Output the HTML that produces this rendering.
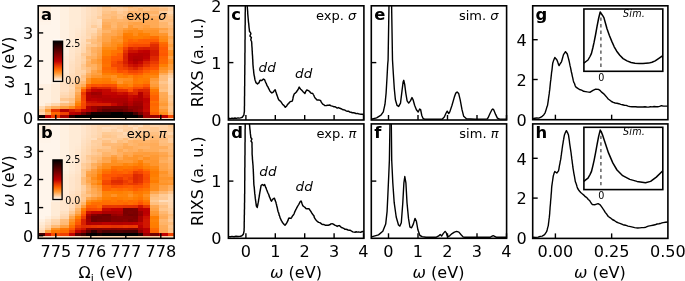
<!DOCTYPE html>
<html><head><meta charset="utf-8"><title>RIXS figure</title>
<style>html,body{margin:0;padding:0;background:#fff;overflow:hidden}svg{display:block}</style>
</head><body>
<svg width="685" height="281" viewBox="0 0 685 281" font-family="DejaVu Sans, 'Liberation Sans', sans-serif"><g shape-rendering="crispEdges">
<rect x="38.2" y="117.2" width="6.6" height="2.9" fill="#ffe5cc"/>
<rect x="38.2" y="114.4" width="6.6" height="3.1" fill="#140000"/>
<rect x="38.2" y="111.6" width="6.6" height="3.1" fill="#ffd7af"/>
<rect x="38.2" y="108.8" width="6.6" height="3.1" fill="#ffcb97"/>
<rect x="38.2" y="106.0" width="6.6" height="3.1" fill="#ffdcb8"/>
<rect x="38.2" y="103.2" width="6.6" height="3.1" fill="#fff0e0"/>
<rect x="38.2" y="100.3" width="6.6" height="3.1" fill="#fff0e0"/>
<rect x="38.2" y="97.5" width="6.6" height="3.1" fill="#fff0e0"/>
<rect x="38.2" y="94.7" width="6.6" height="3.1" fill="#fff0e0"/>
<rect x="38.2" y="91.9" width="6.6" height="3.1" fill="#fff0e0"/>
<rect x="38.2" y="89.1" width="6.6" height="3.1" fill="#fff0e0"/>
<rect x="38.2" y="86.3" width="6.6" height="3.1" fill="#fff0e0"/>
<rect x="38.2" y="83.5" width="6.6" height="3.1" fill="#fff0e1"/>
<rect x="38.2" y="80.7" width="6.6" height="3.1" fill="#fff5eb"/>
<rect x="38.2" y="77.9" width="6.6" height="3.1" fill="#fff5eb"/>
<rect x="38.2" y="75.0" width="6.6" height="3.1" fill="#fff5eb"/>
<rect x="38.2" y="72.2" width="6.6" height="3.1" fill="#fff5eb"/>
<rect x="38.2" y="69.4" width="6.6" height="3.1" fill="#fff5eb"/>
<rect x="38.2" y="66.6" width="6.6" height="3.1" fill="#fff5eb"/>
<rect x="38.2" y="63.8" width="6.6" height="3.1" fill="#fff5eb"/>
<rect x="38.2" y="61.0" width="6.6" height="3.1" fill="#fff5eb"/>
<rect x="38.2" y="58.2" width="6.6" height="3.1" fill="#fff5eb"/>
<rect x="38.2" y="55.4" width="6.6" height="3.1" fill="#fff5eb"/>
<rect x="38.2" y="52.6" width="6.6" height="3.1" fill="#fff5eb"/>
<rect x="38.2" y="49.8" width="6.6" height="3.1" fill="#fff5eb"/>
<rect x="38.2" y="47.0" width="6.6" height="3.1" fill="#fff5eb"/>
<rect x="38.2" y="44.1" width="6.6" height="3.1" fill="#fff5eb"/>
<rect x="38.2" y="41.3" width="6.6" height="3.1" fill="#fff5eb"/>
<rect x="38.2" y="38.5" width="6.6" height="3.1" fill="#fff5eb"/>
<rect x="38.2" y="35.7" width="6.6" height="3.1" fill="#fff5eb"/>
<rect x="38.2" y="32.9" width="6.6" height="3.1" fill="#fff5eb"/>
<rect x="38.2" y="30.1" width="6.6" height="3.1" fill="#fff5eb"/>
<rect x="38.2" y="27.3" width="6.6" height="3.1" fill="#fff5eb"/>
<rect x="38.2" y="24.5" width="6.6" height="3.1" fill="#fff5eb"/>
<rect x="38.2" y="21.7" width="6.6" height="3.1" fill="#fff4e9"/>
<rect x="38.2" y="18.8" width="6.6" height="3.1" fill="#fff2e6"/>
<rect x="38.2" y="16.0" width="6.6" height="3.1" fill="#fff1e3"/>
<rect x="38.2" y="13.2" width="6.6" height="3.1" fill="#fff0e0"/>
<rect x="38.2" y="10.4" width="6.6" height="3.1" fill="#fff0e0"/>
<rect x="38.2" y="7.6" width="6.6" height="3.1" fill="#fff0e0"/>
<rect x="38.2" y="5.8" width="6.6" height="2.1" fill="#fff0e0"/>
<rect x="44.5" y="117.2" width="6.6" height="2.9" fill="#ffe5cc"/>
<rect x="44.5" y="114.4" width="6.6" height="3.1" fill="#ba0000"/>
<rect x="44.5" y="111.6" width="6.6" height="3.1" fill="#ffb367"/>
<rect x="44.5" y="108.8" width="6.6" height="3.1" fill="#ff9933"/>
<rect x="44.5" y="106.0" width="6.6" height="3.1" fill="#ffc182"/>
<rect x="44.5" y="103.2" width="6.6" height="3.1" fill="#ffe6cc"/>
<rect x="44.5" y="100.3" width="6.6" height="3.1" fill="#fff0e0"/>
<rect x="44.5" y="97.5" width="6.6" height="3.1" fill="#fff0e0"/>
<rect x="44.5" y="94.7" width="6.6" height="3.1" fill="#fff0e0"/>
<rect x="44.5" y="91.9" width="6.6" height="3.1" fill="#fff0e0"/>
<rect x="44.5" y="89.1" width="6.6" height="3.1" fill="#fff0e0"/>
<rect x="44.5" y="86.3" width="6.6" height="3.1" fill="#fff0e0"/>
<rect x="44.5" y="83.5" width="6.6" height="3.1" fill="#fff0e1"/>
<rect x="44.5" y="80.7" width="6.6" height="3.1" fill="#fff5eb"/>
<rect x="44.5" y="77.9" width="6.6" height="3.1" fill="#fff5eb"/>
<rect x="44.5" y="75.0" width="6.6" height="3.1" fill="#fff5eb"/>
<rect x="44.5" y="72.2" width="6.6" height="3.1" fill="#fff5eb"/>
<rect x="44.5" y="69.4" width="6.6" height="3.1" fill="#fff5eb"/>
<rect x="44.5" y="66.6" width="6.6" height="3.1" fill="#fff5eb"/>
<rect x="44.5" y="63.8" width="6.6" height="3.1" fill="#fff5eb"/>
<rect x="44.5" y="61.0" width="6.6" height="3.1" fill="#fff5eb"/>
<rect x="44.5" y="58.2" width="6.6" height="3.1" fill="#fff5eb"/>
<rect x="44.5" y="55.4" width="6.6" height="3.1" fill="#fff5eb"/>
<rect x="44.5" y="52.6" width="6.6" height="3.1" fill="#fff5eb"/>
<rect x="44.5" y="49.8" width="6.6" height="3.1" fill="#fff5eb"/>
<rect x="44.5" y="47.0" width="6.6" height="3.1" fill="#fff5eb"/>
<rect x="44.5" y="44.1" width="6.6" height="3.1" fill="#fff5eb"/>
<rect x="44.5" y="41.3" width="6.6" height="3.1" fill="#fff5eb"/>
<rect x="44.5" y="38.5" width="6.6" height="3.1" fill="#fff5eb"/>
<rect x="44.5" y="35.7" width="6.6" height="3.1" fill="#fff5eb"/>
<rect x="44.5" y="32.9" width="6.6" height="3.1" fill="#fff5eb"/>
<rect x="44.5" y="30.1" width="6.6" height="3.1" fill="#fff5eb"/>
<rect x="44.5" y="27.3" width="6.6" height="3.1" fill="#fff5eb"/>
<rect x="44.5" y="24.5" width="6.6" height="3.1" fill="#fff5eb"/>
<rect x="44.5" y="21.7" width="6.6" height="3.1" fill="#fff4e9"/>
<rect x="44.5" y="18.8" width="6.6" height="3.1" fill="#fff2e6"/>
<rect x="44.5" y="16.0" width="6.6" height="3.1" fill="#fff1e3"/>
<rect x="44.5" y="13.2" width="6.6" height="3.1" fill="#fff0e0"/>
<rect x="44.5" y="10.4" width="6.6" height="3.1" fill="#fff0e0"/>
<rect x="44.5" y="7.6" width="6.6" height="3.1" fill="#fff0e0"/>
<rect x="44.5" y="5.8" width="6.6" height="2.1" fill="#fff0e0"/>
<rect x="50.8" y="117.2" width="9.5" height="2.9" fill="#ffe5cc"/>
<rect x="50.8" y="114.4" width="9.5" height="3.1" fill="#ea3900"/>
<rect x="50.8" y="111.6" width="9.5" height="3.1" fill="#ff6600"/>
<rect x="50.8" y="108.8" width="9.5" height="3.1" fill="#e53200"/>
<rect x="50.8" y="106.0" width="9.5" height="3.1" fill="#ffae5c"/>
<rect x="50.8" y="103.2" width="9.5" height="3.1" fill="#ffd7ae"/>
<rect x="50.8" y="100.3" width="9.5" height="3.1" fill="#ffebd6"/>
<rect x="50.8" y="97.5" width="9.5" height="3.1" fill="#ffebd6"/>
<rect x="50.8" y="94.7" width="9.5" height="3.1" fill="#ffebd6"/>
<rect x="50.8" y="91.9" width="9.5" height="3.1" fill="#ffebd6"/>
<rect x="50.8" y="89.1" width="9.5" height="3.1" fill="#ffebd6"/>
<rect x="50.8" y="86.3" width="9.5" height="3.1" fill="#ffebd6"/>
<rect x="50.8" y="83.5" width="9.5" height="3.1" fill="#ffebd7"/>
<rect x="50.8" y="80.7" width="9.5" height="3.1" fill="#fff0e0"/>
<rect x="50.8" y="77.9" width="9.5" height="3.1" fill="#fff0e0"/>
<rect x="50.8" y="75.0" width="9.5" height="3.1" fill="#fff0e0"/>
<rect x="50.8" y="72.2" width="9.5" height="3.1" fill="#fff0e0"/>
<rect x="50.8" y="69.4" width="9.5" height="3.1" fill="#fff0e0"/>
<rect x="50.8" y="66.6" width="9.5" height="3.1" fill="#fff0e0"/>
<rect x="50.8" y="63.8" width="9.5" height="3.1" fill="#fff0e0"/>
<rect x="50.8" y="61.0" width="9.5" height="3.1" fill="#fff0e0"/>
<rect x="50.8" y="58.2" width="9.5" height="3.1" fill="#fff0e0"/>
<rect x="50.8" y="55.4" width="9.5" height="3.1" fill="#fff1e2"/>
<rect x="50.8" y="52.6" width="9.5" height="3.1" fill="#fff3e7"/>
<rect x="50.8" y="49.8" width="9.5" height="3.1" fill="#fff5eb"/>
<rect x="50.8" y="47.0" width="9.5" height="3.1" fill="#fff5eb"/>
<rect x="50.8" y="44.1" width="9.5" height="3.1" fill="#fff5eb"/>
<rect x="50.8" y="41.3" width="9.5" height="3.1" fill="#fff5eb"/>
<rect x="50.8" y="38.5" width="9.5" height="3.1" fill="#fff5eb"/>
<rect x="50.8" y="35.7" width="9.5" height="3.1" fill="#fff5eb"/>
<rect x="50.8" y="32.9" width="9.5" height="3.1" fill="#fff5eb"/>
<rect x="50.8" y="30.1" width="9.5" height="3.1" fill="#fff5eb"/>
<rect x="50.8" y="27.3" width="9.5" height="3.1" fill="#fff5eb"/>
<rect x="50.8" y="24.5" width="9.5" height="3.1" fill="#fff5eb"/>
<rect x="50.8" y="21.7" width="9.5" height="3.1" fill="#fff5eb"/>
<rect x="50.8" y="18.8" width="9.5" height="3.1" fill="#fff5eb"/>
<rect x="50.8" y="16.0" width="9.5" height="3.1" fill="#fff5eb"/>
<rect x="50.8" y="13.2" width="9.5" height="3.1" fill="#fff5eb"/>
<rect x="50.8" y="10.4" width="9.5" height="3.1" fill="#fff5eb"/>
<rect x="50.8" y="7.6" width="9.5" height="3.1" fill="#fff5eb"/>
<rect x="50.8" y="5.8" width="9.5" height="2.1" fill="#fff5eb"/>
<rect x="60.0" y="117.2" width="9.0" height="2.9" fill="#ffe5cc"/>
<rect x="60.0" y="114.4" width="9.0" height="3.1" fill="#9f0000"/>
<rect x="60.0" y="111.6" width="9.0" height="3.1" fill="#f04000"/>
<rect x="60.0" y="108.8" width="9.0" height="3.1" fill="#b30000"/>
<rect x="60.0" y="106.0" width="9.0" height="3.1" fill="#ff9e3d"/>
<rect x="60.0" y="103.2" width="9.0" height="3.1" fill="#ffbe7e"/>
<rect x="60.0" y="100.3" width="9.0" height="3.1" fill="#ffdab4"/>
<rect x="60.0" y="97.5" width="9.0" height="3.1" fill="#ffc892"/>
<rect x="60.0" y="94.7" width="9.0" height="3.1" fill="#ffd6ae"/>
<rect x="60.0" y="91.9" width="9.0" height="3.1" fill="#ffdbb8"/>
<rect x="60.0" y="89.1" width="9.0" height="3.1" fill="#ffe0c2"/>
<rect x="60.0" y="86.3" width="9.0" height="3.1" fill="#ffe0c2"/>
<rect x="60.0" y="83.5" width="9.0" height="3.1" fill="#ffe0c2"/>
<rect x="60.0" y="80.7" width="9.0" height="3.1" fill="#ffe1c2"/>
<rect x="60.0" y="77.9" width="9.0" height="3.1" fill="#ffe3c7"/>
<rect x="60.0" y="75.0" width="9.0" height="3.1" fill="#ffe5cb"/>
<rect x="60.0" y="72.2" width="9.0" height="3.1" fill="#ffe8d0"/>
<rect x="60.0" y="69.4" width="9.0" height="3.1" fill="#ffead5"/>
<rect x="60.0" y="66.6" width="9.0" height="3.1" fill="#ffebd6"/>
<rect x="60.0" y="63.8" width="9.0" height="3.1" fill="#ffebd6"/>
<rect x="60.0" y="61.0" width="9.0" height="3.1" fill="#ffebd6"/>
<rect x="60.0" y="58.2" width="9.0" height="3.1" fill="#ffebd6"/>
<rect x="60.0" y="55.4" width="9.0" height="3.1" fill="#ffecd8"/>
<rect x="60.0" y="52.6" width="9.0" height="3.1" fill="#ffeedd"/>
<rect x="60.0" y="49.8" width="9.0" height="3.1" fill="#fff0e0"/>
<rect x="60.0" y="47.0" width="9.0" height="3.1" fill="#fff0e0"/>
<rect x="60.0" y="44.1" width="9.0" height="3.1" fill="#fff0e0"/>
<rect x="60.0" y="41.3" width="9.0" height="3.1" fill="#fff0e0"/>
<rect x="60.0" y="38.5" width="9.0" height="3.1" fill="#fff0e0"/>
<rect x="60.0" y="35.7" width="9.0" height="3.1" fill="#fff0e0"/>
<rect x="60.0" y="32.9" width="9.0" height="3.1" fill="#fff0e0"/>
<rect x="60.0" y="30.1" width="9.0" height="3.1" fill="#fff0e0"/>
<rect x="60.0" y="27.3" width="9.0" height="3.1" fill="#fff0e0"/>
<rect x="60.0" y="24.5" width="9.0" height="3.1" fill="#fff0e0"/>
<rect x="60.0" y="21.7" width="9.0" height="3.1" fill="#fff0e0"/>
<rect x="60.0" y="18.8" width="9.0" height="3.1" fill="#fff0e0"/>
<rect x="60.0" y="16.0" width="9.0" height="3.1" fill="#fff0e0"/>
<rect x="60.0" y="13.2" width="9.0" height="3.1" fill="#fff0e0"/>
<rect x="60.0" y="10.4" width="9.0" height="3.1" fill="#fff0e0"/>
<rect x="60.0" y="7.6" width="9.0" height="3.1" fill="#fff0e0"/>
<rect x="60.0" y="5.8" width="9.0" height="2.1" fill="#fff0e0"/>
<rect x="68.7" y="117.2" width="6.9" height="2.9" fill="#ffe5cc"/>
<rect x="68.7" y="114.4" width="6.9" height="3.1" fill="#270000"/>
<rect x="68.7" y="111.6" width="6.9" height="3.1" fill="#b90000"/>
<rect x="68.7" y="108.8" width="6.9" height="3.1" fill="#d11800"/>
<rect x="68.7" y="106.0" width="6.9" height="3.1" fill="#ff8d1b"/>
<rect x="68.7" y="103.2" width="6.9" height="3.1" fill="#ffb469"/>
<rect x="68.7" y="100.3" width="6.9" height="3.1" fill="#ffc68c"/>
<rect x="68.7" y="97.5" width="6.9" height="3.1" fill="#ffc184"/>
<rect x="68.7" y="94.7" width="6.9" height="3.1" fill="#ffcf9f"/>
<rect x="68.7" y="91.9" width="6.9" height="3.1" fill="#ffd2a5"/>
<rect x="68.7" y="89.1" width="6.9" height="3.1" fill="#ffd6ad"/>
<rect x="68.7" y="86.3" width="6.9" height="3.1" fill="#ffdab5"/>
<rect x="68.7" y="83.5" width="6.9" height="3.1" fill="#ffd6ad"/>
<rect x="68.7" y="80.7" width="6.9" height="3.1" fill="#ffd6ae"/>
<rect x="68.7" y="77.9" width="6.9" height="3.1" fill="#ffd9b2"/>
<rect x="68.7" y="75.0" width="6.9" height="3.1" fill="#ffdbb7"/>
<rect x="68.7" y="72.2" width="6.9" height="3.1" fill="#ffddbc"/>
<rect x="68.7" y="69.4" width="6.9" height="3.1" fill="#ffe0c0"/>
<rect x="68.7" y="66.6" width="6.9" height="3.1" fill="#ffe0c2"/>
<rect x="68.7" y="63.8" width="6.9" height="3.1" fill="#ffe0c2"/>
<rect x="68.7" y="61.0" width="6.9" height="3.1" fill="#ffe2c5"/>
<rect x="68.7" y="58.2" width="6.9" height="3.1" fill="#ffe4c9"/>
<rect x="68.7" y="55.4" width="6.9" height="3.1" fill="#ffe5cc"/>
<rect x="68.7" y="52.6" width="6.9" height="3.1" fill="#ffe5cc"/>
<rect x="68.7" y="49.8" width="6.9" height="3.1" fill="#ffe6cd"/>
<rect x="68.7" y="47.0" width="6.9" height="3.1" fill="#ffe8d1"/>
<rect x="68.7" y="44.1" width="6.9" height="3.1" fill="#ffead5"/>
<rect x="68.7" y="41.3" width="6.9" height="3.1" fill="#ffebd6"/>
<rect x="68.7" y="38.5" width="6.9" height="3.1" fill="#ffebd6"/>
<rect x="68.7" y="35.7" width="6.9" height="3.1" fill="#ffebd6"/>
<rect x="68.7" y="32.9" width="6.9" height="3.1" fill="#ffebd6"/>
<rect x="68.7" y="30.1" width="6.9" height="3.1" fill="#ffebd6"/>
<rect x="68.7" y="27.3" width="6.9" height="3.1" fill="#ffebd6"/>
<rect x="68.7" y="24.5" width="6.9" height="3.1" fill="#ffebd6"/>
<rect x="68.7" y="21.7" width="6.9" height="3.1" fill="#ffebd6"/>
<rect x="68.7" y="18.8" width="6.9" height="3.1" fill="#ffebd6"/>
<rect x="68.7" y="16.0" width="6.9" height="3.1" fill="#ffebd6"/>
<rect x="68.7" y="13.2" width="6.9" height="3.1" fill="#ffebd6"/>
<rect x="68.7" y="10.4" width="6.9" height="3.1" fill="#ffebd6"/>
<rect x="68.7" y="7.6" width="6.9" height="3.1" fill="#ffebd6"/>
<rect x="68.7" y="5.8" width="6.9" height="2.1" fill="#ffebd6"/>
<rect x="75.3" y="117.2" width="5.9" height="2.9" fill="#ffe0c2"/>
<rect x="75.3" y="114.4" width="5.9" height="3.1" fill="#000000"/>
<rect x="75.3" y="111.6" width="5.9" height="3.1" fill="#ad0000"/>
<rect x="75.3" y="108.8" width="5.9" height="3.1" fill="#df2a00"/>
<rect x="75.3" y="106.0" width="5.9" height="3.1" fill="#ff6000"/>
<rect x="75.3" y="103.2" width="5.9" height="3.1" fill="#ff7f00"/>
<rect x="75.3" y="100.3" width="5.9" height="3.1" fill="#ff8c1a"/>
<rect x="75.3" y="97.5" width="5.9" height="3.1" fill="#ff9933"/>
<rect x="75.3" y="94.7" width="5.9" height="3.1" fill="#ffa042"/>
<rect x="75.3" y="91.9" width="5.9" height="3.1" fill="#ffa954"/>
<rect x="75.3" y="89.1" width="5.9" height="3.1" fill="#ffb76e"/>
<rect x="75.3" y="86.3" width="5.9" height="3.1" fill="#ffaf5f"/>
<rect x="75.3" y="83.5" width="5.9" height="3.1" fill="#ffb973"/>
<rect x="75.3" y="80.7" width="5.9" height="3.1" fill="#ffc183"/>
<rect x="75.3" y="77.9" width="5.9" height="3.1" fill="#ffca96"/>
<rect x="75.3" y="75.0" width="5.9" height="3.1" fill="#ffd8b2"/>
<rect x="75.3" y="72.2" width="5.9" height="3.1" fill="#ffd6ad"/>
<rect x="75.3" y="69.4" width="5.9" height="3.1" fill="#ffd6ad"/>
<rect x="75.3" y="66.6" width="5.9" height="3.1" fill="#ffd8b1"/>
<rect x="75.3" y="63.8" width="5.9" height="3.1" fill="#ffdab6"/>
<rect x="75.3" y="61.0" width="5.9" height="3.1" fill="#ffdbb8"/>
<rect x="75.3" y="58.2" width="5.9" height="3.1" fill="#ffdbb8"/>
<rect x="75.3" y="55.4" width="5.9" height="3.1" fill="#ffdcba"/>
<rect x="75.3" y="52.6" width="5.9" height="3.1" fill="#ffdfbe"/>
<rect x="75.3" y="49.8" width="5.9" height="3.1" fill="#ffe1c3"/>
<rect x="75.3" y="47.0" width="5.9" height="3.1" fill="#ffe3c7"/>
<rect x="75.3" y="44.1" width="5.9" height="3.1" fill="#ffe5cb"/>
<rect x="75.3" y="41.3" width="5.9" height="3.1" fill="#ffe5cc"/>
<rect x="75.3" y="38.5" width="5.9" height="3.1" fill="#ffe5cc"/>
<rect x="75.3" y="35.7" width="5.9" height="3.1" fill="#ffe5cc"/>
<rect x="75.3" y="32.9" width="5.9" height="3.1" fill="#ffe6cd"/>
<rect x="75.3" y="30.1" width="5.9" height="3.1" fill="#ffe7d0"/>
<rect x="75.3" y="27.3" width="5.9" height="3.1" fill="#ffe9d2"/>
<rect x="75.3" y="24.5" width="5.9" height="3.1" fill="#ffead5"/>
<rect x="75.3" y="21.7" width="5.9" height="3.1" fill="#ffebd6"/>
<rect x="75.3" y="18.8" width="5.9" height="3.1" fill="#ffebd6"/>
<rect x="75.3" y="16.0" width="5.9" height="3.1" fill="#ffebd6"/>
<rect x="75.3" y="13.2" width="5.9" height="3.1" fill="#ffebd6"/>
<rect x="75.3" y="10.4" width="5.9" height="3.1" fill="#ffebd6"/>
<rect x="75.3" y="7.6" width="5.9" height="3.1" fill="#ffebd6"/>
<rect x="75.3" y="5.8" width="5.9" height="2.1" fill="#ffebd6"/>
<rect x="80.9" y="117.2" width="5.4" height="2.9" fill="#ffe0c2"/>
<rect x="80.9" y="114.4" width="5.4" height="3.1" fill="#000000"/>
<rect x="80.9" y="111.6" width="5.4" height="3.1" fill="#770000"/>
<rect x="80.9" y="108.8" width="5.4" height="3.1" fill="#c30400"/>
<rect x="80.9" y="106.0" width="5.4" height="3.1" fill="#f34500"/>
<rect x="80.9" y="103.2" width="5.4" height="3.1" fill="#f54800"/>
<rect x="80.9" y="100.3" width="5.4" height="3.1" fill="#fa4e00"/>
<rect x="80.9" y="97.5" width="5.4" height="3.1" fill="#f44600"/>
<rect x="80.9" y="94.7" width="5.4" height="3.1" fill="#f34400"/>
<rect x="80.9" y="91.9" width="5.4" height="3.1" fill="#eb3b00"/>
<rect x="80.9" y="89.1" width="5.4" height="3.1" fill="#ff5c00"/>
<rect x="80.9" y="86.3" width="5.4" height="3.1" fill="#ff8a15"/>
<rect x="80.9" y="83.5" width="5.4" height="3.1" fill="#ffaa55"/>
<rect x="80.9" y="80.7" width="5.4" height="3.1" fill="#ffba76"/>
<rect x="80.9" y="77.9" width="5.4" height="3.1" fill="#ffc78f"/>
<rect x="80.9" y="75.0" width="5.4" height="3.1" fill="#ffc286"/>
<rect x="80.9" y="72.2" width="5.4" height="3.1" fill="#ffce9d"/>
<rect x="80.9" y="69.4" width="5.4" height="3.1" fill="#ffd4a9"/>
<rect x="80.9" y="66.6" width="5.4" height="3.1" fill="#ffca94"/>
<rect x="80.9" y="63.8" width="5.4" height="3.1" fill="#ffc78f"/>
<rect x="80.9" y="61.0" width="5.4" height="3.1" fill="#ffd0a1"/>
<rect x="80.9" y="58.2" width="5.4" height="3.1" fill="#ffd4a8"/>
<rect x="80.9" y="55.4" width="5.4" height="3.1" fill="#ffd1a3"/>
<rect x="80.9" y="52.6" width="5.4" height="3.1" fill="#ffca96"/>
<rect x="80.9" y="49.8" width="5.4" height="3.1" fill="#ffd7af"/>
<rect x="80.9" y="47.0" width="5.4" height="3.1" fill="#ffd9b3"/>
<rect x="80.9" y="44.1" width="5.4" height="3.1" fill="#ffdbb7"/>
<rect x="80.9" y="41.3" width="5.4" height="3.1" fill="#ffdcba"/>
<rect x="80.9" y="38.5" width="5.4" height="3.1" fill="#ffdebd"/>
<rect x="80.9" y="35.7" width="5.4" height="3.1" fill="#ffdfc0"/>
<rect x="80.9" y="32.9" width="5.4" height="3.1" fill="#ffe1c3"/>
<rect x="80.9" y="30.1" width="5.4" height="3.1" fill="#ffe2c5"/>
<rect x="80.9" y="27.3" width="5.4" height="3.1" fill="#ffe4c8"/>
<rect x="80.9" y="24.5" width="5.4" height="3.1" fill="#ffe5cb"/>
<rect x="80.9" y="21.7" width="5.4" height="3.1" fill="#ffe5cc"/>
<rect x="80.9" y="18.8" width="5.4" height="3.1" fill="#ffe5cc"/>
<rect x="80.9" y="16.0" width="5.4" height="3.1" fill="#ffe5cc"/>
<rect x="80.9" y="13.2" width="5.4" height="3.1" fill="#ffe5cc"/>
<rect x="80.9" y="10.4" width="5.4" height="3.1" fill="#ffe5cc"/>
<rect x="80.9" y="7.6" width="5.4" height="3.1" fill="#ffe5cc"/>
<rect x="80.9" y="5.8" width="5.4" height="2.1" fill="#ffe5cc"/>
<rect x="86.0" y="117.2" width="5.4" height="2.9" fill="#ffe0c2"/>
<rect x="86.0" y="114.4" width="5.4" height="3.1" fill="#000000"/>
<rect x="86.0" y="111.6" width="5.4" height="3.1" fill="#490000"/>
<rect x="86.0" y="108.8" width="5.4" height="3.1" fill="#b10000"/>
<rect x="86.0" y="106.0" width="5.4" height="3.1" fill="#b40000"/>
<rect x="86.0" y="103.2" width="5.4" height="3.1" fill="#d82100"/>
<rect x="86.0" y="100.3" width="5.4" height="3.1" fill="#cd1200"/>
<rect x="86.0" y="97.5" width="5.4" height="3.1" fill="#b70000"/>
<rect x="86.0" y="94.7" width="5.4" height="3.1" fill="#b80000"/>
<rect x="86.0" y="91.9" width="5.4" height="3.1" fill="#b40000"/>
<rect x="86.0" y="89.1" width="5.4" height="3.1" fill="#d41c00"/>
<rect x="86.0" y="86.3" width="5.4" height="3.1" fill="#f64900"/>
<rect x="86.0" y="83.5" width="5.4" height="3.1" fill="#ff6300"/>
<rect x="86.0" y="80.7" width="5.4" height="3.1" fill="#ff9123"/>
<rect x="86.0" y="77.9" width="5.4" height="3.1" fill="#ff9327"/>
<rect x="86.0" y="75.0" width="5.4" height="3.1" fill="#ffa852"/>
<rect x="86.0" y="72.2" width="5.4" height="3.1" fill="#ffaf5e"/>
<rect x="86.0" y="69.4" width="5.4" height="3.1" fill="#ffbe7e"/>
<rect x="86.0" y="66.6" width="5.4" height="3.1" fill="#ffbf7f"/>
<rect x="86.0" y="63.8" width="5.4" height="3.1" fill="#ffb061"/>
<rect x="86.0" y="61.0" width="5.4" height="3.1" fill="#ffb265"/>
<rect x="86.0" y="58.2" width="5.4" height="3.1" fill="#ffbb77"/>
<rect x="86.0" y="55.4" width="5.4" height="3.1" fill="#ffb366"/>
<rect x="86.0" y="52.6" width="5.4" height="3.1" fill="#ffc489"/>
<rect x="86.0" y="49.8" width="5.4" height="3.1" fill="#ffc58b"/>
<rect x="86.0" y="47.0" width="5.4" height="3.1" fill="#ffc182"/>
<rect x="86.0" y="44.1" width="5.4" height="3.1" fill="#ffc992"/>
<rect x="86.0" y="41.3" width="5.4" height="3.1" fill="#ffd6ac"/>
<rect x="86.0" y="38.5" width="5.4" height="3.1" fill="#ffc891"/>
<rect x="86.0" y="35.7" width="5.4" height="3.1" fill="#ffd9b4"/>
<rect x="86.0" y="32.9" width="5.4" height="3.1" fill="#ffd7ae"/>
<rect x="86.0" y="30.1" width="5.4" height="3.1" fill="#ffd8b1"/>
<rect x="86.0" y="27.3" width="5.4" height="3.1" fill="#ffd9b4"/>
<rect x="86.0" y="24.5" width="5.4" height="3.1" fill="#ffdbb7"/>
<rect x="86.0" y="21.7" width="5.4" height="3.1" fill="#ffdcba"/>
<rect x="86.0" y="18.8" width="5.4" height="3.1" fill="#ffdebc"/>
<rect x="86.0" y="16.0" width="5.4" height="3.1" fill="#ffdfbf"/>
<rect x="86.0" y="13.2" width="5.4" height="3.1" fill="#ffe0c2"/>
<rect x="86.0" y="10.4" width="5.4" height="3.1" fill="#ffe0c2"/>
<rect x="86.0" y="7.6" width="5.4" height="3.1" fill="#ffe0c2"/>
<rect x="86.0" y="5.8" width="5.4" height="2.1" fill="#ffe0c2"/>
<rect x="91.1" y="117.2" width="5.7" height="2.9" fill="#ffe0c2"/>
<rect x="91.1" y="114.4" width="5.7" height="3.1" fill="#000000"/>
<rect x="91.1" y="111.6" width="5.7" height="3.1" fill="#140000"/>
<rect x="91.1" y="108.8" width="5.7" height="3.1" fill="#9c0000"/>
<rect x="91.1" y="106.0" width="5.7" height="3.1" fill="#9a0000"/>
<rect x="91.1" y="103.2" width="5.7" height="3.1" fill="#d51c00"/>
<rect x="91.1" y="100.3" width="5.7" height="3.1" fill="#c90e00"/>
<rect x="91.1" y="97.5" width="5.7" height="3.1" fill="#bd0000"/>
<rect x="91.1" y="94.7" width="5.7" height="3.1" fill="#ae0000"/>
<rect x="91.1" y="91.9" width="5.7" height="3.1" fill="#9d0000"/>
<rect x="91.1" y="89.1" width="5.7" height="3.1" fill="#c00100"/>
<rect x="91.1" y="86.3" width="5.7" height="3.1" fill="#d61e00"/>
<rect x="91.1" y="83.5" width="5.7" height="3.1" fill="#fc5100"/>
<rect x="91.1" y="80.7" width="5.7" height="3.1" fill="#ff7c00"/>
<rect x="91.1" y="77.9" width="5.7" height="3.1" fill="#ff8002"/>
<rect x="91.1" y="75.0" width="5.7" height="3.1" fill="#ff972f"/>
<rect x="91.1" y="72.2" width="5.7" height="3.1" fill="#ffa040"/>
<rect x="91.1" y="69.4" width="5.7" height="3.1" fill="#ffa449"/>
<rect x="91.1" y="66.6" width="5.7" height="3.1" fill="#ffb264"/>
<rect x="91.1" y="63.8" width="5.7" height="3.1" fill="#ffb060"/>
<rect x="91.1" y="61.0" width="5.7" height="3.1" fill="#ffa143"/>
<rect x="91.1" y="58.2" width="5.7" height="3.1" fill="#ffa246"/>
<rect x="91.1" y="55.4" width="5.7" height="3.1" fill="#ffaf5f"/>
<rect x="91.1" y="52.6" width="5.7" height="3.1" fill="#ffb56b"/>
<rect x="91.1" y="49.8" width="5.7" height="3.1" fill="#ffb061"/>
<rect x="91.1" y="47.0" width="5.7" height="3.1" fill="#ffb266"/>
<rect x="91.1" y="44.1" width="5.7" height="3.1" fill="#ffc68d"/>
<rect x="91.1" y="41.3" width="5.7" height="3.1" fill="#ffbc79"/>
<rect x="91.1" y="38.5" width="5.7" height="3.1" fill="#ffc081"/>
<rect x="91.1" y="35.7" width="5.7" height="3.1" fill="#ffc891"/>
<rect x="91.1" y="32.9" width="5.7" height="3.1" fill="#ffce9d"/>
<rect x="91.1" y="30.1" width="5.7" height="3.1" fill="#ffd7af"/>
<rect x="91.1" y="27.3" width="5.7" height="3.1" fill="#ffdbb7"/>
<rect x="91.1" y="24.5" width="5.7" height="3.1" fill="#ffcd9b"/>
<rect x="91.1" y="21.7" width="5.7" height="3.1" fill="#ffd7af"/>
<rect x="91.1" y="18.8" width="5.7" height="3.1" fill="#ffd9b2"/>
<rect x="91.1" y="16.0" width="5.7" height="3.1" fill="#ffdab5"/>
<rect x="91.1" y="13.2" width="5.7" height="3.1" fill="#ffdbb8"/>
<rect x="91.1" y="10.4" width="5.7" height="3.1" fill="#ffdbb8"/>
<rect x="91.1" y="7.6" width="5.7" height="3.1" fill="#ffdbb8"/>
<rect x="91.1" y="5.8" width="5.7" height="2.1" fill="#ffdbb8"/>
<rect x="96.5" y="117.2" width="5.8" height="2.9" fill="#ffe0c2"/>
<rect x="96.5" y="114.4" width="5.8" height="3.1" fill="#000000"/>
<rect x="96.5" y="111.6" width="5.8" height="3.1" fill="#140000"/>
<rect x="96.5" y="108.8" width="5.8" height="3.1" fill="#770000"/>
<rect x="96.5" y="106.0" width="5.8" height="3.1" fill="#8c0000"/>
<rect x="96.5" y="103.2" width="5.8" height="3.1" fill="#d61e00"/>
<rect x="96.5" y="100.3" width="5.8" height="3.1" fill="#c20400"/>
<rect x="96.5" y="97.5" width="5.8" height="3.1" fill="#b60000"/>
<rect x="96.5" y="94.7" width="5.8" height="3.1" fill="#ab0000"/>
<rect x="96.5" y="91.9" width="5.8" height="3.1" fill="#a20000"/>
<rect x="96.5" y="89.1" width="5.8" height="3.1" fill="#b90000"/>
<rect x="96.5" y="86.3" width="5.8" height="3.1" fill="#dd2800"/>
<rect x="96.5" y="83.5" width="5.8" height="3.1" fill="#fe5300"/>
<rect x="96.5" y="80.7" width="5.8" height="3.1" fill="#ff7a00"/>
<rect x="96.5" y="77.9" width="5.8" height="3.1" fill="#ff8206"/>
<rect x="96.5" y="75.0" width="5.8" height="3.1" fill="#ff952a"/>
<rect x="96.5" y="72.2" width="5.8" height="3.1" fill="#ff9f3f"/>
<rect x="96.5" y="69.4" width="5.8" height="3.1" fill="#ff962c"/>
<rect x="96.5" y="66.6" width="5.8" height="3.1" fill="#ffa041"/>
<rect x="96.5" y="63.8" width="5.8" height="3.1" fill="#ff9f3f"/>
<rect x="96.5" y="61.0" width="5.8" height="3.1" fill="#ff9831"/>
<rect x="96.5" y="58.2" width="5.8" height="3.1" fill="#ff952b"/>
<rect x="96.5" y="55.4" width="5.8" height="3.1" fill="#ff9f3f"/>
<rect x="96.5" y="52.6" width="5.8" height="3.1" fill="#ffa449"/>
<rect x="96.5" y="49.8" width="5.8" height="3.1" fill="#ffa750"/>
<rect x="96.5" y="47.0" width="5.8" height="3.1" fill="#ffaa55"/>
<rect x="96.5" y="44.1" width="5.8" height="3.1" fill="#ffb871"/>
<rect x="96.5" y="41.3" width="5.8" height="3.1" fill="#ffb872"/>
<rect x="96.5" y="38.5" width="5.8" height="3.1" fill="#ffb367"/>
<rect x="96.5" y="35.7" width="5.8" height="3.1" fill="#ffb66c"/>
<rect x="96.5" y="32.9" width="5.8" height="3.1" fill="#ffc081"/>
<rect x="96.5" y="30.1" width="5.8" height="3.1" fill="#ffc488"/>
<rect x="96.5" y="27.3" width="5.8" height="3.1" fill="#ffca95"/>
<rect x="96.5" y="24.5" width="5.8" height="3.1" fill="#ffd6ae"/>
<rect x="96.5" y="21.7" width="5.8" height="3.1" fill="#ffdbb6"/>
<rect x="96.5" y="18.8" width="5.8" height="3.1" fill="#ffdcba"/>
<rect x="96.5" y="16.0" width="5.8" height="3.1" fill="#ffcd9c"/>
<rect x="96.5" y="13.2" width="5.8" height="3.1" fill="#ffd6ad"/>
<rect x="96.5" y="10.4" width="5.8" height="3.1" fill="#ffd6ad"/>
<rect x="96.5" y="7.6" width="5.8" height="3.1" fill="#ffd6ad"/>
<rect x="96.5" y="5.8" width="5.8" height="2.1" fill="#ffd6ad"/>
<rect x="102.0" y="117.2" width="9.1" height="2.9" fill="#ffe0c2"/>
<rect x="102.0" y="114.4" width="9.1" height="3.1" fill="#000000"/>
<rect x="102.0" y="111.6" width="9.1" height="3.1" fill="#140000"/>
<rect x="102.0" y="108.8" width="9.1" height="3.1" fill="#5d0000"/>
<rect x="102.0" y="106.0" width="9.1" height="3.1" fill="#7d0000"/>
<rect x="102.0" y="103.2" width="9.1" height="3.1" fill="#d51d00"/>
<rect x="102.0" y="100.3" width="9.1" height="3.1" fill="#b90000"/>
<rect x="102.0" y="97.5" width="9.1" height="3.1" fill="#b00000"/>
<rect x="102.0" y="94.7" width="9.1" height="3.1" fill="#b50000"/>
<rect x="102.0" y="91.9" width="9.1" height="3.1" fill="#c20400"/>
<rect x="102.0" y="89.1" width="9.1" height="3.1" fill="#c40700"/>
<rect x="102.0" y="86.3" width="9.1" height="3.1" fill="#dd2800"/>
<rect x="102.0" y="83.5" width="9.1" height="3.1" fill="#f94e00"/>
<rect x="102.0" y="80.7" width="9.1" height="3.1" fill="#ff7600"/>
<rect x="102.0" y="77.9" width="9.1" height="3.1" fill="#ff7d00"/>
<rect x="102.0" y="75.0" width="9.1" height="3.1" fill="#ff8913"/>
<rect x="102.0" y="72.2" width="9.1" height="3.1" fill="#ff7f00"/>
<rect x="102.0" y="69.4" width="9.1" height="3.1" fill="#ff6f00"/>
<rect x="102.0" y="66.6" width="9.1" height="3.1" fill="#ff6900"/>
<rect x="102.0" y="63.8" width="9.1" height="3.1" fill="#ff7300"/>
<rect x="102.0" y="61.0" width="9.1" height="3.1" fill="#ff6e00"/>
<rect x="102.0" y="58.2" width="9.1" height="3.1" fill="#ff6d00"/>
<rect x="102.0" y="55.4" width="9.1" height="3.1" fill="#ff7200"/>
<rect x="102.0" y="52.6" width="9.1" height="3.1" fill="#ff8103"/>
<rect x="102.0" y="49.8" width="9.1" height="3.1" fill="#ff8204"/>
<rect x="102.0" y="47.0" width="9.1" height="3.1" fill="#ff8912"/>
<rect x="102.0" y="44.1" width="9.1" height="3.1" fill="#ff962d"/>
<rect x="102.0" y="41.3" width="9.1" height="3.1" fill="#ff9a35"/>
<rect x="102.0" y="38.5" width="9.1" height="3.1" fill="#ffa347"/>
<rect x="102.0" y="35.7" width="9.1" height="3.1" fill="#ffa448"/>
<rect x="102.0" y="32.9" width="9.1" height="3.1" fill="#ffa74f"/>
<rect x="102.0" y="30.1" width="9.1" height="3.1" fill="#ffb468"/>
<rect x="102.0" y="27.3" width="9.1" height="3.1" fill="#ffac59"/>
<rect x="102.0" y="24.5" width="9.1" height="3.1" fill="#ffa952"/>
<rect x="102.0" y="21.7" width="9.1" height="3.1" fill="#ffae5e"/>
<rect x="102.0" y="18.8" width="9.1" height="3.1" fill="#ffb66c"/>
<rect x="102.0" y="16.0" width="9.1" height="3.1" fill="#ffc081"/>
<rect x="102.0" y="13.2" width="9.1" height="3.1" fill="#ffbe7d"/>
<rect x="102.0" y="10.4" width="9.1" height="3.1" fill="#ffc489"/>
<rect x="102.0" y="7.6" width="9.1" height="3.1" fill="#ffca94"/>
<rect x="102.0" y="5.8" width="9.1" height="2.1" fill="#ffc68c"/>
<rect x="110.8" y="117.2" width="6.9" height="2.9" fill="#ffe0c2"/>
<rect x="110.8" y="114.4" width="6.9" height="3.1" fill="#000000"/>
<rect x="110.8" y="111.6" width="6.9" height="3.1" fill="#010000"/>
<rect x="110.8" y="108.8" width="6.9" height="3.1" fill="#660000"/>
<rect x="110.8" y="106.0" width="6.9" height="3.1" fill="#780000"/>
<rect x="110.8" y="103.2" width="6.9" height="3.1" fill="#c60800"/>
<rect x="110.8" y="100.3" width="6.9" height="3.1" fill="#b20000"/>
<rect x="110.8" y="97.5" width="6.9" height="3.1" fill="#b00000"/>
<rect x="110.8" y="94.7" width="6.9" height="3.1" fill="#bc0000"/>
<rect x="110.8" y="91.9" width="6.9" height="3.1" fill="#c10200"/>
<rect x="110.8" y="89.1" width="6.9" height="3.1" fill="#d72000"/>
<rect x="110.8" y="86.3" width="6.9" height="3.1" fill="#e93700"/>
<rect x="110.8" y="83.5" width="6.9" height="3.1" fill="#fc5000"/>
<rect x="110.8" y="80.7" width="6.9" height="3.1" fill="#ff7f00"/>
<rect x="110.8" y="77.9" width="6.9" height="3.1" fill="#ff8d1b"/>
<rect x="110.8" y="75.0" width="6.9" height="3.1" fill="#ff9123"/>
<rect x="110.8" y="72.2" width="6.9" height="3.1" fill="#ff7800"/>
<rect x="110.8" y="69.4" width="6.9" height="3.1" fill="#ff6800"/>
<rect x="110.8" y="66.6" width="6.9" height="3.1" fill="#ff5d00"/>
<rect x="110.8" y="63.8" width="6.9" height="3.1" fill="#f54800"/>
<rect x="110.8" y="61.0" width="6.9" height="3.1" fill="#f94e00"/>
<rect x="110.8" y="58.2" width="6.9" height="3.1" fill="#ff5900"/>
<rect x="110.8" y="55.4" width="6.9" height="3.1" fill="#ff5a00"/>
<rect x="110.8" y="52.6" width="6.9" height="3.1" fill="#ff7000"/>
<rect x="110.8" y="49.8" width="6.9" height="3.1" fill="#ff7500"/>
<rect x="110.8" y="47.0" width="6.9" height="3.1" fill="#ff8811"/>
<rect x="110.8" y="44.1" width="6.9" height="3.1" fill="#ff8e1d"/>
<rect x="110.8" y="41.3" width="6.9" height="3.1" fill="#ff8e1d"/>
<rect x="110.8" y="38.5" width="6.9" height="3.1" fill="#ff9224"/>
<rect x="110.8" y="35.7" width="6.9" height="3.1" fill="#ff9831"/>
<rect x="110.8" y="32.9" width="6.9" height="3.1" fill="#ffa64e"/>
<rect x="110.8" y="30.1" width="6.9" height="3.1" fill="#ffa74f"/>
<rect x="110.8" y="27.3" width="6.9" height="3.1" fill="#ffb061"/>
<rect x="110.8" y="24.5" width="6.9" height="3.1" fill="#ffb871"/>
<rect x="110.8" y="21.7" width="6.9" height="3.1" fill="#ffb66c"/>
<rect x="110.8" y="18.8" width="6.9" height="3.1" fill="#ffb468"/>
<rect x="110.8" y="16.0" width="6.9" height="3.1" fill="#ffb870"/>
<rect x="110.8" y="13.2" width="6.9" height="3.1" fill="#ffbe7e"/>
<rect x="110.8" y="10.4" width="6.9" height="3.1" fill="#ffbd7b"/>
<rect x="110.8" y="7.6" width="6.9" height="3.1" fill="#ffcd9a"/>
<rect x="110.8" y="5.8" width="6.9" height="2.1" fill="#ffd2a5"/>
<rect x="117.4" y="117.2" width="5.7" height="2.9" fill="#ffe0c2"/>
<rect x="117.4" y="114.4" width="5.7" height="3.1" fill="#000000"/>
<rect x="117.4" y="111.6" width="5.7" height="3.1" fill="#010000"/>
<rect x="117.4" y="108.8" width="5.7" height="3.1" fill="#610000"/>
<rect x="117.4" y="106.0" width="5.7" height="3.1" fill="#7a0000"/>
<rect x="117.4" y="103.2" width="5.7" height="3.1" fill="#b00000"/>
<rect x="117.4" y="100.3" width="5.7" height="3.1" fill="#ad0000"/>
<rect x="117.4" y="97.5" width="5.7" height="3.1" fill="#ae0000"/>
<rect x="117.4" y="94.7" width="5.7" height="3.1" fill="#b80000"/>
<rect x="117.4" y="91.9" width="5.7" height="3.1" fill="#ca0f00"/>
<rect x="117.4" y="89.1" width="5.7" height="3.1" fill="#e63300"/>
<rect x="117.4" y="86.3" width="5.7" height="3.1" fill="#ff5e00"/>
<rect x="117.4" y="83.5" width="5.7" height="3.1" fill="#ff7c00"/>
<rect x="117.4" y="80.7" width="5.7" height="3.1" fill="#ff962e"/>
<rect x="117.4" y="77.9" width="5.7" height="3.1" fill="#ff9326"/>
<rect x="117.4" y="75.0" width="5.7" height="3.1" fill="#ff7f00"/>
<rect x="117.4" y="72.2" width="5.7" height="3.1" fill="#ff7700"/>
<rect x="117.4" y="69.4" width="5.7" height="3.1" fill="#fc5000"/>
<rect x="117.4" y="66.6" width="5.7" height="3.1" fill="#f44600"/>
<rect x="117.4" y="63.8" width="5.7" height="3.1" fill="#f24400"/>
<rect x="117.4" y="61.0" width="5.7" height="3.1" fill="#ec3c00"/>
<rect x="117.4" y="58.2" width="5.7" height="3.1" fill="#fc5100"/>
<rect x="117.4" y="55.4" width="5.7" height="3.1" fill="#ff5800"/>
<rect x="117.4" y="52.6" width="5.7" height="3.1" fill="#ff5e00"/>
<rect x="117.4" y="49.8" width="5.7" height="3.1" fill="#ff7200"/>
<rect x="117.4" y="47.0" width="5.7" height="3.1" fill="#ff6d00"/>
<rect x="117.4" y="44.1" width="5.7" height="3.1" fill="#ff8206"/>
<rect x="117.4" y="41.3" width="5.7" height="3.1" fill="#ff8c19"/>
<rect x="117.4" y="38.5" width="5.7" height="3.1" fill="#ff952b"/>
<rect x="117.4" y="35.7" width="5.7" height="3.1" fill="#ff9123"/>
<rect x="117.4" y="32.9" width="5.7" height="3.1" fill="#ff9c39"/>
<rect x="117.4" y="30.1" width="5.7" height="3.1" fill="#ffa040"/>
<rect x="117.4" y="27.3" width="5.7" height="3.1" fill="#ffa64e"/>
<rect x="117.4" y="24.5" width="5.7" height="3.1" fill="#ffab56"/>
<rect x="117.4" y="21.7" width="5.7" height="3.1" fill="#ffad5b"/>
<rect x="117.4" y="18.8" width="5.7" height="3.1" fill="#ffb66e"/>
<rect x="117.4" y="16.0" width="5.7" height="3.1" fill="#ffc488"/>
<rect x="117.4" y="13.2" width="5.7" height="3.1" fill="#ffc386"/>
<rect x="117.4" y="10.4" width="5.7" height="3.1" fill="#ffcb98"/>
<rect x="117.4" y="7.6" width="5.7" height="3.1" fill="#ffd2a4"/>
<rect x="117.4" y="5.8" width="5.7" height="2.1" fill="#ffcc9a"/>
<rect x="122.8" y="117.2" width="5.5" height="2.9" fill="#ffe0c2"/>
<rect x="122.8" y="114.4" width="5.5" height="3.1" fill="#000000"/>
<rect x="122.8" y="111.6" width="5.5" height="3.1" fill="#140000"/>
<rect x="122.8" y="108.8" width="5.5" height="3.1" fill="#700000"/>
<rect x="122.8" y="106.0" width="5.5" height="3.1" fill="#7b0000"/>
<rect x="122.8" y="103.2" width="5.5" height="3.1" fill="#9c0000"/>
<rect x="122.8" y="100.3" width="5.5" height="3.1" fill="#a70000"/>
<rect x="122.8" y="97.5" width="5.5" height="3.1" fill="#ad0000"/>
<rect x="122.8" y="94.7" width="5.5" height="3.1" fill="#b80000"/>
<rect x="122.8" y="91.9" width="5.5" height="3.1" fill="#c60900"/>
<rect x="122.8" y="89.1" width="5.5" height="3.1" fill="#e73500"/>
<rect x="122.8" y="86.3" width="5.5" height="3.1" fill="#ff6900"/>
<rect x="122.8" y="83.5" width="5.5" height="3.1" fill="#ff7600"/>
<rect x="122.8" y="80.7" width="5.5" height="3.1" fill="#ff870f"/>
<rect x="122.8" y="77.9" width="5.5" height="3.1" fill="#ff8f1f"/>
<rect x="122.8" y="75.0" width="5.5" height="3.1" fill="#ff7900"/>
<rect x="122.8" y="72.2" width="5.5" height="3.1" fill="#ff6500"/>
<rect x="122.8" y="69.4" width="5.5" height="3.1" fill="#ff5600"/>
<rect x="122.8" y="66.6" width="5.5" height="3.1" fill="#ee3e00"/>
<rect x="122.8" y="63.8" width="5.5" height="3.1" fill="#e12d00"/>
<rect x="122.8" y="61.0" width="5.5" height="3.1" fill="#d61f00"/>
<rect x="122.8" y="58.2" width="5.5" height="3.1" fill="#da2400"/>
<rect x="122.8" y="55.4" width="5.5" height="3.1" fill="#d82100"/>
<rect x="122.8" y="52.6" width="5.5" height="3.1" fill="#db2500"/>
<rect x="122.8" y="49.8" width="5.5" height="3.1" fill="#e63400"/>
<rect x="122.8" y="47.0" width="5.5" height="3.1" fill="#f34500"/>
<rect x="122.8" y="44.1" width="5.5" height="3.1" fill="#ff6300"/>
<rect x="122.8" y="41.3" width="5.5" height="3.1" fill="#ff6900"/>
<rect x="122.8" y="38.5" width="5.5" height="3.1" fill="#ff7800"/>
<rect x="122.8" y="35.7" width="5.5" height="3.1" fill="#ff7600"/>
<rect x="122.8" y="32.9" width="5.5" height="3.1" fill="#ff7d00"/>
<rect x="122.8" y="30.1" width="5.5" height="3.1" fill="#ff8f1f"/>
<rect x="122.8" y="27.3" width="5.5" height="3.1" fill="#ff9c38"/>
<rect x="122.8" y="24.5" width="5.5" height="3.1" fill="#ffb368"/>
<rect x="122.8" y="21.7" width="5.5" height="3.1" fill="#ffaf5f"/>
<rect x="122.8" y="18.8" width="5.5" height="3.1" fill="#ffb368"/>
<rect x="122.8" y="16.0" width="5.5" height="3.1" fill="#ffb973"/>
<rect x="122.8" y="13.2" width="5.5" height="3.1" fill="#ffc68e"/>
<rect x="122.8" y="10.4" width="5.5" height="3.1" fill="#ffc388"/>
<rect x="122.8" y="7.6" width="5.5" height="3.1" fill="#ffce9c"/>
<rect x="122.8" y="5.8" width="5.5" height="2.1" fill="#ffc48a"/>
<rect x="128.0" y="117.2" width="5.3" height="2.9" fill="#ffe0c2"/>
<rect x="128.0" y="114.4" width="5.3" height="3.1" fill="#000000"/>
<rect x="128.0" y="111.6" width="5.3" height="3.1" fill="#140000"/>
<rect x="128.0" y="108.8" width="5.3" height="3.1" fill="#810000"/>
<rect x="128.0" y="106.0" width="5.3" height="3.1" fill="#940000"/>
<rect x="128.0" y="103.2" width="5.3" height="3.1" fill="#b20000"/>
<rect x="128.0" y="100.3" width="5.3" height="3.1" fill="#b90000"/>
<rect x="128.0" y="97.5" width="5.3" height="3.1" fill="#c30400"/>
<rect x="128.0" y="94.7" width="5.3" height="3.1" fill="#c70b00"/>
<rect x="128.0" y="91.9" width="5.3" height="3.1" fill="#d72000"/>
<rect x="128.0" y="89.1" width="5.3" height="3.1" fill="#fc5100"/>
<rect x="128.0" y="86.3" width="5.3" height="3.1" fill="#ff6100"/>
<rect x="128.0" y="83.5" width="5.3" height="3.1" fill="#ff8307"/>
<rect x="128.0" y="80.7" width="5.3" height="3.1" fill="#ff8913"/>
<rect x="128.0" y="77.9" width="5.3" height="3.1" fill="#ff8e1c"/>
<rect x="128.0" y="75.0" width="5.3" height="3.1" fill="#ff8408"/>
<rect x="128.0" y="72.2" width="5.3" height="3.1" fill="#ff5c00"/>
<rect x="128.0" y="69.4" width="5.3" height="3.1" fill="#f24400"/>
<rect x="128.0" y="66.6" width="5.3" height="3.1" fill="#e22e00"/>
<rect x="128.0" y="63.8" width="5.3" height="3.1" fill="#d01600"/>
<rect x="128.0" y="61.0" width="5.3" height="3.1" fill="#c30400"/>
<rect x="128.0" y="58.2" width="5.3" height="3.1" fill="#b80000"/>
<rect x="128.0" y="55.4" width="5.3" height="3.1" fill="#b80000"/>
<rect x="128.0" y="52.6" width="5.3" height="3.1" fill="#bc0000"/>
<rect x="128.0" y="49.8" width="5.3" height="3.1" fill="#cd1200"/>
<rect x="128.0" y="47.0" width="5.3" height="3.1" fill="#db2400"/>
<rect x="128.0" y="44.1" width="5.3" height="3.1" fill="#fa4f00"/>
<rect x="128.0" y="41.3" width="5.3" height="3.1" fill="#ff5d00"/>
<rect x="128.0" y="38.5" width="5.3" height="3.1" fill="#ff6600"/>
<rect x="128.0" y="35.7" width="5.3" height="3.1" fill="#ff7900"/>
<rect x="128.0" y="32.9" width="5.3" height="3.1" fill="#ff7e00"/>
<rect x="128.0" y="30.1" width="5.3" height="3.1" fill="#ff8914"/>
<rect x="128.0" y="27.3" width="5.3" height="3.1" fill="#ff962c"/>
<rect x="128.0" y="24.5" width="5.3" height="3.1" fill="#ff9a35"/>
<rect x="128.0" y="21.7" width="5.3" height="3.1" fill="#ffa64d"/>
<rect x="128.0" y="18.8" width="5.3" height="3.1" fill="#ffb062"/>
<rect x="128.0" y="16.0" width="5.3" height="3.1" fill="#ffb56b"/>
<rect x="128.0" y="13.2" width="5.3" height="3.1" fill="#ffb264"/>
<rect x="128.0" y="10.4" width="5.3" height="3.1" fill="#ffb469"/>
<rect x="128.0" y="7.6" width="5.3" height="3.1" fill="#ffc488"/>
<rect x="128.0" y="5.8" width="5.3" height="2.1" fill="#ffbb77"/>
<rect x="133.0" y="117.2" width="5.3" height="2.9" fill="#ffe0c2"/>
<rect x="133.0" y="114.4" width="5.3" height="3.1" fill="#000000"/>
<rect x="133.0" y="111.6" width="5.3" height="3.1" fill="#460000"/>
<rect x="133.0" y="108.8" width="5.3" height="3.1" fill="#910000"/>
<rect x="133.0" y="106.0" width="5.3" height="3.1" fill="#900000"/>
<rect x="133.0" y="103.2" width="5.3" height="3.1" fill="#9d0000"/>
<rect x="133.0" y="100.3" width="5.3" height="3.1" fill="#a40000"/>
<rect x="133.0" y="97.5" width="5.3" height="3.1" fill="#b40000"/>
<rect x="133.0" y="94.7" width="5.3" height="3.1" fill="#c20400"/>
<rect x="133.0" y="91.9" width="5.3" height="3.1" fill="#dd2800"/>
<rect x="133.0" y="89.1" width="5.3" height="3.1" fill="#e33000"/>
<rect x="133.0" y="86.3" width="5.3" height="3.1" fill="#f94d00"/>
<rect x="133.0" y="83.5" width="5.3" height="3.1" fill="#ff6900"/>
<rect x="133.0" y="80.7" width="5.3" height="3.1" fill="#ff7a00"/>
<rect x="133.0" y="77.9" width="5.3" height="3.1" fill="#ff7700"/>
<rect x="133.0" y="75.0" width="5.3" height="3.1" fill="#ff7100"/>
<rect x="133.0" y="72.2" width="5.3" height="3.1" fill="#ff5500"/>
<rect x="133.0" y="69.4" width="5.3" height="3.1" fill="#f24300"/>
<rect x="133.0" y="66.6" width="5.3" height="3.1" fill="#d82200"/>
<rect x="133.0" y="63.8" width="5.3" height="3.1" fill="#c80c00"/>
<rect x="133.0" y="61.0" width="5.3" height="3.1" fill="#b30000"/>
<rect x="133.0" y="58.2" width="5.3" height="3.1" fill="#a90000"/>
<rect x="133.0" y="55.4" width="5.3" height="3.1" fill="#b00000"/>
<rect x="133.0" y="52.6" width="5.3" height="3.1" fill="#b80000"/>
<rect x="133.0" y="49.8" width="5.3" height="3.1" fill="#cc1100"/>
<rect x="133.0" y="47.0" width="5.3" height="3.1" fill="#e22e00"/>
<rect x="133.0" y="44.1" width="5.3" height="3.1" fill="#f74a00"/>
<rect x="133.0" y="41.3" width="5.3" height="3.1" fill="#ff5a00"/>
<rect x="133.0" y="38.5" width="5.3" height="3.1" fill="#ff6e00"/>
<rect x="133.0" y="35.7" width="5.3" height="3.1" fill="#ff7e00"/>
<rect x="133.0" y="32.9" width="5.3" height="3.1" fill="#ff8c1a"/>
<rect x="133.0" y="30.1" width="5.3" height="3.1" fill="#ff8d1b"/>
<rect x="133.0" y="27.3" width="5.3" height="3.1" fill="#ff9021"/>
<rect x="133.0" y="24.5" width="5.3" height="3.1" fill="#ffa750"/>
<rect x="133.0" y="21.7" width="5.3" height="3.1" fill="#ffa245"/>
<rect x="133.0" y="18.8" width="5.3" height="3.1" fill="#ffb66c"/>
<rect x="133.0" y="16.0" width="5.3" height="3.1" fill="#ffb871"/>
<rect x="133.0" y="13.2" width="5.3" height="3.1" fill="#ffbd7b"/>
<rect x="133.0" y="10.4" width="5.3" height="3.1" fill="#ffb871"/>
<rect x="133.0" y="7.6" width="5.3" height="3.1" fill="#ffc284"/>
<rect x="133.0" y="5.8" width="5.3" height="2.1" fill="#ffc489"/>
<rect x="138.0" y="117.2" width="5.4" height="2.9" fill="#ffe0c2"/>
<rect x="138.0" y="114.4" width="5.4" height="3.1" fill="#260000"/>
<rect x="138.0" y="111.6" width="5.4" height="3.1" fill="#790000"/>
<rect x="138.0" y="108.8" width="5.4" height="3.1" fill="#9e0000"/>
<rect x="138.0" y="106.0" width="5.4" height="3.1" fill="#960000"/>
<rect x="138.0" y="103.2" width="5.4" height="3.1" fill="#9e0000"/>
<rect x="138.0" y="100.3" width="5.4" height="3.1" fill="#a40000"/>
<rect x="138.0" y="97.5" width="5.4" height="3.1" fill="#b00000"/>
<rect x="138.0" y="94.7" width="5.4" height="3.1" fill="#b00000"/>
<rect x="138.0" y="91.9" width="5.4" height="3.1" fill="#b40000"/>
<rect x="138.0" y="89.1" width="5.4" height="3.1" fill="#d82100"/>
<rect x="138.0" y="86.3" width="5.4" height="3.1" fill="#fb5000"/>
<rect x="138.0" y="83.5" width="5.4" height="3.1" fill="#ff6900"/>
<rect x="138.0" y="80.7" width="5.4" height="3.1" fill="#ff7f00"/>
<rect x="138.0" y="77.9" width="5.4" height="3.1" fill="#ff7f00"/>
<rect x="138.0" y="75.0" width="5.4" height="3.1" fill="#ff7700"/>
<rect x="138.0" y="72.2" width="5.4" height="3.1" fill="#ff5e00"/>
<rect x="138.0" y="69.4" width="5.4" height="3.1" fill="#f74b00"/>
<rect x="138.0" y="66.6" width="5.4" height="3.1" fill="#e83600"/>
<rect x="138.0" y="63.8" width="5.4" height="3.1" fill="#d11800"/>
<rect x="138.0" y="61.0" width="5.4" height="3.1" fill="#c30500"/>
<rect x="138.0" y="58.2" width="5.4" height="3.1" fill="#ae0000"/>
<rect x="138.0" y="55.4" width="5.4" height="3.1" fill="#b10000"/>
<rect x="138.0" y="52.6" width="5.4" height="3.1" fill="#b40000"/>
<rect x="138.0" y="49.8" width="5.4" height="3.1" fill="#c20300"/>
<rect x="138.0" y="47.0" width="5.4" height="3.1" fill="#d82000"/>
<rect x="138.0" y="44.1" width="5.4" height="3.1" fill="#f74a00"/>
<rect x="138.0" y="41.3" width="5.4" height="3.1" fill="#ff5d00"/>
<rect x="138.0" y="38.5" width="5.4" height="3.1" fill="#ff6100"/>
<rect x="138.0" y="35.7" width="5.4" height="3.1" fill="#ff7e00"/>
<rect x="138.0" y="32.9" width="5.4" height="3.1" fill="#ff7e00"/>
<rect x="138.0" y="30.1" width="5.4" height="3.1" fill="#ff8811"/>
<rect x="138.0" y="27.3" width="5.4" height="3.1" fill="#ff9f3e"/>
<rect x="138.0" y="24.5" width="5.4" height="3.1" fill="#ffa54c"/>
<rect x="138.0" y="21.7" width="5.4" height="3.1" fill="#ffa347"/>
<rect x="138.0" y="18.8" width="5.4" height="3.1" fill="#ffb164"/>
<rect x="138.0" y="16.0" width="5.4" height="3.1" fill="#ffba75"/>
<rect x="138.0" y="13.2" width="5.4" height="3.1" fill="#ffb265"/>
<rect x="138.0" y="10.4" width="5.4" height="3.1" fill="#ffbd7a"/>
<rect x="138.0" y="7.6" width="5.4" height="3.1" fill="#ffb973"/>
<rect x="138.0" y="5.8" width="5.4" height="2.1" fill="#ffc892"/>
<rect x="143.1" y="117.2" width="7.2" height="2.9" fill="#ffd6ad"/>
<rect x="143.1" y="114.4" width="7.2" height="3.1" fill="#9a0000"/>
<rect x="143.1" y="111.6" width="7.2" height="3.1" fill="#aa0000"/>
<rect x="143.1" y="108.8" width="7.2" height="3.1" fill="#c60900"/>
<rect x="143.1" y="106.0" width="7.2" height="3.1" fill="#c30600"/>
<rect x="143.1" y="103.2" width="7.2" height="3.1" fill="#c40700"/>
<rect x="143.1" y="100.3" width="7.2" height="3.1" fill="#c10300"/>
<rect x="143.1" y="97.5" width="7.2" height="3.1" fill="#c00200"/>
<rect x="143.1" y="94.7" width="7.2" height="3.1" fill="#cd1200"/>
<rect x="143.1" y="91.9" width="7.2" height="3.1" fill="#d31a00"/>
<rect x="143.1" y="89.1" width="7.2" height="3.1" fill="#db2500"/>
<rect x="143.1" y="86.3" width="7.2" height="3.1" fill="#ee3e00"/>
<rect x="143.1" y="83.5" width="7.2" height="3.1" fill="#ff5900"/>
<rect x="143.1" y="80.7" width="7.2" height="3.1" fill="#ff7600"/>
<rect x="143.1" y="77.9" width="7.2" height="3.1" fill="#ff7d00"/>
<rect x="143.1" y="75.0" width="7.2" height="3.1" fill="#ff8103"/>
<rect x="143.1" y="72.2" width="7.2" height="3.1" fill="#ff7700"/>
<rect x="143.1" y="69.4" width="7.2" height="3.1" fill="#ff5f00"/>
<rect x="143.1" y="66.6" width="7.2" height="3.1" fill="#f74b00"/>
<rect x="143.1" y="63.8" width="7.2" height="3.1" fill="#e53200"/>
<rect x="143.1" y="61.0" width="7.2" height="3.1" fill="#d92200"/>
<rect x="143.1" y="58.2" width="7.2" height="3.1" fill="#c60900"/>
<rect x="143.1" y="55.4" width="7.2" height="3.1" fill="#bd0000"/>
<rect x="143.1" y="52.6" width="7.2" height="3.1" fill="#b80000"/>
<rect x="143.1" y="49.8" width="7.2" height="3.1" fill="#bf0000"/>
<rect x="143.1" y="47.0" width="7.2" height="3.1" fill="#d51d00"/>
<rect x="143.1" y="44.1" width="7.2" height="3.1" fill="#f64900"/>
<rect x="143.1" y="41.3" width="7.2" height="3.1" fill="#ff5d00"/>
<rect x="143.1" y="38.5" width="7.2" height="3.1" fill="#ff5e00"/>
<rect x="143.1" y="35.7" width="7.2" height="3.1" fill="#ff7800"/>
<rect x="143.1" y="32.9" width="7.2" height="3.1" fill="#ff8205"/>
<rect x="143.1" y="30.1" width="7.2" height="3.1" fill="#ff9326"/>
<rect x="143.1" y="27.3" width="7.2" height="3.1" fill="#ff9932"/>
<rect x="143.1" y="24.5" width="7.2" height="3.1" fill="#ffa041"/>
<rect x="143.1" y="21.7" width="7.2" height="3.1" fill="#ffa852"/>
<rect x="143.1" y="18.8" width="7.2" height="3.1" fill="#ffab57"/>
<rect x="143.1" y="16.0" width="7.2" height="3.1" fill="#ffbc78"/>
<rect x="143.1" y="13.2" width="7.2" height="3.1" fill="#ffb46a"/>
<rect x="143.1" y="10.4" width="7.2" height="3.1" fill="#ffb56b"/>
<rect x="143.1" y="7.6" width="7.2" height="3.1" fill="#ffc489"/>
<rect x="143.1" y="5.8" width="7.2" height="2.1" fill="#ffc286"/>
<rect x="150.0" y="117.2" width="9.4" height="2.9" fill="#ffd6ad"/>
<rect x="150.0" y="114.4" width="9.4" height="3.1" fill="#960000"/>
<rect x="150.0" y="111.6" width="9.4" height="3.1" fill="#ff5e00"/>
<rect x="150.0" y="108.8" width="9.4" height="3.1" fill="#ff6c00"/>
<rect x="150.0" y="106.0" width="9.4" height="3.1" fill="#ff6c00"/>
<rect x="150.0" y="103.2" width="9.4" height="3.1" fill="#ff6600"/>
<rect x="150.0" y="100.3" width="9.4" height="3.1" fill="#ff6f00"/>
<rect x="150.0" y="97.5" width="9.4" height="3.1" fill="#ff5f00"/>
<rect x="150.0" y="94.7" width="9.4" height="3.1" fill="#ff6100"/>
<rect x="150.0" y="91.9" width="9.4" height="3.1" fill="#ff6d00"/>
<rect x="150.0" y="89.1" width="9.4" height="3.1" fill="#ff7900"/>
<rect x="150.0" y="86.3" width="9.4" height="3.1" fill="#ff8d1b"/>
<rect x="150.0" y="83.5" width="9.4" height="3.1" fill="#ff9b37"/>
<rect x="150.0" y="80.7" width="9.4" height="3.1" fill="#ffa143"/>
<rect x="150.0" y="77.9" width="9.4" height="3.1" fill="#ff9934"/>
<rect x="150.0" y="75.0" width="9.4" height="3.1" fill="#ff8710"/>
<rect x="150.0" y="72.2" width="9.4" height="3.1" fill="#ff7900"/>
<rect x="150.0" y="69.4" width="9.4" height="3.1" fill="#ff7000"/>
<rect x="150.0" y="66.6" width="9.4" height="3.1" fill="#ff5400"/>
<rect x="150.0" y="63.8" width="9.4" height="3.1" fill="#f64900"/>
<rect x="150.0" y="61.0" width="9.4" height="3.1" fill="#eb3a00"/>
<rect x="150.0" y="58.2" width="9.4" height="3.1" fill="#e02b00"/>
<rect x="150.0" y="55.4" width="9.4" height="3.1" fill="#de2800"/>
<rect x="150.0" y="52.6" width="9.4" height="3.1" fill="#d31b00"/>
<rect x="150.0" y="49.8" width="9.4" height="3.1" fill="#d31a00"/>
<rect x="150.0" y="47.0" width="9.4" height="3.1" fill="#db2600"/>
<rect x="150.0" y="44.1" width="9.4" height="3.1" fill="#e12d00"/>
<rect x="150.0" y="41.3" width="9.4" height="3.1" fill="#f04100"/>
<rect x="150.0" y="38.5" width="9.4" height="3.1" fill="#ff5e00"/>
<rect x="150.0" y="35.7" width="9.4" height="3.1" fill="#ff6f00"/>
<rect x="150.0" y="32.9" width="9.4" height="3.1" fill="#ff8f1e"/>
<rect x="150.0" y="30.1" width="9.4" height="3.1" fill="#ff9225"/>
<rect x="150.0" y="27.3" width="9.4" height="3.1" fill="#ff9832"/>
<rect x="150.0" y="24.5" width="9.4" height="3.1" fill="#ffaa54"/>
<rect x="150.0" y="21.7" width="9.4" height="3.1" fill="#ffaa55"/>
<rect x="150.0" y="18.8" width="9.4" height="3.1" fill="#ffaa56"/>
<rect x="150.0" y="16.0" width="9.4" height="3.1" fill="#ffb062"/>
<rect x="150.0" y="13.2" width="9.4" height="3.1" fill="#ffbd7b"/>
<rect x="150.0" y="10.4" width="9.4" height="3.1" fill="#ffb367"/>
<rect x="150.0" y="7.6" width="9.4" height="3.1" fill="#ffbb78"/>
<rect x="150.0" y="5.8" width="9.4" height="2.1" fill="#ffc58a"/>
<rect x="159.1" y="117.2" width="8.8" height="2.9" fill="#ffdbb8"/>
<rect x="159.1" y="114.4" width="8.8" height="3.1" fill="#bd0000"/>
<rect x="159.1" y="111.6" width="8.8" height="3.1" fill="#ff8e1c"/>
<rect x="159.1" y="108.8" width="8.8" height="3.1" fill="#ff9832"/>
<rect x="159.1" y="106.0" width="8.8" height="3.1" fill="#ffa54b"/>
<rect x="159.1" y="103.2" width="8.8" height="3.1" fill="#ff9a35"/>
<rect x="159.1" y="100.3" width="8.8" height="3.1" fill="#ffa142"/>
<rect x="159.1" y="97.5" width="8.8" height="3.1" fill="#ffa54a"/>
<rect x="159.1" y="94.7" width="8.8" height="3.1" fill="#ffa952"/>
<rect x="159.1" y="91.9" width="8.8" height="3.1" fill="#ffaa55"/>
<rect x="159.1" y="89.1" width="8.8" height="3.1" fill="#ffc182"/>
<rect x="159.1" y="86.3" width="8.8" height="3.1" fill="#ffbb77"/>
<rect x="159.1" y="83.5" width="8.8" height="3.1" fill="#ffbd7c"/>
<rect x="159.1" y="80.7" width="8.8" height="3.1" fill="#ffc68d"/>
<rect x="159.1" y="77.9" width="8.8" height="3.1" fill="#ffbc7a"/>
<rect x="159.1" y="75.0" width="8.8" height="3.1" fill="#ffbc79"/>
<rect x="159.1" y="72.2" width="8.8" height="3.1" fill="#ffaa55"/>
<rect x="159.1" y="69.4" width="8.8" height="3.1" fill="#ff962d"/>
<rect x="159.1" y="66.6" width="8.8" height="3.1" fill="#ff8e1d"/>
<rect x="159.1" y="63.8" width="8.8" height="3.1" fill="#ff7f00"/>
<rect x="159.1" y="61.0" width="8.8" height="3.1" fill="#ff6a00"/>
<rect x="159.1" y="58.2" width="8.8" height="3.1" fill="#ff6900"/>
<rect x="159.1" y="55.4" width="8.8" height="3.1" fill="#ff6400"/>
<rect x="159.1" y="52.6" width="8.8" height="3.1" fill="#ff5700"/>
<rect x="159.1" y="49.8" width="8.8" height="3.1" fill="#ff5c00"/>
<rect x="159.1" y="47.0" width="8.8" height="3.1" fill="#ff5800"/>
<rect x="159.1" y="44.1" width="8.8" height="3.1" fill="#ff6300"/>
<rect x="159.1" y="41.3" width="8.8" height="3.1" fill="#ff6c00"/>
<rect x="159.1" y="38.5" width="8.8" height="3.1" fill="#ff8810"/>
<rect x="159.1" y="35.7" width="8.8" height="3.1" fill="#ff8c1a"/>
<rect x="159.1" y="32.9" width="8.8" height="3.1" fill="#ff962d"/>
<rect x="159.1" y="30.1" width="8.8" height="3.1" fill="#ffaa56"/>
<rect x="159.1" y="27.3" width="8.8" height="3.1" fill="#ffa143"/>
<rect x="159.1" y="24.5" width="8.8" height="3.1" fill="#ffb76e"/>
<rect x="159.1" y="21.7" width="8.8" height="3.1" fill="#ffb66d"/>
<rect x="159.1" y="18.8" width="8.8" height="3.1" fill="#ffc081"/>
<rect x="159.1" y="16.0" width="8.8" height="3.1" fill="#ffbe7d"/>
<rect x="159.1" y="13.2" width="8.8" height="3.1" fill="#ffc081"/>
<rect x="159.1" y="10.4" width="8.8" height="3.1" fill="#ffce9c"/>
<rect x="159.1" y="7.6" width="8.8" height="3.1" fill="#ffc082"/>
<rect x="159.1" y="5.8" width="8.8" height="2.1" fill="#ffcd9b"/>
<rect x="167.6" y="117.2" width="6.9" height="2.9" fill="#ffdbb8"/>
<rect x="167.6" y="114.4" width="6.9" height="3.1" fill="#f84c00"/>
<rect x="167.6" y="111.6" width="6.9" height="3.1" fill="#ffbb77"/>
<rect x="167.6" y="108.8" width="6.9" height="3.1" fill="#ffc48a"/>
<rect x="167.6" y="106.0" width="6.9" height="3.1" fill="#ffc68c"/>
<rect x="167.6" y="103.2" width="6.9" height="3.1" fill="#ffbf7f"/>
<rect x="167.6" y="100.3" width="6.9" height="3.1" fill="#ffc68d"/>
<rect x="167.6" y="97.5" width="6.9" height="3.1" fill="#ffcb97"/>
<rect x="167.6" y="94.7" width="6.9" height="3.1" fill="#ffc891"/>
<rect x="167.6" y="91.9" width="6.9" height="3.1" fill="#ffd5ab"/>
<rect x="167.6" y="89.1" width="6.9" height="3.1" fill="#ffd6ad"/>
<rect x="167.6" y="86.3" width="6.9" height="3.1" fill="#ffd6ad"/>
<rect x="167.6" y="83.5" width="6.9" height="3.1" fill="#ffd6ae"/>
<rect x="167.6" y="80.7" width="6.9" height="3.1" fill="#ffdbb7"/>
<rect x="167.6" y="77.9" width="6.9" height="3.1" fill="#ffddbb"/>
<rect x="167.6" y="75.0" width="6.9" height="3.1" fill="#ffd2a5"/>
<rect x="167.6" y="72.2" width="6.9" height="3.1" fill="#ffc68e"/>
<rect x="167.6" y="69.4" width="6.9" height="3.1" fill="#ffb468"/>
<rect x="167.6" y="66.6" width="6.9" height="3.1" fill="#ff9f3e"/>
<rect x="167.6" y="63.8" width="6.9" height="3.1" fill="#ff9e3d"/>
<rect x="167.6" y="61.0" width="6.9" height="3.1" fill="#ff9224"/>
<rect x="167.6" y="58.2" width="6.9" height="3.1" fill="#ff942a"/>
<rect x="167.6" y="55.4" width="6.9" height="3.1" fill="#ffa144"/>
<rect x="167.6" y="52.6" width="6.9" height="3.1" fill="#ff9021"/>
<rect x="167.6" y="49.8" width="6.9" height="3.1" fill="#ff9326"/>
<rect x="167.6" y="47.0" width="6.9" height="3.1" fill="#ffa953"/>
<rect x="167.6" y="44.1" width="6.9" height="3.1" fill="#ffa040"/>
<rect x="167.6" y="41.3" width="6.9" height="3.1" fill="#ffac59"/>
<rect x="167.6" y="38.5" width="6.9" height="3.1" fill="#ffae5d"/>
<rect x="167.6" y="35.7" width="6.9" height="3.1" fill="#ffa850"/>
<rect x="167.6" y="32.9" width="6.9" height="3.1" fill="#ffb872"/>
<rect x="167.6" y="30.1" width="6.9" height="3.1" fill="#ffb770"/>
<rect x="167.6" y="27.3" width="6.9" height="3.1" fill="#ffb469"/>
<rect x="167.6" y="24.5" width="6.9" height="3.1" fill="#ffbc7a"/>
<rect x="167.6" y="21.7" width="6.9" height="3.1" fill="#ffc48a"/>
<rect x="167.6" y="18.8" width="6.9" height="3.1" fill="#ffbe7d"/>
<rect x="167.6" y="16.0" width="6.9" height="3.1" fill="#ffc488"/>
<rect x="167.6" y="13.2" width="6.9" height="3.1" fill="#ffcb96"/>
<rect x="167.6" y="10.4" width="6.9" height="3.1" fill="#ffd7ae"/>
<rect x="167.6" y="7.6" width="6.9" height="3.1" fill="#ffd1a2"/>
<rect x="167.6" y="5.8" width="6.9" height="2.1" fill="#ffd7af"/>
</g>
<g shape-rendering="crispEdges">
<rect x="38.2" y="235.7" width="6.6" height="2.9" fill="#ffe0c2"/>
<rect x="38.2" y="232.9" width="6.6" height="3.1" fill="#470000"/>
<rect x="38.2" y="230.1" width="6.6" height="3.1" fill="#ffd6ae"/>
<rect x="38.2" y="227.3" width="6.6" height="3.1" fill="#ffe0c2"/>
<rect x="38.2" y="224.5" width="6.6" height="3.1" fill="#ffe6cc"/>
<rect x="38.2" y="221.6" width="6.6" height="3.1" fill="#ffebd6"/>
<rect x="38.2" y="218.8" width="6.6" height="3.1" fill="#fff0e1"/>
<rect x="38.2" y="216.0" width="6.6" height="3.1" fill="#fff5eb"/>
<rect x="38.2" y="213.2" width="6.6" height="3.1" fill="#fff5eb"/>
<rect x="38.2" y="210.4" width="6.6" height="3.1" fill="#fff5eb"/>
<rect x="38.2" y="207.6" width="6.6" height="3.1" fill="#fff5eb"/>
<rect x="38.2" y="204.8" width="6.6" height="3.1" fill="#fff5eb"/>
<rect x="38.2" y="202.0" width="6.6" height="3.1" fill="#fff5eb"/>
<rect x="38.2" y="199.2" width="6.6" height="3.1" fill="#fff5eb"/>
<rect x="38.2" y="196.4" width="6.6" height="3.1" fill="#fff5eb"/>
<rect x="38.2" y="193.5" width="6.6" height="3.1" fill="#fff5eb"/>
<rect x="38.2" y="190.7" width="6.6" height="3.1" fill="#fff5eb"/>
<rect x="38.2" y="187.9" width="6.6" height="3.1" fill="#fff5eb"/>
<rect x="38.2" y="185.1" width="6.6" height="3.1" fill="#fff5eb"/>
<rect x="38.2" y="182.3" width="6.6" height="3.1" fill="#fff5eb"/>
<rect x="38.2" y="179.5" width="6.6" height="3.1" fill="#fff5eb"/>
<rect x="38.2" y="176.7" width="6.6" height="3.1" fill="#fff5eb"/>
<rect x="38.2" y="173.9" width="6.6" height="3.1" fill="#fff5eb"/>
<rect x="38.2" y="171.1" width="6.6" height="3.1" fill="#fff5eb"/>
<rect x="38.2" y="168.3" width="6.6" height="3.1" fill="#fff5eb"/>
<rect x="38.2" y="165.4" width="6.6" height="3.1" fill="#fff5eb"/>
<rect x="38.2" y="162.6" width="6.6" height="3.1" fill="#fff5eb"/>
<rect x="38.2" y="159.8" width="6.6" height="3.1" fill="#fff5eb"/>
<rect x="38.2" y="157.0" width="6.6" height="3.1" fill="#fff5eb"/>
<rect x="38.2" y="154.2" width="6.6" height="3.1" fill="#fff5eb"/>
<rect x="38.2" y="151.4" width="6.6" height="3.1" fill="#fff5eb"/>
<rect x="38.2" y="148.6" width="6.6" height="3.1" fill="#fff5eb"/>
<rect x="38.2" y="145.8" width="6.6" height="3.1" fill="#fff5eb"/>
<rect x="38.2" y="143.0" width="6.6" height="3.1" fill="#fff5eb"/>
<rect x="38.2" y="140.2" width="6.6" height="3.1" fill="#fff4e9"/>
<rect x="38.2" y="137.3" width="6.6" height="3.1" fill="#fff2e6"/>
<rect x="38.2" y="134.5" width="6.6" height="3.1" fill="#fff1e3"/>
<rect x="38.2" y="131.7" width="6.6" height="3.1" fill="#fff0e0"/>
<rect x="38.2" y="128.9" width="6.6" height="3.1" fill="#fff0e0"/>
<rect x="38.2" y="126.1" width="6.6" height="3.1" fill="#fff0e0"/>
<rect x="38.2" y="124.0" width="6.6" height="2.5" fill="#fff0e0"/>
<rect x="44.5" y="235.7" width="6.6" height="2.9" fill="#ffe0c2"/>
<rect x="44.5" y="232.9" width="6.6" height="3.1" fill="#cc1200"/>
<rect x="44.5" y="230.1" width="6.6" height="3.1" fill="#ff9c39"/>
<rect x="44.5" y="227.3" width="6.6" height="3.1" fill="#ffca94"/>
<rect x="44.5" y="224.5" width="6.6" height="3.1" fill="#ffd6ae"/>
<rect x="44.5" y="221.6" width="6.6" height="3.1" fill="#ffe0c2"/>
<rect x="44.5" y="218.8" width="6.6" height="3.1" fill="#ffe6cc"/>
<rect x="44.5" y="216.0" width="6.6" height="3.1" fill="#fff0e1"/>
<rect x="44.5" y="213.2" width="6.6" height="3.1" fill="#fff5eb"/>
<rect x="44.5" y="210.4" width="6.6" height="3.1" fill="#fff5eb"/>
<rect x="44.5" y="207.6" width="6.6" height="3.1" fill="#fff5eb"/>
<rect x="44.5" y="204.8" width="6.6" height="3.1" fill="#fff5eb"/>
<rect x="44.5" y="202.0" width="6.6" height="3.1" fill="#fff5eb"/>
<rect x="44.5" y="199.2" width="6.6" height="3.1" fill="#fff5eb"/>
<rect x="44.5" y="196.4" width="6.6" height="3.1" fill="#fff5eb"/>
<rect x="44.5" y="193.5" width="6.6" height="3.1" fill="#fff5eb"/>
<rect x="44.5" y="190.7" width="6.6" height="3.1" fill="#fff5eb"/>
<rect x="44.5" y="187.9" width="6.6" height="3.1" fill="#fff5eb"/>
<rect x="44.5" y="185.1" width="6.6" height="3.1" fill="#fff5eb"/>
<rect x="44.5" y="182.3" width="6.6" height="3.1" fill="#fff5eb"/>
<rect x="44.5" y="179.5" width="6.6" height="3.1" fill="#fff5eb"/>
<rect x="44.5" y="176.7" width="6.6" height="3.1" fill="#fff5eb"/>
<rect x="44.5" y="173.9" width="6.6" height="3.1" fill="#fff5eb"/>
<rect x="44.5" y="171.1" width="6.6" height="3.1" fill="#fff5eb"/>
<rect x="44.5" y="168.3" width="6.6" height="3.1" fill="#fff5eb"/>
<rect x="44.5" y="165.4" width="6.6" height="3.1" fill="#fff5eb"/>
<rect x="44.5" y="162.6" width="6.6" height="3.1" fill="#fff5eb"/>
<rect x="44.5" y="159.8" width="6.6" height="3.1" fill="#fff5eb"/>
<rect x="44.5" y="157.0" width="6.6" height="3.1" fill="#fff5eb"/>
<rect x="44.5" y="154.2" width="6.6" height="3.1" fill="#fff5eb"/>
<rect x="44.5" y="151.4" width="6.6" height="3.1" fill="#fff5eb"/>
<rect x="44.5" y="148.6" width="6.6" height="3.1" fill="#fff5eb"/>
<rect x="44.5" y="145.8" width="6.6" height="3.1" fill="#fff5eb"/>
<rect x="44.5" y="143.0" width="6.6" height="3.1" fill="#fff5eb"/>
<rect x="44.5" y="140.2" width="6.6" height="3.1" fill="#fff4e9"/>
<rect x="44.5" y="137.3" width="6.6" height="3.1" fill="#fff2e6"/>
<rect x="44.5" y="134.5" width="6.6" height="3.1" fill="#fff1e3"/>
<rect x="44.5" y="131.7" width="6.6" height="3.1" fill="#fff0e0"/>
<rect x="44.5" y="128.9" width="6.6" height="3.1" fill="#fff0e0"/>
<rect x="44.5" y="126.1" width="6.6" height="3.1" fill="#fff0e0"/>
<rect x="44.5" y="124.0" width="6.6" height="2.5" fill="#fff0e0"/>
<rect x="50.8" y="235.7" width="9.5" height="2.9" fill="#ffe0c2"/>
<rect x="50.8" y="232.9" width="9.5" height="3.1" fill="#f74b00"/>
<rect x="50.8" y="230.1" width="9.5" height="3.1" fill="#ff7700"/>
<rect x="50.8" y="227.3" width="9.5" height="3.1" fill="#ff8f1e"/>
<rect x="50.8" y="224.5" width="9.5" height="3.1" fill="#ffba74"/>
<rect x="50.8" y="221.6" width="9.5" height="3.1" fill="#ffd2a5"/>
<rect x="50.8" y="218.8" width="9.5" height="3.1" fill="#ffd7ae"/>
<rect x="50.8" y="216.0" width="9.5" height="3.1" fill="#ffe6cc"/>
<rect x="50.8" y="213.2" width="9.5" height="3.1" fill="#ffebd6"/>
<rect x="50.8" y="210.4" width="9.5" height="3.1" fill="#ffebd6"/>
<rect x="50.8" y="207.6" width="9.5" height="3.1" fill="#ffebd6"/>
<rect x="50.8" y="204.8" width="9.5" height="3.1" fill="#ffebd6"/>
<rect x="50.8" y="202.0" width="9.5" height="3.1" fill="#ffebd7"/>
<rect x="50.8" y="199.2" width="9.5" height="3.1" fill="#fff0e0"/>
<rect x="50.8" y="196.4" width="9.5" height="3.1" fill="#fff0e0"/>
<rect x="50.8" y="193.5" width="9.5" height="3.1" fill="#fff0e0"/>
<rect x="50.8" y="190.7" width="9.5" height="3.1" fill="#fff0e0"/>
<rect x="50.8" y="187.9" width="9.5" height="3.1" fill="#fff0e0"/>
<rect x="50.8" y="185.1" width="9.5" height="3.1" fill="#fff0e0"/>
<rect x="50.8" y="182.3" width="9.5" height="3.1" fill="#fff0e0"/>
<rect x="50.8" y="179.5" width="9.5" height="3.1" fill="#fff0e0"/>
<rect x="50.8" y="176.7" width="9.5" height="3.1" fill="#fff0e0"/>
<rect x="50.8" y="173.9" width="9.5" height="3.1" fill="#fff1e2"/>
<rect x="50.8" y="171.1" width="9.5" height="3.1" fill="#fff3e7"/>
<rect x="50.8" y="168.3" width="9.5" height="3.1" fill="#fff5eb"/>
<rect x="50.8" y="165.4" width="9.5" height="3.1" fill="#fff5eb"/>
<rect x="50.8" y="162.6" width="9.5" height="3.1" fill="#fff5eb"/>
<rect x="50.8" y="159.8" width="9.5" height="3.1" fill="#fff5eb"/>
<rect x="50.8" y="157.0" width="9.5" height="3.1" fill="#fff5eb"/>
<rect x="50.8" y="154.2" width="9.5" height="3.1" fill="#fff5eb"/>
<rect x="50.8" y="151.4" width="9.5" height="3.1" fill="#fff5eb"/>
<rect x="50.8" y="148.6" width="9.5" height="3.1" fill="#fff5eb"/>
<rect x="50.8" y="145.8" width="9.5" height="3.1" fill="#fff5eb"/>
<rect x="50.8" y="143.0" width="9.5" height="3.1" fill="#fff5eb"/>
<rect x="50.8" y="140.2" width="9.5" height="3.1" fill="#fff5eb"/>
<rect x="50.8" y="137.3" width="9.5" height="3.1" fill="#fff5eb"/>
<rect x="50.8" y="134.5" width="9.5" height="3.1" fill="#fff5eb"/>
<rect x="50.8" y="131.7" width="9.5" height="3.1" fill="#fff5eb"/>
<rect x="50.8" y="128.9" width="9.5" height="3.1" fill="#fff5eb"/>
<rect x="50.8" y="126.1" width="9.5" height="3.1" fill="#fff5eb"/>
<rect x="50.8" y="124.0" width="9.5" height="2.5" fill="#fff5eb"/>
<rect x="60.0" y="235.7" width="9.0" height="2.9" fill="#ffe0c2"/>
<rect x="60.0" y="232.9" width="9.0" height="3.1" fill="#ee3e00"/>
<rect x="60.0" y="230.1" width="9.0" height="3.1" fill="#ff6b00"/>
<rect x="60.0" y="227.3" width="9.0" height="3.1" fill="#ff7600"/>
<rect x="60.0" y="224.5" width="9.0" height="3.1" fill="#ffa245"/>
<rect x="60.0" y="221.6" width="9.0" height="3.1" fill="#ffba76"/>
<rect x="60.0" y="218.8" width="9.0" height="3.1" fill="#ffbe7e"/>
<rect x="60.0" y="216.0" width="9.0" height="3.1" fill="#ffd6ae"/>
<rect x="60.0" y="213.2" width="9.0" height="3.1" fill="#ffdbb8"/>
<rect x="60.0" y="210.4" width="9.0" height="3.1" fill="#ffe1c2"/>
<rect x="60.0" y="207.6" width="9.0" height="3.1" fill="#ffe5cc"/>
<rect x="60.0" y="204.8" width="9.0" height="3.1" fill="#ffe5cc"/>
<rect x="60.0" y="202.0" width="9.0" height="3.1" fill="#ffe5cc"/>
<rect x="60.0" y="199.2" width="9.0" height="3.1" fill="#ffe6cc"/>
<rect x="60.0" y="196.4" width="9.0" height="3.1" fill="#ffe8d1"/>
<rect x="60.0" y="193.5" width="9.0" height="3.1" fill="#ffead5"/>
<rect x="60.0" y="190.7" width="9.0" height="3.1" fill="#ffebd6"/>
<rect x="60.0" y="187.9" width="9.0" height="3.1" fill="#ffebd6"/>
<rect x="60.0" y="185.1" width="9.0" height="3.1" fill="#ffebd6"/>
<rect x="60.0" y="182.3" width="9.0" height="3.1" fill="#ffebd6"/>
<rect x="60.0" y="179.5" width="9.0" height="3.1" fill="#ffebd6"/>
<rect x="60.0" y="176.7" width="9.0" height="3.1" fill="#ffebd6"/>
<rect x="60.0" y="173.9" width="9.0" height="3.1" fill="#ffecd8"/>
<rect x="60.0" y="171.1" width="9.0" height="3.1" fill="#ffeedd"/>
<rect x="60.0" y="168.3" width="9.0" height="3.1" fill="#fff0e0"/>
<rect x="60.0" y="165.4" width="9.0" height="3.1" fill="#fff0e0"/>
<rect x="60.0" y="162.6" width="9.0" height="3.1" fill="#fff0e0"/>
<rect x="60.0" y="159.8" width="9.0" height="3.1" fill="#fff0e0"/>
<rect x="60.0" y="157.0" width="9.0" height="3.1" fill="#fff0e0"/>
<rect x="60.0" y="154.2" width="9.0" height="3.1" fill="#fff0e0"/>
<rect x="60.0" y="151.4" width="9.0" height="3.1" fill="#fff0e0"/>
<rect x="60.0" y="148.6" width="9.0" height="3.1" fill="#fff0e0"/>
<rect x="60.0" y="145.8" width="9.0" height="3.1" fill="#fff0e0"/>
<rect x="60.0" y="143.0" width="9.0" height="3.1" fill="#fff0e0"/>
<rect x="60.0" y="140.2" width="9.0" height="3.1" fill="#fff0e0"/>
<rect x="60.0" y="137.3" width="9.0" height="3.1" fill="#fff0e0"/>
<rect x="60.0" y="134.5" width="9.0" height="3.1" fill="#fff0e0"/>
<rect x="60.0" y="131.7" width="9.0" height="3.1" fill="#fff0e0"/>
<rect x="60.0" y="128.9" width="9.0" height="3.1" fill="#fff0e0"/>
<rect x="60.0" y="126.1" width="9.0" height="3.1" fill="#fff0e0"/>
<rect x="60.0" y="124.0" width="9.0" height="2.5" fill="#fff0e0"/>
<rect x="68.7" y="235.7" width="6.9" height="2.9" fill="#ffe0c2"/>
<rect x="68.7" y="232.9" width="6.9" height="3.1" fill="#c00200"/>
<rect x="68.7" y="230.1" width="6.9" height="3.1" fill="#ed3d00"/>
<rect x="68.7" y="227.3" width="6.9" height="3.1" fill="#ff5800"/>
<rect x="68.7" y="224.5" width="6.9" height="3.1" fill="#ff7300"/>
<rect x="68.7" y="221.6" width="6.9" height="3.1" fill="#ff8811"/>
<rect x="68.7" y="218.8" width="6.9" height="3.1" fill="#ff9429"/>
<rect x="68.7" y="216.0" width="6.9" height="3.1" fill="#ffa74f"/>
<rect x="68.7" y="213.2" width="6.9" height="3.1" fill="#ffba75"/>
<rect x="68.7" y="210.4" width="6.9" height="3.1" fill="#ffca95"/>
<rect x="68.7" y="207.6" width="6.9" height="3.1" fill="#ffd6ae"/>
<rect x="68.7" y="204.8" width="6.9" height="3.1" fill="#ffdbb8"/>
<rect x="68.7" y="202.0" width="6.9" height="3.1" fill="#ffdbb8"/>
<rect x="68.7" y="199.2" width="6.9" height="3.1" fill="#ffdbb8"/>
<rect x="68.7" y="196.4" width="6.9" height="3.1" fill="#ffdebc"/>
<rect x="68.7" y="193.5" width="6.9" height="3.1" fill="#ffe0c1"/>
<rect x="68.7" y="190.7" width="6.9" height="3.1" fill="#ffe2c6"/>
<rect x="68.7" y="187.9" width="6.9" height="3.1" fill="#ffe5cb"/>
<rect x="68.7" y="185.1" width="6.9" height="3.1" fill="#ffe5cc"/>
<rect x="68.7" y="182.3" width="6.9" height="3.1" fill="#ffe5cc"/>
<rect x="68.7" y="179.5" width="6.9" height="3.1" fill="#ffe5cc"/>
<rect x="68.7" y="176.7" width="6.9" height="3.1" fill="#ffe5cc"/>
<rect x="68.7" y="173.9" width="6.9" height="3.1" fill="#ffe7ce"/>
<rect x="68.7" y="171.1" width="6.9" height="3.1" fill="#ffe9d3"/>
<rect x="68.7" y="168.3" width="6.9" height="3.1" fill="#ffebd6"/>
<rect x="68.7" y="165.4" width="6.9" height="3.1" fill="#ffebd6"/>
<rect x="68.7" y="162.6" width="6.9" height="3.1" fill="#ffebd6"/>
<rect x="68.7" y="159.8" width="6.9" height="3.1" fill="#ffebd6"/>
<rect x="68.7" y="157.0" width="6.9" height="3.1" fill="#ffebd6"/>
<rect x="68.7" y="154.2" width="6.9" height="3.1" fill="#ffebd6"/>
<rect x="68.7" y="151.4" width="6.9" height="3.1" fill="#ffebd6"/>
<rect x="68.7" y="148.6" width="6.9" height="3.1" fill="#ffebd6"/>
<rect x="68.7" y="145.8" width="6.9" height="3.1" fill="#ffebd6"/>
<rect x="68.7" y="143.0" width="6.9" height="3.1" fill="#ffebd6"/>
<rect x="68.7" y="140.2" width="6.9" height="3.1" fill="#ffebd6"/>
<rect x="68.7" y="137.3" width="6.9" height="3.1" fill="#ffebd6"/>
<rect x="68.7" y="134.5" width="6.9" height="3.1" fill="#ffebd6"/>
<rect x="68.7" y="131.7" width="6.9" height="3.1" fill="#ffebd6"/>
<rect x="68.7" y="128.9" width="6.9" height="3.1" fill="#ffebd6"/>
<rect x="68.7" y="126.1" width="6.9" height="3.1" fill="#ffebd6"/>
<rect x="68.7" y="124.0" width="6.9" height="2.5" fill="#ffebd6"/>
<rect x="75.3" y="235.7" width="5.9" height="2.9" fill="#ffe0c2"/>
<rect x="75.3" y="232.9" width="5.9" height="3.1" fill="#590000"/>
<rect x="75.3" y="230.1" width="5.9" height="3.1" fill="#c10300"/>
<rect x="75.3" y="227.3" width="5.9" height="3.1" fill="#da2400"/>
<rect x="75.3" y="224.5" width="5.9" height="3.1" fill="#ef4000"/>
<rect x="75.3" y="221.6" width="5.9" height="3.1" fill="#ff5600"/>
<rect x="75.3" y="218.8" width="5.9" height="3.1" fill="#ff6300"/>
<rect x="75.3" y="216.0" width="5.9" height="3.1" fill="#ff7e00"/>
<rect x="75.3" y="213.2" width="5.9" height="3.1" fill="#ff972f"/>
<rect x="75.3" y="210.4" width="5.9" height="3.1" fill="#ffa953"/>
<rect x="75.3" y="207.6" width="5.9" height="3.1" fill="#ffb469"/>
<rect x="75.3" y="204.8" width="5.9" height="3.1" fill="#ffc58c"/>
<rect x="75.3" y="202.0" width="5.9" height="3.1" fill="#ffcd9b"/>
<rect x="75.3" y="199.2" width="5.9" height="3.1" fill="#ffcf9e"/>
<rect x="75.3" y="196.4" width="5.9" height="3.1" fill="#ffdcb9"/>
<rect x="75.3" y="193.5" width="5.9" height="3.1" fill="#ffdbb6"/>
<rect x="75.3" y="190.7" width="5.9" height="3.1" fill="#ffddbc"/>
<rect x="75.3" y="187.9" width="5.9" height="3.1" fill="#ffe0c0"/>
<rect x="75.3" y="185.1" width="5.9" height="3.1" fill="#ffe0c2"/>
<rect x="75.3" y="182.3" width="5.9" height="3.1" fill="#ffe0c2"/>
<rect x="75.3" y="179.5" width="5.9" height="3.1" fill="#ffe0c2"/>
<rect x="75.3" y="176.7" width="5.9" height="3.1" fill="#ffe0c2"/>
<rect x="75.3" y="173.9" width="5.9" height="3.1" fill="#ffe1c4"/>
<rect x="75.3" y="171.1" width="5.9" height="3.1" fill="#ffe4c9"/>
<rect x="75.3" y="168.3" width="5.9" height="3.1" fill="#ffe5cc"/>
<rect x="75.3" y="165.4" width="5.9" height="3.1" fill="#ffe5cc"/>
<rect x="75.3" y="162.6" width="5.9" height="3.1" fill="#ffe5cc"/>
<rect x="75.3" y="159.8" width="5.9" height="3.1" fill="#ffe5cc"/>
<rect x="75.3" y="157.0" width="5.9" height="3.1" fill="#ffe5cc"/>
<rect x="75.3" y="154.2" width="5.9" height="3.1" fill="#ffe5cc"/>
<rect x="75.3" y="151.4" width="5.9" height="3.1" fill="#ffe6cd"/>
<rect x="75.3" y="148.6" width="5.9" height="3.1" fill="#ffe7d0"/>
<rect x="75.3" y="145.8" width="5.9" height="3.1" fill="#ffe9d2"/>
<rect x="75.3" y="143.0" width="5.9" height="3.1" fill="#ffead5"/>
<rect x="75.3" y="140.2" width="5.9" height="3.1" fill="#ffebd6"/>
<rect x="75.3" y="137.3" width="5.9" height="3.1" fill="#ffebd6"/>
<rect x="75.3" y="134.5" width="5.9" height="3.1" fill="#ffebd6"/>
<rect x="75.3" y="131.7" width="5.9" height="3.1" fill="#ffebd6"/>
<rect x="75.3" y="128.9" width="5.9" height="3.1" fill="#ffebd6"/>
<rect x="75.3" y="126.1" width="5.9" height="3.1" fill="#ffebd6"/>
<rect x="75.3" y="124.0" width="5.9" height="2.5" fill="#ffebd6"/>
<rect x="80.9" y="235.7" width="5.4" height="2.9" fill="#ffd6ad"/>
<rect x="80.9" y="232.9" width="5.4" height="3.1" fill="#3e0000"/>
<rect x="80.9" y="230.1" width="5.4" height="3.1" fill="#9c0000"/>
<rect x="80.9" y="227.3" width="5.4" height="3.1" fill="#ce1400"/>
<rect x="80.9" y="224.5" width="5.4" height="3.1" fill="#e22e00"/>
<rect x="80.9" y="221.6" width="5.4" height="3.1" fill="#d82100"/>
<rect x="80.9" y="218.8" width="5.4" height="3.1" fill="#d82100"/>
<rect x="80.9" y="216.0" width="5.4" height="3.1" fill="#ec3c00"/>
<rect x="80.9" y="213.2" width="5.4" height="3.1" fill="#fc5100"/>
<rect x="80.9" y="210.4" width="5.4" height="3.1" fill="#ff6500"/>
<rect x="80.9" y="207.6" width="5.4" height="3.1" fill="#ff7a00"/>
<rect x="80.9" y="204.8" width="5.4" height="3.1" fill="#ff9d3b"/>
<rect x="80.9" y="202.0" width="5.4" height="3.1" fill="#ffb66c"/>
<rect x="80.9" y="199.2" width="5.4" height="3.1" fill="#ffc68d"/>
<rect x="80.9" y="196.4" width="5.4" height="3.1" fill="#ffca95"/>
<rect x="80.9" y="193.5" width="5.4" height="3.1" fill="#ffc68d"/>
<rect x="80.9" y="190.7" width="5.4" height="3.1" fill="#ffcb97"/>
<rect x="80.9" y="187.9" width="5.4" height="3.1" fill="#ffd0a2"/>
<rect x="80.9" y="185.1" width="5.4" height="3.1" fill="#ffd0a1"/>
<rect x="80.9" y="182.3" width="5.4" height="3.1" fill="#ffbf7e"/>
<rect x="80.9" y="179.5" width="5.4" height="3.1" fill="#ffbe7d"/>
<rect x="80.9" y="176.7" width="5.4" height="3.1" fill="#ffbc79"/>
<rect x="80.9" y="173.9" width="5.4" height="3.1" fill="#ffc992"/>
<rect x="80.9" y="171.1" width="5.4" height="3.1" fill="#ffc891"/>
<rect x="80.9" y="168.3" width="5.4" height="3.1" fill="#ffc68c"/>
<rect x="80.9" y="165.4" width="5.4" height="3.1" fill="#ffd0a0"/>
<rect x="80.9" y="162.6" width="5.4" height="3.1" fill="#ffcd9b"/>
<rect x="80.9" y="159.8" width="5.4" height="3.1" fill="#ffd7b0"/>
<rect x="80.9" y="157.0" width="5.4" height="3.1" fill="#ffd9b3"/>
<rect x="80.9" y="154.2" width="5.4" height="3.1" fill="#ffdab5"/>
<rect x="80.9" y="151.4" width="5.4" height="3.1" fill="#ffdcb8"/>
<rect x="80.9" y="148.6" width="5.4" height="3.1" fill="#ffddbb"/>
<rect x="80.9" y="145.8" width="5.4" height="3.1" fill="#ffdfbe"/>
<rect x="80.9" y="143.0" width="5.4" height="3.1" fill="#ffe0c1"/>
<rect x="80.9" y="140.2" width="5.4" height="3.1" fill="#ffe1c4"/>
<rect x="80.9" y="137.3" width="5.4" height="3.1" fill="#ffe3c7"/>
<rect x="80.9" y="134.5" width="5.4" height="3.1" fill="#ffe4ca"/>
<rect x="80.9" y="131.7" width="5.4" height="3.1" fill="#ffe5cc"/>
<rect x="80.9" y="128.9" width="5.4" height="3.1" fill="#ffe5cc"/>
<rect x="80.9" y="126.1" width="5.4" height="3.1" fill="#ffe5cc"/>
<rect x="80.9" y="124.0" width="5.4" height="2.5" fill="#ffe5cc"/>
<rect x="86.0" y="235.7" width="5.4" height="2.9" fill="#ffd6ad"/>
<rect x="86.0" y="232.9" width="5.4" height="3.1" fill="#130000"/>
<rect x="86.0" y="230.1" width="5.4" height="3.1" fill="#650000"/>
<rect x="86.0" y="227.3" width="5.4" height="3.1" fill="#930000"/>
<rect x="86.0" y="224.5" width="5.4" height="3.1" fill="#e33000"/>
<rect x="86.0" y="221.6" width="5.4" height="3.1" fill="#ad0000"/>
<rect x="86.0" y="218.8" width="5.4" height="3.1" fill="#a00000"/>
<rect x="86.0" y="216.0" width="5.4" height="3.1" fill="#950000"/>
<rect x="86.0" y="213.2" width="5.4" height="3.1" fill="#ab0000"/>
<rect x="86.0" y="210.4" width="5.4" height="3.1" fill="#cd1200"/>
<rect x="86.0" y="207.6" width="5.4" height="3.1" fill="#f54800"/>
<rect x="86.0" y="204.8" width="5.4" height="3.1" fill="#ff5f00"/>
<rect x="86.0" y="202.0" width="5.4" height="3.1" fill="#ff8001"/>
<rect x="86.0" y="199.2" width="5.4" height="3.1" fill="#ff9123"/>
<rect x="86.0" y="196.4" width="5.4" height="3.1" fill="#ffa850"/>
<rect x="86.0" y="193.5" width="5.4" height="3.1" fill="#ffc284"/>
<rect x="86.0" y="190.7" width="5.4" height="3.1" fill="#ffb56b"/>
<rect x="86.0" y="187.9" width="5.4" height="3.1" fill="#ffbb78"/>
<rect x="86.0" y="185.1" width="5.4" height="3.1" fill="#ffb76e"/>
<rect x="86.0" y="182.3" width="5.4" height="3.1" fill="#ffaf5f"/>
<rect x="86.0" y="179.5" width="5.4" height="3.1" fill="#ffa449"/>
<rect x="86.0" y="176.7" width="5.4" height="3.1" fill="#ffa953"/>
<rect x="86.0" y="173.9" width="5.4" height="3.1" fill="#ff9e3e"/>
<rect x="86.0" y="171.1" width="5.4" height="3.1" fill="#ffa54b"/>
<rect x="86.0" y="168.3" width="5.4" height="3.1" fill="#ffba75"/>
<rect x="86.0" y="165.4" width="5.4" height="3.1" fill="#ffc48a"/>
<rect x="86.0" y="162.6" width="5.4" height="3.1" fill="#ffc58b"/>
<rect x="86.0" y="159.8" width="5.4" height="3.1" fill="#ffcfa0"/>
<rect x="86.0" y="157.0" width="5.4" height="3.1" fill="#ffcb98"/>
<rect x="86.0" y="154.2" width="5.4" height="3.1" fill="#ffc993"/>
<rect x="86.0" y="151.4" width="5.4" height="3.1" fill="#ffd6ae"/>
<rect x="86.0" y="148.6" width="5.4" height="3.1" fill="#ffd6ad"/>
<rect x="86.0" y="145.8" width="5.4" height="3.1" fill="#ffd8b0"/>
<rect x="86.0" y="143.0" width="5.4" height="3.1" fill="#ffdab6"/>
<rect x="86.0" y="140.2" width="5.4" height="3.1" fill="#ffdcba"/>
<rect x="86.0" y="137.3" width="5.4" height="3.1" fill="#ffdebc"/>
<rect x="86.0" y="134.5" width="5.4" height="3.1" fill="#ffdfbf"/>
<rect x="86.0" y="131.7" width="5.4" height="3.1" fill="#ffe0c2"/>
<rect x="86.0" y="128.9" width="5.4" height="3.1" fill="#ffe0c2"/>
<rect x="86.0" y="126.1" width="5.4" height="3.1" fill="#ffe0c2"/>
<rect x="86.0" y="124.0" width="5.4" height="2.5" fill="#ffe0c2"/>
<rect x="91.1" y="235.7" width="5.7" height="2.9" fill="#ffd6ad"/>
<rect x="91.1" y="232.9" width="5.7" height="3.1" fill="#000000"/>
<rect x="91.1" y="230.1" width="5.7" height="3.1" fill="#340000"/>
<rect x="91.1" y="227.3" width="5.7" height="3.1" fill="#870000"/>
<rect x="91.1" y="224.5" width="5.7" height="3.1" fill="#e73500"/>
<rect x="91.1" y="221.6" width="5.7" height="3.1" fill="#b10000"/>
<rect x="91.1" y="218.8" width="5.7" height="3.1" fill="#6e0000"/>
<rect x="91.1" y="216.0" width="5.7" height="3.1" fill="#6e0000"/>
<rect x="91.1" y="213.2" width="5.7" height="3.1" fill="#850000"/>
<rect x="91.1" y="210.4" width="5.7" height="3.1" fill="#c20400"/>
<rect x="91.1" y="207.6" width="5.7" height="3.1" fill="#f74a00"/>
<rect x="91.1" y="204.8" width="5.7" height="3.1" fill="#ff6000"/>
<rect x="91.1" y="202.0" width="5.7" height="3.1" fill="#ff6e00"/>
<rect x="91.1" y="199.2" width="5.7" height="3.1" fill="#ff850c"/>
<rect x="91.1" y="196.4" width="5.7" height="3.1" fill="#ff9b38"/>
<rect x="91.1" y="193.5" width="5.7" height="3.1" fill="#ffb062"/>
<rect x="91.1" y="190.7" width="5.7" height="3.1" fill="#ffaa54"/>
<rect x="91.1" y="187.9" width="5.7" height="3.1" fill="#ffa952"/>
<rect x="91.1" y="185.1" width="5.7" height="3.1" fill="#ff9f3f"/>
<rect x="91.1" y="182.3" width="5.7" height="3.1" fill="#ff8e1d"/>
<rect x="91.1" y="179.5" width="5.7" height="3.1" fill="#ff962d"/>
<rect x="91.1" y="176.7" width="5.7" height="3.1" fill="#ff8c1a"/>
<rect x="91.1" y="173.9" width="5.7" height="3.1" fill="#ff962d"/>
<rect x="91.1" y="171.1" width="5.7" height="3.1" fill="#ff9b38"/>
<rect x="91.1" y="168.3" width="5.7" height="3.1" fill="#ff9f40"/>
<rect x="91.1" y="165.4" width="5.7" height="3.1" fill="#ffb266"/>
<rect x="91.1" y="162.6" width="5.7" height="3.1" fill="#ffae5c"/>
<rect x="91.1" y="159.8" width="5.7" height="3.1" fill="#ffc387"/>
<rect x="91.1" y="157.0" width="5.7" height="3.1" fill="#ffbe7d"/>
<rect x="91.1" y="154.2" width="5.7" height="3.1" fill="#ffc387"/>
<rect x="91.1" y="151.4" width="5.7" height="3.1" fill="#ffcc9a"/>
<rect x="91.1" y="148.6" width="5.7" height="3.1" fill="#ffc994"/>
<rect x="91.1" y="145.8" width="5.7" height="3.1" fill="#ffce9d"/>
<rect x="91.1" y="143.0" width="5.7" height="3.1" fill="#ffd1a3"/>
<rect x="91.1" y="140.2" width="5.7" height="3.1" fill="#ffcf9f"/>
<rect x="91.1" y="137.3" width="5.7" height="3.1" fill="#ffdfbf"/>
<rect x="91.1" y="134.5" width="5.7" height="3.1" fill="#ffd9b3"/>
<rect x="91.1" y="131.7" width="5.7" height="3.1" fill="#ffdbb8"/>
<rect x="91.1" y="128.9" width="5.7" height="3.1" fill="#ffdbb8"/>
<rect x="91.1" y="126.1" width="5.7" height="3.1" fill="#ffdbb8"/>
<rect x="91.1" y="124.0" width="5.7" height="2.5" fill="#ffdbb8"/>
<rect x="96.5" y="235.7" width="5.8" height="2.9" fill="#ffd6ad"/>
<rect x="96.5" y="232.9" width="5.8" height="3.1" fill="#130000"/>
<rect x="96.5" y="230.1" width="5.8" height="3.1" fill="#620000"/>
<rect x="96.5" y="227.3" width="5.8" height="3.1" fill="#830000"/>
<rect x="96.5" y="224.5" width="5.8" height="3.1" fill="#ea3900"/>
<rect x="96.5" y="221.6" width="5.8" height="3.1" fill="#b10000"/>
<rect x="96.5" y="218.8" width="5.8" height="3.1" fill="#770000"/>
<rect x="96.5" y="216.0" width="5.8" height="3.1" fill="#700000"/>
<rect x="96.5" y="213.2" width="5.8" height="3.1" fill="#790000"/>
<rect x="96.5" y="210.4" width="5.8" height="3.1" fill="#c20300"/>
<rect x="96.5" y="207.6" width="5.8" height="3.1" fill="#fa4f00"/>
<rect x="96.5" y="204.8" width="5.8" height="3.1" fill="#ff6e00"/>
<rect x="96.5" y="202.0" width="5.8" height="3.1" fill="#ff6d00"/>
<rect x="96.5" y="199.2" width="5.8" height="3.1" fill="#ff8102"/>
<rect x="96.5" y="196.4" width="5.8" height="3.1" fill="#ff8f20"/>
<rect x="96.5" y="193.5" width="5.8" height="3.1" fill="#ffa54a"/>
<rect x="96.5" y="190.7" width="5.8" height="3.1" fill="#ffa144"/>
<rect x="96.5" y="187.9" width="5.8" height="3.1" fill="#ff9b36"/>
<rect x="96.5" y="185.1" width="5.8" height="3.1" fill="#ff942a"/>
<rect x="96.5" y="182.3" width="5.8" height="3.1" fill="#ff7d00"/>
<rect x="96.5" y="179.5" width="5.8" height="3.1" fill="#ff870f"/>
<rect x="96.5" y="176.7" width="5.8" height="3.1" fill="#ff7900"/>
<rect x="96.5" y="173.9" width="5.8" height="3.1" fill="#ff7c00"/>
<rect x="96.5" y="171.1" width="5.8" height="3.1" fill="#ff8a15"/>
<rect x="96.5" y="168.3" width="5.8" height="3.1" fill="#ff8d1b"/>
<rect x="96.5" y="165.4" width="5.8" height="3.1" fill="#ff9933"/>
<rect x="96.5" y="162.6" width="5.8" height="3.1" fill="#ffa44a"/>
<rect x="96.5" y="159.8" width="5.8" height="3.1" fill="#ffb265"/>
<rect x="96.5" y="157.0" width="5.8" height="3.1" fill="#ffb972"/>
<rect x="96.5" y="154.2" width="5.8" height="3.1" fill="#ffbf7f"/>
<rect x="96.5" y="151.4" width="5.8" height="3.1" fill="#ffc68d"/>
<rect x="96.5" y="148.6" width="5.8" height="3.1" fill="#ffbd7b"/>
<rect x="96.5" y="145.8" width="5.8" height="3.1" fill="#ffcb97"/>
<rect x="96.5" y="143.0" width="5.8" height="3.1" fill="#ffcd9b"/>
<rect x="96.5" y="140.2" width="5.8" height="3.1" fill="#ffcfa0"/>
<rect x="96.5" y="137.3" width="5.8" height="3.1" fill="#ffcb97"/>
<rect x="96.5" y="134.5" width="5.8" height="3.1" fill="#ffd4a9"/>
<rect x="96.5" y="131.7" width="5.8" height="3.1" fill="#ffd6ad"/>
<rect x="96.5" y="128.9" width="5.8" height="3.1" fill="#ffd6ad"/>
<rect x="96.5" y="126.1" width="5.8" height="3.1" fill="#ffd6ad"/>
<rect x="96.5" y="124.0" width="5.8" height="2.5" fill="#ffd6ad"/>
<rect x="102.0" y="235.7" width="9.1" height="2.9" fill="#ffd6ad"/>
<rect x="102.0" y="232.9" width="9.1" height="3.1" fill="#000000"/>
<rect x="102.0" y="230.1" width="9.1" height="3.1" fill="#4c0000"/>
<rect x="102.0" y="227.3" width="9.1" height="3.1" fill="#8a0000"/>
<rect x="102.0" y="224.5" width="9.1" height="3.1" fill="#e83600"/>
<rect x="102.0" y="221.6" width="9.1" height="3.1" fill="#bc0000"/>
<rect x="102.0" y="218.8" width="9.1" height="3.1" fill="#770000"/>
<rect x="102.0" y="216.0" width="9.1" height="3.1" fill="#760000"/>
<rect x="102.0" y="213.2" width="9.1" height="3.1" fill="#6f0000"/>
<rect x="102.0" y="210.4" width="9.1" height="3.1" fill="#ad0000"/>
<rect x="102.0" y="207.6" width="9.1" height="3.1" fill="#c60900"/>
<rect x="102.0" y="204.8" width="9.1" height="3.1" fill="#e73600"/>
<rect x="102.0" y="202.0" width="9.1" height="3.1" fill="#ff6d00"/>
<rect x="102.0" y="199.2" width="9.1" height="3.1" fill="#ff7000"/>
<rect x="102.0" y="196.4" width="9.1" height="3.1" fill="#ff8000"/>
<rect x="102.0" y="193.5" width="9.1" height="3.1" fill="#ff860d"/>
<rect x="102.0" y="190.7" width="9.1" height="3.1" fill="#ff8307"/>
<rect x="102.0" y="187.9" width="9.1" height="3.1" fill="#ff6500"/>
<rect x="102.0" y="185.1" width="9.1" height="3.1" fill="#ff6100"/>
<rect x="102.0" y="182.3" width="9.1" height="3.1" fill="#f34500"/>
<rect x="102.0" y="179.5" width="9.1" height="3.1" fill="#f64900"/>
<rect x="102.0" y="176.7" width="9.1" height="3.1" fill="#ff5b00"/>
<rect x="102.0" y="173.9" width="9.1" height="3.1" fill="#ff5600"/>
<rect x="102.0" y="171.1" width="9.1" height="3.1" fill="#ff6c00"/>
<rect x="102.0" y="168.3" width="9.1" height="3.1" fill="#ff7800"/>
<rect x="102.0" y="165.4" width="9.1" height="3.1" fill="#ff8c19"/>
<rect x="102.0" y="162.6" width="9.1" height="3.1" fill="#ff9020"/>
<rect x="102.0" y="159.8" width="9.1" height="3.1" fill="#ffa750"/>
<rect x="102.0" y="157.0" width="9.1" height="3.1" fill="#ffa449"/>
<rect x="102.0" y="154.2" width="9.1" height="3.1" fill="#ffb367"/>
<rect x="102.0" y="151.4" width="9.1" height="3.1" fill="#ffb56b"/>
<rect x="102.0" y="148.6" width="9.1" height="3.1" fill="#ffbf7f"/>
<rect x="102.0" y="145.8" width="9.1" height="3.1" fill="#ffc68d"/>
<rect x="102.0" y="143.0" width="9.1" height="3.1" fill="#ffb974"/>
<rect x="102.0" y="140.2" width="9.1" height="3.1" fill="#ffc285"/>
<rect x="102.0" y="137.3" width="9.1" height="3.1" fill="#ffcf9f"/>
<rect x="102.0" y="134.5" width="9.1" height="3.1" fill="#ffc58a"/>
<rect x="102.0" y="131.7" width="9.1" height="3.1" fill="#ffca94"/>
<rect x="102.0" y="128.9" width="9.1" height="3.1" fill="#ffd9b2"/>
<rect x="102.0" y="126.1" width="9.1" height="3.1" fill="#ffddbc"/>
<rect x="102.0" y="124.0" width="9.1" height="2.5" fill="#ffd4a9"/>
<rect x="110.8" y="235.7" width="6.9" height="2.9" fill="#ffd6ad"/>
<rect x="110.8" y="232.9" width="6.9" height="3.1" fill="#000000"/>
<rect x="110.8" y="230.1" width="6.9" height="3.1" fill="#520000"/>
<rect x="110.8" y="227.3" width="6.9" height="3.1" fill="#840000"/>
<rect x="110.8" y="224.5" width="6.9" height="3.1" fill="#e53300"/>
<rect x="110.8" y="221.6" width="6.9" height="3.1" fill="#b40000"/>
<rect x="110.8" y="218.8" width="6.9" height="3.1" fill="#850000"/>
<rect x="110.8" y="216.0" width="6.9" height="3.1" fill="#830000"/>
<rect x="110.8" y="213.2" width="6.9" height="3.1" fill="#950000"/>
<rect x="110.8" y="210.4" width="6.9" height="3.1" fill="#ab0000"/>
<rect x="110.8" y="207.6" width="6.9" height="3.1" fill="#bf0000"/>
<rect x="110.8" y="204.8" width="6.9" height="3.1" fill="#e93800"/>
<rect x="110.8" y="202.0" width="6.9" height="3.1" fill="#ff6d00"/>
<rect x="110.8" y="199.2" width="6.9" height="3.1" fill="#ff7800"/>
<rect x="110.8" y="196.4" width="6.9" height="3.1" fill="#ff7800"/>
<rect x="110.8" y="193.5" width="6.9" height="3.1" fill="#ff9225"/>
<rect x="110.8" y="190.7" width="6.9" height="3.1" fill="#ff8001"/>
<rect x="110.8" y="187.9" width="6.9" height="3.1" fill="#ff6f00"/>
<rect x="110.8" y="185.1" width="6.9" height="3.1" fill="#fb5000"/>
<rect x="110.8" y="182.3" width="6.9" height="3.1" fill="#e73500"/>
<rect x="110.8" y="179.5" width="6.9" height="3.1" fill="#e02c00"/>
<rect x="110.8" y="176.7" width="6.9" height="3.1" fill="#f24400"/>
<rect x="110.8" y="173.9" width="6.9" height="3.1" fill="#fe5400"/>
<rect x="110.8" y="171.1" width="6.9" height="3.1" fill="#ff5b00"/>
<rect x="110.8" y="168.3" width="6.9" height="3.1" fill="#ff6600"/>
<rect x="110.8" y="165.4" width="6.9" height="3.1" fill="#ff7300"/>
<rect x="110.8" y="162.6" width="6.9" height="3.1" fill="#ff8f1f"/>
<rect x="110.8" y="159.8" width="6.9" height="3.1" fill="#ff9021"/>
<rect x="110.8" y="157.0" width="6.9" height="3.1" fill="#ff9831"/>
<rect x="110.8" y="154.2" width="6.9" height="3.1" fill="#ffa245"/>
<rect x="110.8" y="151.4" width="6.9" height="3.1" fill="#ffba76"/>
<rect x="110.8" y="148.6" width="6.9" height="3.1" fill="#ffba75"/>
<rect x="110.8" y="145.8" width="6.9" height="3.1" fill="#ffb76f"/>
<rect x="110.8" y="143.0" width="6.9" height="3.1" fill="#ffba76"/>
<rect x="110.8" y="140.2" width="6.9" height="3.1" fill="#ffcd9b"/>
<rect x="110.8" y="137.3" width="6.9" height="3.1" fill="#ffcb97"/>
<rect x="110.8" y="134.5" width="6.9" height="3.1" fill="#ffc993"/>
<rect x="110.8" y="131.7" width="6.9" height="3.1" fill="#ffcd9a"/>
<rect x="110.8" y="128.9" width="6.9" height="3.1" fill="#ffd2a6"/>
<rect x="110.8" y="126.1" width="6.9" height="3.1" fill="#ffdab5"/>
<rect x="110.8" y="124.0" width="6.9" height="2.5" fill="#ffd8b1"/>
<rect x="117.4" y="235.7" width="5.7" height="2.9" fill="#ffd6ad"/>
<rect x="117.4" y="232.9" width="5.7" height="3.1" fill="#000000"/>
<rect x="117.4" y="230.1" width="5.7" height="3.1" fill="#530000"/>
<rect x="117.4" y="227.3" width="5.7" height="3.1" fill="#890000"/>
<rect x="117.4" y="224.5" width="5.7" height="3.1" fill="#e63400"/>
<rect x="117.4" y="221.6" width="5.7" height="3.1" fill="#b20000"/>
<rect x="117.4" y="218.8" width="5.7" height="3.1" fill="#850000"/>
<rect x="117.4" y="216.0" width="5.7" height="3.1" fill="#870000"/>
<rect x="117.4" y="213.2" width="5.7" height="3.1" fill="#9d0000"/>
<rect x="117.4" y="210.4" width="5.7" height="3.1" fill="#af0000"/>
<rect x="117.4" y="207.6" width="5.7" height="3.1" fill="#be0000"/>
<rect x="117.4" y="204.8" width="5.7" height="3.1" fill="#e83600"/>
<rect x="117.4" y="202.0" width="5.7" height="3.1" fill="#ff6c00"/>
<rect x="117.4" y="199.2" width="5.7" height="3.1" fill="#ff6b00"/>
<rect x="117.4" y="196.4" width="5.7" height="3.1" fill="#ff7d00"/>
<rect x="117.4" y="193.5" width="5.7" height="3.1" fill="#ff8409"/>
<rect x="117.4" y="190.7" width="5.7" height="3.1" fill="#ff7e00"/>
<rect x="117.4" y="187.9" width="5.7" height="3.1" fill="#ff6900"/>
<rect x="117.4" y="185.1" width="5.7" height="3.1" fill="#fe5300"/>
<rect x="117.4" y="182.3" width="5.7" height="3.1" fill="#e63300"/>
<rect x="117.4" y="179.5" width="5.7" height="3.1" fill="#df2b00"/>
<rect x="117.4" y="176.7" width="5.7" height="3.1" fill="#eb3a00"/>
<rect x="117.4" y="173.9" width="5.7" height="3.1" fill="#fa4f00"/>
<rect x="117.4" y="171.1" width="5.7" height="3.1" fill="#ff5f00"/>
<rect x="117.4" y="168.3" width="5.7" height="3.1" fill="#ff7300"/>
<rect x="117.4" y="165.4" width="5.7" height="3.1" fill="#ff7500"/>
<rect x="117.4" y="162.6" width="5.7" height="3.1" fill="#ff8e1c"/>
<rect x="117.4" y="159.8" width="5.7" height="3.1" fill="#ff9831"/>
<rect x="117.4" y="157.0" width="5.7" height="3.1" fill="#ffa64e"/>
<rect x="117.4" y="154.2" width="5.7" height="3.1" fill="#ffaf60"/>
<rect x="117.4" y="151.4" width="5.7" height="3.1" fill="#ffb062"/>
<rect x="117.4" y="148.6" width="5.7" height="3.1" fill="#ffaa55"/>
<rect x="117.4" y="145.8" width="5.7" height="3.1" fill="#ffb366"/>
<rect x="117.4" y="143.0" width="5.7" height="3.1" fill="#ffb870"/>
<rect x="117.4" y="140.2" width="5.7" height="3.1" fill="#ffbe7c"/>
<rect x="117.4" y="137.3" width="5.7" height="3.1" fill="#ffcb96"/>
<rect x="117.4" y="134.5" width="5.7" height="3.1" fill="#ffd2a5"/>
<rect x="117.4" y="131.7" width="5.7" height="3.1" fill="#ffcfa0"/>
<rect x="117.4" y="128.9" width="5.7" height="3.1" fill="#ffdbb7"/>
<rect x="117.4" y="126.1" width="5.7" height="3.1" fill="#ffd3a7"/>
<rect x="117.4" y="124.0" width="5.7" height="2.5" fill="#ffd6ad"/>
<rect x="122.8" y="235.7" width="5.5" height="2.9" fill="#ffd6ad"/>
<rect x="122.8" y="232.9" width="5.5" height="3.1" fill="#000000"/>
<rect x="122.8" y="230.1" width="5.5" height="3.1" fill="#4c0000"/>
<rect x="122.8" y="227.3" width="5.5" height="3.1" fill="#8c0000"/>
<rect x="122.8" y="224.5" width="5.5" height="3.1" fill="#eb3a00"/>
<rect x="122.8" y="221.6" width="5.5" height="3.1" fill="#b70000"/>
<rect x="122.8" y="218.8" width="5.5" height="3.1" fill="#8b0000"/>
<rect x="122.8" y="216.0" width="5.5" height="3.1" fill="#840000"/>
<rect x="122.8" y="213.2" width="5.5" height="3.1" fill="#7d0000"/>
<rect x="122.8" y="210.4" width="5.5" height="3.1" fill="#790000"/>
<rect x="122.8" y="207.6" width="5.5" height="3.1" fill="#7b0000"/>
<rect x="122.8" y="204.8" width="5.5" height="3.1" fill="#e53300"/>
<rect x="122.8" y="202.0" width="5.5" height="3.1" fill="#ff6600"/>
<rect x="122.8" y="199.2" width="5.5" height="3.1" fill="#ff7600"/>
<rect x="122.8" y="196.4" width="5.5" height="3.1" fill="#ff8104"/>
<rect x="122.8" y="193.5" width="5.5" height="3.1" fill="#ff8409"/>
<rect x="122.8" y="190.7" width="5.5" height="3.1" fill="#ff8307"/>
<rect x="122.8" y="187.9" width="5.5" height="3.1" fill="#ff7000"/>
<rect x="122.8" y="185.1" width="5.5" height="3.1" fill="#ff5900"/>
<rect x="122.8" y="182.3" width="5.5" height="3.1" fill="#f34500"/>
<rect x="122.8" y="179.5" width="5.5" height="3.1" fill="#ec3c00"/>
<rect x="122.8" y="176.7" width="5.5" height="3.1" fill="#f84c00"/>
<rect x="122.8" y="173.9" width="5.5" height="3.1" fill="#f64900"/>
<rect x="122.8" y="171.1" width="5.5" height="3.1" fill="#ff6600"/>
<rect x="122.8" y="168.3" width="5.5" height="3.1" fill="#ff6600"/>
<rect x="122.8" y="165.4" width="5.5" height="3.1" fill="#ff7a00"/>
<rect x="122.8" y="162.6" width="5.5" height="3.1" fill="#ff840a"/>
<rect x="122.8" y="159.8" width="5.5" height="3.1" fill="#ff9b37"/>
<rect x="122.8" y="157.0" width="5.5" height="3.1" fill="#ff9832"/>
<rect x="122.8" y="154.2" width="5.5" height="3.1" fill="#ff9b36"/>
<rect x="122.8" y="151.4" width="5.5" height="3.1" fill="#ffa64e"/>
<rect x="122.8" y="148.6" width="5.5" height="3.1" fill="#ffb56b"/>
<rect x="122.8" y="145.8" width="5.5" height="3.1" fill="#ffaa55"/>
<rect x="122.8" y="143.0" width="5.5" height="3.1" fill="#ffae5c"/>
<rect x="122.8" y="140.2" width="5.5" height="3.1" fill="#ffc488"/>
<rect x="122.8" y="137.3" width="5.5" height="3.1" fill="#ffbe7c"/>
<rect x="122.8" y="134.5" width="5.5" height="3.1" fill="#ffd3a6"/>
<rect x="122.8" y="131.7" width="5.5" height="3.1" fill="#ffd9b3"/>
<rect x="122.8" y="128.9" width="5.5" height="3.1" fill="#ffcd9c"/>
<rect x="122.8" y="126.1" width="5.5" height="3.1" fill="#ffd0a2"/>
<rect x="122.8" y="124.0" width="5.5" height="2.5" fill="#ffce9c"/>
<rect x="128.0" y="235.7" width="5.3" height="2.9" fill="#ffd6ad"/>
<rect x="128.0" y="232.9" width="5.3" height="3.1" fill="#000000"/>
<rect x="128.0" y="230.1" width="5.3" height="3.1" fill="#4b0000"/>
<rect x="128.0" y="227.3" width="5.3" height="3.1" fill="#870000"/>
<rect x="128.0" y="224.5" width="5.3" height="3.1" fill="#e83600"/>
<rect x="128.0" y="221.6" width="5.3" height="3.1" fill="#b60000"/>
<rect x="128.0" y="218.8" width="5.3" height="3.1" fill="#7f0000"/>
<rect x="128.0" y="216.0" width="5.3" height="3.1" fill="#840000"/>
<rect x="128.0" y="213.2" width="5.3" height="3.1" fill="#750000"/>
<rect x="128.0" y="210.4" width="5.3" height="3.1" fill="#7f0000"/>
<rect x="128.0" y="207.6" width="5.3" height="3.1" fill="#7b0000"/>
<rect x="128.0" y="204.8" width="5.3" height="3.1" fill="#e43100"/>
<rect x="128.0" y="202.0" width="5.3" height="3.1" fill="#ff6e00"/>
<rect x="128.0" y="199.2" width="5.3" height="3.1" fill="#ff6b00"/>
<rect x="128.0" y="196.4" width="5.3" height="3.1" fill="#ff850a"/>
<rect x="128.0" y="193.5" width="5.3" height="3.1" fill="#ff9224"/>
<rect x="128.0" y="190.7" width="5.3" height="3.1" fill="#ff870f"/>
<rect x="128.0" y="187.9" width="5.3" height="3.1" fill="#ff6900"/>
<rect x="128.0" y="185.1" width="5.3" height="3.1" fill="#ff5f00"/>
<rect x="128.0" y="182.3" width="5.3" height="3.1" fill="#ed3d00"/>
<rect x="128.0" y="179.5" width="5.3" height="3.1" fill="#f64900"/>
<rect x="128.0" y="176.7" width="5.3" height="3.1" fill="#ef3f00"/>
<rect x="128.0" y="173.9" width="5.3" height="3.1" fill="#f64900"/>
<rect x="128.0" y="171.1" width="5.3" height="3.1" fill="#ff5b00"/>
<rect x="128.0" y="168.3" width="5.3" height="3.1" fill="#ff6a00"/>
<rect x="128.0" y="165.4" width="5.3" height="3.1" fill="#ff7600"/>
<rect x="128.0" y="162.6" width="5.3" height="3.1" fill="#ff8913"/>
<rect x="128.0" y="159.8" width="5.3" height="3.1" fill="#ff9b37"/>
<rect x="128.0" y="157.0" width="5.3" height="3.1" fill="#ff962e"/>
<rect x="128.0" y="154.2" width="5.3" height="3.1" fill="#ffa64c"/>
<rect x="128.0" y="151.4" width="5.3" height="3.1" fill="#ffa851"/>
<rect x="128.0" y="148.6" width="5.3" height="3.1" fill="#ffad5c"/>
<rect x="128.0" y="145.8" width="5.3" height="3.1" fill="#ffab56"/>
<rect x="128.0" y="143.0" width="5.3" height="3.1" fill="#ffb871"/>
<rect x="128.0" y="140.2" width="5.3" height="3.1" fill="#ffb66d"/>
<rect x="128.0" y="137.3" width="5.3" height="3.1" fill="#ffcb98"/>
<rect x="128.0" y="134.5" width="5.3" height="3.1" fill="#ffce9d"/>
<rect x="128.0" y="131.7" width="5.3" height="3.1" fill="#ffce9d"/>
<rect x="128.0" y="128.9" width="5.3" height="3.1" fill="#ffd1a3"/>
<rect x="128.0" y="126.1" width="5.3" height="3.1" fill="#ffce9e"/>
<rect x="128.0" y="124.0" width="5.3" height="2.5" fill="#ffdbb8"/>
<rect x="133.0" y="235.7" width="5.3" height="2.9" fill="#ffd6ad"/>
<rect x="133.0" y="232.9" width="5.3" height="3.1" fill="#000000"/>
<rect x="133.0" y="230.1" width="5.3" height="3.1" fill="#490000"/>
<rect x="133.0" y="227.3" width="5.3" height="3.1" fill="#830000"/>
<rect x="133.0" y="224.5" width="5.3" height="3.1" fill="#ea3900"/>
<rect x="133.0" y="221.6" width="5.3" height="3.1" fill="#bc0000"/>
<rect x="133.0" y="218.8" width="5.3" height="3.1" fill="#850000"/>
<rect x="133.0" y="216.0" width="5.3" height="3.1" fill="#7f0000"/>
<rect x="133.0" y="213.2" width="5.3" height="3.1" fill="#790000"/>
<rect x="133.0" y="210.4" width="5.3" height="3.1" fill="#7b0000"/>
<rect x="133.0" y="207.6" width="5.3" height="3.1" fill="#7e0000"/>
<rect x="133.0" y="204.8" width="5.3" height="3.1" fill="#e32f00"/>
<rect x="133.0" y="202.0" width="5.3" height="3.1" fill="#ff6600"/>
<rect x="133.0" y="199.2" width="5.3" height="3.1" fill="#ff7000"/>
<rect x="133.0" y="196.4" width="5.3" height="3.1" fill="#ff7d00"/>
<rect x="133.0" y="193.5" width="5.3" height="3.1" fill="#ff850a"/>
<rect x="133.0" y="190.7" width="5.3" height="3.1" fill="#ff7500"/>
<rect x="133.0" y="187.9" width="5.3" height="3.1" fill="#ff5d00"/>
<rect x="133.0" y="185.1" width="5.3" height="3.1" fill="#fd5300"/>
<rect x="133.0" y="182.3" width="5.3" height="3.1" fill="#ea3900"/>
<rect x="133.0" y="179.5" width="5.3" height="3.1" fill="#df2a00"/>
<rect x="133.0" y="176.7" width="5.3" height="3.1" fill="#dd2800"/>
<rect x="133.0" y="173.9" width="5.3" height="3.1" fill="#de2900"/>
<rect x="133.0" y="171.1" width="5.3" height="3.1" fill="#ed3d00"/>
<rect x="133.0" y="168.3" width="5.3" height="3.1" fill="#ff5f00"/>
<rect x="133.0" y="165.4" width="5.3" height="3.1" fill="#ff6c00"/>
<rect x="133.0" y="162.6" width="5.3" height="3.1" fill="#ff8307"/>
<rect x="133.0" y="159.8" width="5.3" height="3.1" fill="#ff9123"/>
<rect x="133.0" y="157.0" width="5.3" height="3.1" fill="#ff9429"/>
<rect x="133.0" y="154.2" width="5.3" height="3.1" fill="#ff9429"/>
<rect x="133.0" y="151.4" width="5.3" height="3.1" fill="#ff9f40"/>
<rect x="133.0" y="148.6" width="5.3" height="3.1" fill="#ffb061"/>
<rect x="133.0" y="145.8" width="5.3" height="3.1" fill="#ffb164"/>
<rect x="133.0" y="143.0" width="5.3" height="3.1" fill="#ffb468"/>
<rect x="133.0" y="140.2" width="5.3" height="3.1" fill="#ffb164"/>
<rect x="133.0" y="137.3" width="5.3" height="3.1" fill="#ffc285"/>
<rect x="133.0" y="134.5" width="5.3" height="3.1" fill="#ffd0a1"/>
<rect x="133.0" y="131.7" width="5.3" height="3.1" fill="#ffd0a2"/>
<rect x="133.0" y="128.9" width="5.3" height="3.1" fill="#ffd8b0"/>
<rect x="133.0" y="126.1" width="5.3" height="3.1" fill="#ffddbb"/>
<rect x="133.0" y="124.0" width="5.3" height="2.5" fill="#ffd4aa"/>
<rect x="138.0" y="235.7" width="5.4" height="2.9" fill="#ffd6ad"/>
<rect x="138.0" y="232.9" width="5.4" height="3.1" fill="#260000"/>
<rect x="138.0" y="230.1" width="5.4" height="3.1" fill="#920000"/>
<rect x="138.0" y="227.3" width="5.4" height="3.1" fill="#a80000"/>
<rect x="138.0" y="224.5" width="5.4" height="3.1" fill="#bc0000"/>
<rect x="138.0" y="221.6" width="5.4" height="3.1" fill="#c40600"/>
<rect x="138.0" y="218.8" width="5.4" height="3.1" fill="#ab0000"/>
<rect x="138.0" y="216.0" width="5.4" height="3.1" fill="#aa0000"/>
<rect x="138.0" y="213.2" width="5.4" height="3.1" fill="#950000"/>
<rect x="138.0" y="210.4" width="5.4" height="3.1" fill="#9a0000"/>
<rect x="138.0" y="207.6" width="5.4" height="3.1" fill="#b40000"/>
<rect x="138.0" y="204.8" width="5.4" height="3.1" fill="#ce1400"/>
<rect x="138.0" y="202.0" width="5.4" height="3.1" fill="#fd5200"/>
<rect x="138.0" y="199.2" width="5.4" height="3.1" fill="#ff6200"/>
<rect x="138.0" y="196.4" width="5.4" height="3.1" fill="#ff7500"/>
<rect x="138.0" y="193.5" width="5.4" height="3.1" fill="#ff7d00"/>
<rect x="138.0" y="190.7" width="5.4" height="3.1" fill="#ff7800"/>
<rect x="138.0" y="187.9" width="5.4" height="3.1" fill="#ff6900"/>
<rect x="138.0" y="185.1" width="5.4" height="3.1" fill="#fe5300"/>
<rect x="138.0" y="182.3" width="5.4" height="3.1" fill="#f24400"/>
<rect x="138.0" y="179.5" width="5.4" height="3.1" fill="#e53200"/>
<rect x="138.0" y="176.7" width="5.4" height="3.1" fill="#e33000"/>
<rect x="138.0" y="173.9" width="5.4" height="3.1" fill="#e22e00"/>
<rect x="138.0" y="171.1" width="5.4" height="3.1" fill="#f44600"/>
<rect x="138.0" y="168.3" width="5.4" height="3.1" fill="#fe5300"/>
<rect x="138.0" y="165.4" width="5.4" height="3.1" fill="#ff7200"/>
<rect x="138.0" y="162.6" width="5.4" height="3.1" fill="#ff7a00"/>
<rect x="138.0" y="159.8" width="5.4" height="3.1" fill="#ff8308"/>
<rect x="138.0" y="157.0" width="5.4" height="3.1" fill="#ff9d3b"/>
<rect x="138.0" y="154.2" width="5.4" height="3.1" fill="#ff962d"/>
<rect x="138.0" y="151.4" width="5.4" height="3.1" fill="#ff9f3f"/>
<rect x="138.0" y="148.6" width="5.4" height="3.1" fill="#ffa54b"/>
<rect x="138.0" y="145.8" width="5.4" height="3.1" fill="#ffb469"/>
<rect x="138.0" y="143.0" width="5.4" height="3.1" fill="#ffad5b"/>
<rect x="138.0" y="140.2" width="5.4" height="3.1" fill="#ffb368"/>
<rect x="138.0" y="137.3" width="5.4" height="3.1" fill="#ffbf7e"/>
<rect x="138.0" y="134.5" width="5.4" height="3.1" fill="#ffc183"/>
<rect x="138.0" y="131.7" width="5.4" height="3.1" fill="#ffc993"/>
<rect x="138.0" y="128.9" width="5.4" height="3.1" fill="#ffd0a2"/>
<rect x="138.0" y="126.1" width="5.4" height="3.1" fill="#ffcd9a"/>
<rect x="138.0" y="124.0" width="5.4" height="2.5" fill="#ffddba"/>
<rect x="143.1" y="235.7" width="7.2" height="2.9" fill="#ffd0a0"/>
<rect x="143.1" y="232.9" width="7.2" height="3.1" fill="#990000"/>
<rect x="143.1" y="230.1" width="7.2" height="3.1" fill="#bf0000"/>
<rect x="143.1" y="227.3" width="7.2" height="3.1" fill="#b90000"/>
<rect x="143.1" y="224.5" width="7.2" height="3.1" fill="#d11700"/>
<rect x="143.1" y="221.6" width="7.2" height="3.1" fill="#d11700"/>
<rect x="143.1" y="218.8" width="7.2" height="3.1" fill="#d11700"/>
<rect x="143.1" y="216.0" width="7.2" height="3.1" fill="#cc1100"/>
<rect x="143.1" y="213.2" width="7.2" height="3.1" fill="#c10200"/>
<rect x="143.1" y="210.4" width="7.2" height="3.1" fill="#bc0000"/>
<rect x="143.1" y="207.6" width="7.2" height="3.1" fill="#bf0000"/>
<rect x="143.1" y="204.8" width="7.2" height="3.1" fill="#e83700"/>
<rect x="143.1" y="202.0" width="7.2" height="3.1" fill="#ff6900"/>
<rect x="143.1" y="199.2" width="7.2" height="3.1" fill="#ff7700"/>
<rect x="143.1" y="196.4" width="7.2" height="3.1" fill="#ff8810"/>
<rect x="143.1" y="193.5" width="7.2" height="3.1" fill="#ff9020"/>
<rect x="143.1" y="190.7" width="7.2" height="3.1" fill="#ff8206"/>
<rect x="143.1" y="187.9" width="7.2" height="3.1" fill="#ff7300"/>
<rect x="143.1" y="185.1" width="7.2" height="3.1" fill="#ff6300"/>
<rect x="143.1" y="182.3" width="7.2" height="3.1" fill="#ff6100"/>
<rect x="143.1" y="179.5" width="7.2" height="3.1" fill="#fb5000"/>
<rect x="143.1" y="176.7" width="7.2" height="3.1" fill="#f84b00"/>
<rect x="143.1" y="173.9" width="7.2" height="3.1" fill="#fa4f00"/>
<rect x="143.1" y="171.1" width="7.2" height="3.1" fill="#ff5700"/>
<rect x="143.1" y="168.3" width="7.2" height="3.1" fill="#ff6f00"/>
<rect x="143.1" y="165.4" width="7.2" height="3.1" fill="#ff8206"/>
<rect x="143.1" y="162.6" width="7.2" height="3.1" fill="#ff8a14"/>
<rect x="143.1" y="159.8" width="7.2" height="3.1" fill="#ff9832"/>
<rect x="143.1" y="157.0" width="7.2" height="3.1" fill="#ff9021"/>
<rect x="143.1" y="154.2" width="7.2" height="3.1" fill="#ffa042"/>
<rect x="143.1" y="151.4" width="7.2" height="3.1" fill="#ff9d3b"/>
<rect x="143.1" y="148.6" width="7.2" height="3.1" fill="#ffad5b"/>
<rect x="143.1" y="145.8" width="7.2" height="3.1" fill="#ffb46a"/>
<rect x="143.1" y="143.0" width="7.2" height="3.1" fill="#ffaf5f"/>
<rect x="143.1" y="140.2" width="7.2" height="3.1" fill="#ffb56b"/>
<rect x="143.1" y="137.3" width="7.2" height="3.1" fill="#ffc58c"/>
<rect x="143.1" y="134.5" width="7.2" height="3.1" fill="#ffc285"/>
<rect x="143.1" y="131.7" width="7.2" height="3.1" fill="#ffc992"/>
<rect x="143.1" y="128.9" width="7.2" height="3.1" fill="#ffcfa0"/>
<rect x="143.1" y="126.1" width="7.2" height="3.1" fill="#ffcc98"/>
<rect x="143.1" y="124.0" width="7.2" height="2.5" fill="#ffcd9b"/>
<rect x="150.0" y="235.7" width="9.4" height="2.9" fill="#ffd2a6"/>
<rect x="150.0" y="232.9" width="9.4" height="3.1" fill="#700000"/>
<rect x="150.0" y="230.1" width="9.4" height="3.1" fill="#ff6200"/>
<rect x="150.0" y="227.3" width="9.4" height="3.1" fill="#ff6c00"/>
<rect x="150.0" y="224.5" width="9.4" height="3.1" fill="#ff7d00"/>
<rect x="150.0" y="221.6" width="9.4" height="3.1" fill="#ff7f00"/>
<rect x="150.0" y="218.8" width="9.4" height="3.1" fill="#ff8307"/>
<rect x="150.0" y="216.0" width="9.4" height="3.1" fill="#ff7e00"/>
<rect x="150.0" y="213.2" width="9.4" height="3.1" fill="#ff9225"/>
<rect x="150.0" y="210.4" width="9.4" height="3.1" fill="#ff972e"/>
<rect x="150.0" y="207.6" width="9.4" height="3.1" fill="#ffa245"/>
<rect x="150.0" y="204.8" width="9.4" height="3.1" fill="#ffa852"/>
<rect x="150.0" y="202.0" width="9.4" height="3.1" fill="#ffbf7f"/>
<rect x="150.0" y="199.2" width="9.4" height="3.1" fill="#ffca94"/>
<rect x="150.0" y="196.4" width="9.4" height="3.1" fill="#ffc284"/>
<rect x="150.0" y="193.5" width="9.4" height="3.1" fill="#ffbb76"/>
<rect x="150.0" y="190.7" width="9.4" height="3.1" fill="#ffa64c"/>
<rect x="150.0" y="187.9" width="9.4" height="3.1" fill="#ff8d1b"/>
<rect x="150.0" y="185.1" width="9.4" height="3.1" fill="#ff8c1a"/>
<rect x="150.0" y="182.3" width="9.4" height="3.1" fill="#ff8a15"/>
<rect x="150.0" y="179.5" width="9.4" height="3.1" fill="#ff7c00"/>
<rect x="150.0" y="176.7" width="9.4" height="3.1" fill="#ff8306"/>
<rect x="150.0" y="173.9" width="9.4" height="3.1" fill="#ff7e00"/>
<rect x="150.0" y="171.1" width="9.4" height="3.1" fill="#ff7b00"/>
<rect x="150.0" y="168.3" width="9.4" height="3.1" fill="#ff8308"/>
<rect x="150.0" y="165.4" width="9.4" height="3.1" fill="#ff8812"/>
<rect x="150.0" y="162.6" width="9.4" height="3.1" fill="#ff952b"/>
<rect x="150.0" y="159.8" width="9.4" height="3.1" fill="#ff952b"/>
<rect x="150.0" y="157.0" width="9.4" height="3.1" fill="#ff9934"/>
<rect x="150.0" y="154.2" width="9.4" height="3.1" fill="#ff9a34"/>
<rect x="150.0" y="151.4" width="9.4" height="3.1" fill="#ffa040"/>
<rect x="150.0" y="148.6" width="9.4" height="3.1" fill="#ffad5a"/>
<rect x="150.0" y="145.8" width="9.4" height="3.1" fill="#ffad5b"/>
<rect x="150.0" y="143.0" width="9.4" height="3.1" fill="#ffac59"/>
<rect x="150.0" y="140.2" width="9.4" height="3.1" fill="#ffb163"/>
<rect x="150.0" y="137.3" width="9.4" height="3.1" fill="#ffb871"/>
<rect x="150.0" y="134.5" width="9.4" height="3.1" fill="#ffbc78"/>
<rect x="150.0" y="131.7" width="9.4" height="3.1" fill="#ffc183"/>
<rect x="150.0" y="128.9" width="9.4" height="3.1" fill="#ffc891"/>
<rect x="150.0" y="126.1" width="9.4" height="3.1" fill="#ffc890"/>
<rect x="150.0" y="124.0" width="9.4" height="2.5" fill="#ffd4aa"/>
<rect x="159.1" y="235.7" width="8.8" height="2.9" fill="#ffd6ad"/>
<rect x="159.1" y="232.9" width="8.8" height="3.1" fill="#c00100"/>
<rect x="159.1" y="230.1" width="8.8" height="3.1" fill="#ffa954"/>
<rect x="159.1" y="227.3" width="8.8" height="3.1" fill="#ffab57"/>
<rect x="159.1" y="224.5" width="8.8" height="3.1" fill="#ffac59"/>
<rect x="159.1" y="221.6" width="8.8" height="3.1" fill="#ffb468"/>
<rect x="159.1" y="218.8" width="8.8" height="3.1" fill="#ffb770"/>
<rect x="159.1" y="216.0" width="8.8" height="3.1" fill="#ffab58"/>
<rect x="159.1" y="213.2" width="8.8" height="3.1" fill="#ffb060"/>
<rect x="159.1" y="210.4" width="8.8" height="3.1" fill="#ffb872"/>
<rect x="159.1" y="207.6" width="8.8" height="3.1" fill="#ffc68c"/>
<rect x="159.1" y="204.8" width="8.8" height="3.1" fill="#ffc081"/>
<rect x="159.1" y="202.0" width="8.8" height="3.1" fill="#ffcb97"/>
<rect x="159.1" y="199.2" width="8.8" height="3.1" fill="#ffddbb"/>
<rect x="159.1" y="196.4" width="8.8" height="3.1" fill="#ffc892"/>
<rect x="159.1" y="193.5" width="8.8" height="3.1" fill="#ffcb97"/>
<rect x="159.1" y="190.7" width="8.8" height="3.1" fill="#ffb76f"/>
<rect x="159.1" y="187.9" width="8.8" height="3.1" fill="#ffa348"/>
<rect x="159.1" y="185.1" width="8.8" height="3.1" fill="#ffa143"/>
<rect x="159.1" y="182.3" width="8.8" height="3.1" fill="#ff9326"/>
<rect x="159.1" y="179.5" width="8.8" height="3.1" fill="#ff9830"/>
<rect x="159.1" y="176.7" width="8.8" height="3.1" fill="#ff9429"/>
<rect x="159.1" y="173.9" width="8.8" height="3.1" fill="#ff9a35"/>
<rect x="159.1" y="171.1" width="8.8" height="3.1" fill="#ff9428"/>
<rect x="159.1" y="168.3" width="8.8" height="3.1" fill="#ffa144"/>
<rect x="159.1" y="165.4" width="8.8" height="3.1" fill="#ffa448"/>
<rect x="159.1" y="162.6" width="8.8" height="3.1" fill="#ffa44a"/>
<rect x="159.1" y="159.8" width="8.8" height="3.1" fill="#ffaf5e"/>
<rect x="159.1" y="157.0" width="8.8" height="3.1" fill="#ffaa55"/>
<rect x="159.1" y="154.2" width="8.8" height="3.1" fill="#ffa346"/>
<rect x="159.1" y="151.4" width="8.8" height="3.1" fill="#ffa750"/>
<rect x="159.1" y="148.6" width="8.8" height="3.1" fill="#ffb76f"/>
<rect x="159.1" y="145.8" width="8.8" height="3.1" fill="#ffae5d"/>
<rect x="159.1" y="143.0" width="8.8" height="3.1" fill="#ffbc79"/>
<rect x="159.1" y="140.2" width="8.8" height="3.1" fill="#ffbf80"/>
<rect x="159.1" y="137.3" width="8.8" height="3.1" fill="#ffbc7a"/>
<rect x="159.1" y="134.5" width="8.8" height="3.1" fill="#ffc78f"/>
<rect x="159.1" y="131.7" width="8.8" height="3.1" fill="#ffcd9a"/>
<rect x="159.1" y="128.9" width="8.8" height="3.1" fill="#ffd0a2"/>
<rect x="159.1" y="126.1" width="8.8" height="3.1" fill="#ffd0a1"/>
<rect x="159.1" y="124.0" width="8.8" height="2.5" fill="#ffd2a4"/>
<rect x="167.6" y="235.7" width="6.9" height="2.9" fill="#ffdbb8"/>
<rect x="167.6" y="232.9" width="6.9" height="3.1" fill="#f34500"/>
<rect x="167.6" y="230.1" width="6.9" height="3.1" fill="#ffc58b"/>
<rect x="167.6" y="227.3" width="6.9" height="3.1" fill="#ffc183"/>
<rect x="167.6" y="224.5" width="6.9" height="3.1" fill="#ffc78f"/>
<rect x="167.6" y="221.6" width="6.9" height="3.1" fill="#ffbe7d"/>
<rect x="167.6" y="218.8" width="6.9" height="3.1" fill="#ffcb97"/>
<rect x="167.6" y="216.0" width="6.9" height="3.1" fill="#ffc489"/>
<rect x="167.6" y="213.2" width="6.9" height="3.1" fill="#ffbd7c"/>
<rect x="167.6" y="210.4" width="6.9" height="3.1" fill="#ffcb97"/>
<rect x="167.6" y="207.6" width="6.9" height="3.1" fill="#ffce9d"/>
<rect x="167.6" y="204.8" width="6.9" height="3.1" fill="#ffd4aa"/>
<rect x="167.6" y="202.0" width="6.9" height="3.1" fill="#ffd6ae"/>
<rect x="167.6" y="199.2" width="6.9" height="3.1" fill="#ffdbb7"/>
<rect x="167.6" y="196.4" width="6.9" height="3.1" fill="#ffd9b3"/>
<rect x="167.6" y="193.5" width="6.9" height="3.1" fill="#ffd7ae"/>
<rect x="167.6" y="190.7" width="6.9" height="3.1" fill="#ffc68e"/>
<rect x="167.6" y="187.9" width="6.9" height="3.1" fill="#ffb162"/>
<rect x="167.6" y="185.1" width="6.9" height="3.1" fill="#ffae5e"/>
<rect x="167.6" y="182.3" width="6.9" height="3.1" fill="#ff962e"/>
<rect x="167.6" y="179.5" width="6.9" height="3.1" fill="#ff9d3b"/>
<rect x="167.6" y="176.7" width="6.9" height="3.1" fill="#ff9429"/>
<rect x="167.6" y="173.9" width="6.9" height="3.1" fill="#ffa245"/>
<rect x="167.6" y="171.1" width="6.9" height="3.1" fill="#ffa750"/>
<rect x="167.6" y="168.3" width="6.9" height="3.1" fill="#ffaa55"/>
<rect x="167.6" y="165.4" width="6.9" height="3.1" fill="#ffb061"/>
<rect x="167.6" y="162.6" width="6.9" height="3.1" fill="#ffb163"/>
<rect x="167.6" y="159.8" width="6.9" height="3.1" fill="#ffb66e"/>
<rect x="167.6" y="157.0" width="6.9" height="3.1" fill="#ffba75"/>
<rect x="167.6" y="154.2" width="6.9" height="3.1" fill="#ffaf5f"/>
<rect x="167.6" y="151.4" width="6.9" height="3.1" fill="#ffb871"/>
<rect x="167.6" y="148.6" width="6.9" height="3.1" fill="#ffbb77"/>
<rect x="167.6" y="145.8" width="6.9" height="3.1" fill="#ffbe7d"/>
<rect x="167.6" y="143.0" width="6.9" height="3.1" fill="#ffbb77"/>
<rect x="167.6" y="140.2" width="6.9" height="3.1" fill="#ffcc99"/>
<rect x="167.6" y="137.3" width="6.9" height="3.1" fill="#ffcf9f"/>
<rect x="167.6" y="134.5" width="6.9" height="3.1" fill="#ffc68e"/>
<rect x="167.6" y="131.7" width="6.9" height="3.1" fill="#ffd5ab"/>
<rect x="167.6" y="128.9" width="6.9" height="3.1" fill="#ffcc99"/>
<rect x="167.6" y="126.1" width="6.9" height="3.1" fill="#ffca94"/>
<rect x="167.6" y="124.0" width="6.9" height="2.5" fill="#ffc68c"/>
</g>
<defs><clipPath id="cpa"><rect x="38.2" y="5.8" width="136.0" height="114.0"/></clipPath><clipPath id="cpb"><rect x="38.2" y="123.95" width="136.0" height="114.4"/></clipPath><clipPath id="cpc"><rect x="228.4" y="5.8" width="135.5" height="114.2"/></clipPath><clipPath id="cpd"><rect x="228.4" y="123.9" width="135.5" height="114.4"/></clipPath><clipPath id="cpe"><rect x="371.3" y="5.8" width="135.3" height="114.2"/></clipPath><clipPath id="cpf"><rect x="371.3" y="123.9" width="135.3" height="114.4"/></clipPath><clipPath id="cpg"><rect x="532.7" y="5.8" width="135.2" height="113.9"/></clipPath><clipPath id="cph"><rect x="532.7" y="123.9" width="135.2" height="114.5"/></clipPath></defs>
<polyline clip-path="url(#cpc)" points="228.6,118.3 230.5,118.6 232.0,118.1 233.5,118.5 235.0,118.0 236.5,118.4 238.0,117.9 239.5,118.1 240.5,117.9 242.4,117.2 243.1,116.1 243.8,115.3 244.0,114.0 244.2,112.6 244.4,111.3 244.4,110.2 244.4,109.1 244.4,108.0 244.4,106.8 244.5,105.7 244.5,104.6 244.5,103.5 244.5,102.4 244.5,101.3 244.5,100.1 244.5,99.0 244.5,97.9 244.5,96.8 244.6,95.7 244.6,94.6 244.6,93.5 244.6,92.3 244.6,91.2 244.6,90.1 244.6,89.0 244.6,87.9 244.6,86.8 244.7,85.7 244.7,84.5 244.7,83.4 244.7,82.3 244.7,81.2 244.7,80.1 244.7,79.0 244.7,77.8 244.7,76.7 244.7,75.6 244.8,74.5 244.8,73.4 244.8,72.3 244.8,71.2 244.8,70.0 244.8,68.9 244.8,67.8 244.8,66.7 244.8,65.6 244.9,64.5 244.9,63.3 244.9,62.2 244.9,61.1 244.9,60.0 244.9,58.9 244.9,57.8 244.9,56.7 244.9,55.6 244.9,54.5 244.9,53.4 245.0,52.3 245.0,51.2 245.0,50.1 245.0,49.0 245.0,47.9 245.0,46.8 245.0,45.7 245.0,44.6 245.0,43.5 245.0,42.4 245.0,41.3 245.0,40.2 245.1,39.1 245.1,38.0 245.1,36.9 245.1,35.8 245.1,34.7 245.1,33.6 245.1,32.5 245.1,31.4 245.1,30.3 245.1,29.2 245.1,28.1 245.1,27.0 245.1,25.9 245.2,24.8 245.2,23.7 245.2,22.6 245.2,21.5 245.2,20.4 245.2,19.3 245.2,18.2 245.2,17.1 245.2,16.0 245.2,14.9 245.2,13.8 245.2,12.7 245.3,11.6 245.3,10.5 245.3,9.4 245.3,8.3 245.3,7.2 245.3,6.1 245.3,5.0" fill="none" stroke="#000" stroke-width="1.45" stroke-linejoin="round"/>
<polyline clip-path="url(#cpc)" points="247.1,5.0 247.2,6.2 247.3,7.3 247.4,8.5 247.5,9.6 247.6,10.8 247.7,11.9 247.7,13.1 247.8,14.2 247.9,15.4 248.0,16.5 248.1,17.7 248.2,18.8 248.3,20.0 248.4,21.1 248.5,22.3 248.7,23.4 248.8,24.6 248.9,25.8 249.0,26.9 249.1,28.0 249.3,29.2 249.4,30.4 249.5,31.5 250.2,32.2 250.9,33.5 250.4,34.9 249.9,36.0 251.4,37.5 251.1,38.4 250.8,40.0 251.6,41.5 251.7,42.7 251.8,43.9 251.8,45.0 251.9,46.2 252.0,47.4 252.1,48.5 252.1,49.7 252.2,50.9 252.3,52.1 252.3,53.2 252.4,54.4 252.5,55.6 252.6,56.8 252.6,58.0 252.7,59.1 252.8,60.3 252.8,61.5 252.9,62.6 252.9,63.8 253.0,65.0 253.1,66.1 253.2,67.3 253.3,68.4 253.5,69.6 253.6,70.7 253.7,71.9 253.8,73.0 254.0,74.3 254.2,75.6 254.5,76.8 254.7,78.1 254.9,79.4 255.2,80.5 255.6,81.4 255.9,82.6 257.5,83.9 259.1,82.6 259.6,81.0 260.2,80.2 261.8,80.5 263.4,79.1 264.6,79.7 265.2,81.2 265.8,82.6 266.2,83.3 266.7,84.7 267.1,85.8 267.6,86.4 268.2,87.4 268.7,88.7 269.3,89.7 270.0,91.1 270.6,91.9 271.9,93.0 273.5,91.9 274.3,90.5 275.1,89.8 275.5,90.6 275.9,92.0 276.3,93.0 276.7,94.6 277.1,95.5 277.5,96.6 277.9,97.9 278.7,99.7 279.5,100.6 280.5,101.2 281.5,102.7 282.5,104.2 283.5,105.1 284.4,106.0 285.3,107.3 286.7,105.9 287.6,104.4 288.6,103.5 289.6,102.2 290.7,101.5 292.3,101.1 292.6,99.9 292.9,98.7 293.1,97.5 293.4,96.3 293.9,94.7 294.5,93.5 295.4,93.1 296.4,92.1 297.1,90.8 297.8,90.0 298.5,88.6 299.2,87.1 299.9,88.3 300.7,89.2 301.8,90.2 302.8,91.4 303.9,92.5 304.9,93.5 305.5,91.9 306.2,90.8 306.8,90.0 308.5,90.7 309.6,91.5 310.6,92.8 311.7,93.3 312.8,93.5 313.3,94.5 313.9,95.5 314.4,96.8 314.9,97.8 315.9,98.8 316.8,99.9 318.5,99.9 319.6,100.1 320.6,100.6 321.3,102.1 322.0,103.2 322.7,104.2 323.8,104.7 324.9,105.6 326.3,105.5 327.7,105.3 328.8,105.2 329.9,105.0 331.1,105.9 332.4,106.1 333.6,106.7 334.9,106.7 336.1,107.3 337.3,108.1 338.6,107.6 339.8,108.3 341.1,108.7 342.3,109.5 343.6,109.8 344.8,110.0 346.1,110.8 347.3,111.3 348.5,111.2 349.8,112.1 351.0,112.3 352.3,112.8 353.5,112.8 354.8,113.0 356.0,113.6 357.3,113.4 358.5,113.8 359.8,114.1 361.0,114.2 362.3,114.3 363.9,114.5" fill="none" stroke="#000" stroke-width="1.45" stroke-linejoin="round"/>
<polyline clip-path="url(#cpd)" points="228.6,236.6 230.5,236.8 232.0,236.4 234.0,236.7 236.0,236.3 238.0,236.5 239.2,236.4 240.5,236.2 241.9,235.7 243.3,234.4 243.6,233.3 243.8,232.1 244.1,231.0 244.1,229.9 244.1,228.8 244.2,227.7 244.2,226.6 244.2,225.5 244.2,224.4 244.2,223.2 244.2,222.1 244.3,221.0 244.3,219.9 244.3,218.8 244.3,217.7 244.3,216.6 244.3,215.5 244.4,214.4 244.4,213.3 244.4,212.2 244.4,211.1 244.4,210.0 244.5,208.9 244.5,207.8 244.5,206.6 244.5,205.5 244.5,204.4 244.5,203.3 244.6,202.2 244.6,201.1 244.6,200.0 244.6,198.9 244.6,197.8 244.6,196.7 244.6,195.6 244.6,194.5 244.7,193.4 244.7,192.3 244.7,191.2 244.7,190.1 244.7,189.0 244.7,187.9 244.7,186.8 244.7,185.7 244.7,184.6 244.7,183.5 244.7,182.4 244.7,181.3 244.8,180.2 244.8,179.1 244.8,178.0 244.8,176.9 244.8,175.8 244.8,174.7 244.8,173.6 244.8,172.5 244.8,171.4 244.8,170.3 244.8,169.2 244.8,168.1 244.9,167.0 244.9,165.9 244.9,164.8 244.9,163.7 244.9,162.6 244.9,161.5 244.9,160.4 244.9,159.3 244.9,158.2 244.9,157.1 244.9,156.0 245.0,154.9 245.0,153.8 245.0,152.7 245.0,151.6 245.0,150.5 245.0,149.4 245.0,148.3 245.0,147.2 245.0,146.1 245.0,145.0 245.0,143.9 245.0,142.8 245.1,141.7 245.1,140.6 245.1,139.5 245.1,138.4 245.1,137.3 245.1,136.2 245.1,135.1 245.1,134.0 245.1,132.9 245.1,131.8 245.1,130.7 245.1,129.6 245.2,128.5 245.2,127.4 245.2,126.3 245.2,125.2 245.2,124.1 245.2,123.0" fill="none" stroke="#000" stroke-width="1.45" stroke-linejoin="round"/>
<polyline clip-path="url(#cpd)" points="249.3,123.0 249.4,124.2 249.6,125.4 249.7,126.6 249.8,127.8 249.9,129.1 250.1,130.3 250.2,131.5 250.3,132.7 250.4,133.9 250.6,135.1 250.7,136.3 250.8,137.5 251.9,139.0 251.0,141.0 252.0,142.5 252.0,143.7 252.0,144.8 252.0,145.9 252.0,147.1 252.1,148.2 252.1,149.4 252.1,150.6 252.1,151.7 252.1,152.8 252.1,154.0 252.2,155.1 252.3,156.2 252.4,157.4 252.4,158.5 252.5,159.6 252.6,160.8 252.7,161.9 252.8,163.0 252.9,164.2 253.0,165.3 253.1,166.5 253.1,167.7 253.2,168.8 253.3,170.0 253.3,171.1 253.4,172.2 253.4,173.4 253.5,174.5 253.5,175.6 253.6,176.8 253.6,177.9 253.6,179.0 253.7,180.1 253.7,181.2 253.8,182.4 253.8,183.5 253.9,184.7 254.0,185.8 254.2,186.9 254.3,188.1 254.4,189.2 254.5,190.4 254.6,191.6 254.7,192.7 254.8,193.9 255.0,195.0 255.1,196.2 255.2,197.3 255.3,198.4 255.5,199.5 255.6,200.6 255.8,201.7 255.9,202.8 256.1,203.9 256.2,205.0 256.4,206.1 257.2,207.5 257.5,206.2 257.8,204.8 258.0,203.5 258.3,202.2 258.5,201.1 258.6,200.0 258.8,198.9 259.0,197.8 259.2,196.6 259.4,195.5 259.5,194.4 259.7,193.3 259.9,192.2 260.1,191.1 260.3,190.0 260.5,188.8 260.7,187.7 260.9,186.6 261.1,185.5 262.3,184.5 263.6,185.5 264.6,184.5 265.1,185.8 265.7,187.4 266.2,188.4 266.7,190.0 267.1,190.8 267.6,192.2 268.1,193.3 268.6,194.1 269.1,195.9 269.6,197.1 270.1,198.2 270.6,199.6 271.0,200.5 271.5,201.2 272.1,200.0 272.8,199.2 274.4,198.2 274.8,199.2 275.2,200.6 275.6,201.5 275.9,202.2 276.2,203.7 276.5,204.6 276.8,206.0 277.1,207.2 277.4,208.4 277.6,209.6 277.9,210.8 278.2,212.0 278.6,212.7 278.9,213.7 279.2,215.4 279.6,215.9 279.9,217.1 280.3,218.4 280.9,219.4 281.4,220.8 281.9,221.2 282.5,222.6 283.3,223.4 284.2,224.4 285.0,225.2 285.8,224.3 286.6,223.1 287.4,221.6 287.9,220.7 288.4,219.0 288.9,218.0 291.0,218.4 291.7,217.3 292.4,216.1 293.1,215.2 293.7,214.5 294.2,213.5 294.8,211.7 295.3,210.9 295.8,209.6 296.4,208.6 296.9,207.5 297.4,206.7 298.1,205.5 298.8,204.3 299.5,203.0 300.2,201.7 301.0,200.9 301.4,201.6 301.9,203.2 302.3,204.3 302.7,205.6 303.8,206.5 304.9,207.3 305.9,208.5 307.0,208.8 309.1,208.8 309.8,210.0 310.5,210.9 311.2,212.0 311.9,213.2 312.7,214.3 313.4,215.2 313.9,215.8 314.4,217.7 315.0,218.6 315.5,219.4 316.6,220.8 317.6,221.6 318.7,222.4 319.8,222.6 320.9,223.4 321.9,224.3 323.0,224.5 324.0,224.5 325.1,225.2 326.7,225.3 328.3,225.2 329.7,224.8 330.9,223.9 332.2,223.8 333.4,224.1 334.7,225.1 335.9,225.5 337.2,226.4 338.3,225.7 339.4,225.6 340.4,226.5 341.4,227.6 342.5,227.8 343.7,228.3 344.8,229.3 345.9,229.3 347.0,229.5 348.1,230.1 349.2,230.3 350.3,230.3 351.4,231.0 352.7,231.9 354.0,232.1 355.1,232.2 356.2,231.8 357.3,232.1 358.4,231.9 359.5,232.1 360.6,232.3 362.3,231.5 363.9,231.8" fill="none" stroke="#000" stroke-width="1.45" stroke-linejoin="round"/>
<polyline clip-path="url(#cpe)" points="371.3,119.2 376.6,117.9 381.0,115.2 383.3,111.9 385.0,104.2 386.1,93.1 387.0,77.7 387.7,64.4 388.1,60.0 389.0,5.0" fill="none" stroke="#000" stroke-width="1.4" stroke-linejoin="round"/>
<polyline clip-path="url(#cpe)" points="391.6,5.0 392.5,60.0 393.3,73.3 394.3,88.7 395.4,99.8 397.0,105.3 398.7,106.4 400.5,103.1 402.0,90.9 403.1,82.1 403.8,80.3 404.7,84.3 405.8,93.1 407.1,100.9 408.7,103.1 410.4,100.9 412.0,97.6 413.1,99.8 414.6,105.3 416.4,109.7 418.2,112.0 419.7,109.0 420.6,109.5 421.8,115.5 423.0,118.3 424.4,119.2 442.1,119.2 444.3,117.0 446.1,113.0 447.2,111.2 448.7,113.5 449.8,111.9 452.0,105.3 454.2,97.6 455.8,93.1 457.1,92.0 458.7,93.6 460.2,99.8 462.0,109.7 463.7,116.3 466.4,118.8 475.0,119.2 487.0,119.1 488.1,117.8 490.0,113.5 491.9,109.8 492.8,108.9 493.7,109.8 495.6,114.4 497.4,118.1 499.3,119.0 506.6,119.1" fill="none" stroke="#000" stroke-width="1.4" stroke-linejoin="round"/>
<polyline clip-path="url(#cpf)" points="371.4,236.9 378.5,234.9 382.8,231.2 385.7,224.1 387.1,211.3 387.9,194.2 388.8,174.2 389.4,160.0 390.0,123.0" fill="none" stroke="#000" stroke-width="1.4" stroke-linejoin="round"/>
<polyline clip-path="url(#cpf)" points="391.3,123.0 391.7,160.0 392.8,182.8 394.2,202.7 396.2,217.0 398.5,225.0 399.9,226.1 401.3,222.7 402.8,202.7 403.9,182.8 404.8,176.5 405.9,182.8 407.0,202.7 408.5,218.4 409.9,227.0 411.6,227.8 413.3,224.1 415.0,218.4 416.4,221.3 417.9,229.8 419.9,235.5 422.2,236.6 426.0,237.2 436.4,237.2 438.7,235.9 440.2,234.4 441.7,235.9 443.2,233.6 445.1,231.4 446.2,232.6 447.2,235.9 448.4,236.6 449.9,235.6 452.1,233.6 454.4,232.1 456.6,231.4 458.9,232.1 461.1,234.7 463.3,237.1 464.8,237.3 490.3,237.3 491.7,236.3 493.2,235.6 494.7,236.3 496.5,237.3 506.6,237.3" fill="none" stroke="#000" stroke-width="1.4" stroke-linejoin="round"/>
<polyline clip-path="url(#cpg)" points="532.9,118.6 534.8,118.3 536.8,118.0 538.7,118.1 540.5,117.4 542.2,116.3 543.7,114.9 545.1,112.8 545.7,111.0 546.3,109.1 546.9,107.0 547.5,105.5 547.8,103.6 548.1,101.6 548.4,99.7 548.6,97.8 548.9,95.8 549.2,93.9 549.4,91.9 549.7,89.9 549.9,87.9 550.1,85.9 550.3,83.9 550.5,81.9 550.8,79.9 551.0,77.9 551.2,76.1 551.4,74.2 551.6,72.4 551.9,70.6 552.1,68.8 552.3,67.0 552.5,65.1 552.7,63.3 553.4,61.1 554.1,59.3 554.8,57.5 556.8,59.8 557.6,61.6 558.3,63.9 559.1,65.6 560.3,63.5 561.5,61.8 562.0,60.0 562.5,58.2 563.0,56.4 563.5,54.6 565.5,51.7 567.3,54.0 567.8,56.0 568.3,57.9 568.8,59.8 569.3,61.8 569.7,63.8 570.1,65.9 570.6,67.9 571.0,70.0 571.4,72.0 571.9,74.0 572.3,76.1 572.8,78.1 573.2,80.2 573.7,82.2 574.5,83.5 575.2,85.8 576.0,87.2 577.8,88.4 579.5,89.5 581.6,90.2 583.7,91.3 585.5,91.6 587.4,91.9 590.2,92.2 593.0,90.4 595.7,89.1 598.5,89.4 599.9,90.3 601.3,91.9 604.1,94.1 605.5,95.8 606.9,97.4 608.2,99.0 609.6,100.0 611.5,101.5 613.3,102.4 615.1,103.0 617.0,103.3 618.9,103.7 620.7,104.4 622.5,104.7 624.4,105.2 626.2,105.4 628.1,106.1 630.0,106.6 631.9,106.7 633.8,106.7 635.6,106.7 637.5,107.0 639.3,107.0 641.1,106.9 643.0,107.0 644.9,106.8 646.7,107.0 648.5,107.1 650.4,106.7 652.2,106.9 654.1,106.5 656.0,106.8 657.8,106.7 659.6,106.4 661.5,105.7 663.4,106.1 665.2,106.1 667.9,106.1" fill="none" stroke="#000" stroke-width="1.4" stroke-linejoin="round"/>
<polyline clip-path="url(#cph)" points="533.0,237.3 535.5,237.4 538.1,237.1 540.2,236.4 542.2,236.1 544.6,234.7 545.6,233.2 546.6,231.7 547.2,229.7 547.7,227.6 548.3,225.6 548.5,223.6 548.8,221.5 549.0,219.5 549.3,217.4 549.5,215.4 549.7,213.4 549.8,211.4 550.0,209.3 550.1,207.3 550.3,205.3 550.5,203.3 550.6,201.2 550.8,199.2 551.0,197.2 551.1,195.1 551.3,193.1 551.5,190.8 551.6,188.4 551.8,186.1 552.1,184.1 552.4,182.0 552.7,180.0 553.0,177.9 553.3,175.9 554.0,173.6 554.8,171.5 556.8,173.0 558.5,170.9 558.9,169.1 559.2,167.2 559.5,165.4 559.9,163.6 560.2,161.7 560.6,159.9 560.9,158.1 561.1,156.2 561.4,154.4 561.6,152.6 561.9,150.8 562.1,149.0 562.4,147.1 562.6,145.3 563.0,143.3 563.3,141.2 563.7,139.2 564.0,137.1 564.4,135.1 565.4,132.6 566.4,130.7 567.5,132.6 568.5,135.1 568.8,137.1 569.1,139.1 569.4,141.1 569.6,143.1 569.9,145.1 570.2,147.1 570.5,149.1 570.8,151.1 571.1,153.0 571.3,155.0 571.6,156.9 571.8,158.9 572.1,160.8 572.3,162.8 572.6,164.7 572.8,166.7 573.1,168.6 573.4,170.4 573.7,172.3 574.0,174.1 574.4,176.0 574.7,177.8 575.0,179.7 575.3,181.5 575.9,183.1 576.5,184.8 577.1,186.9 577.7,188.5 579.2,190.8 580.7,192.5 582.2,193.8 583.8,195.1 585.3,196.7 586.8,197.6 588.3,199.5 589.8,200.8 591.1,203.0 592.4,204.6 595.1,204.7 598.1,203.7 600.2,204.9 602.2,207.7 603.2,209.2 604.2,210.6 605.2,212.4 606.8,214.3 608.3,216.5 610.3,217.8 612.3,219.5 614.3,220.5 616.4,222.0 618.5,222.9 620.5,223.6 623.0,224.7 625.5,225.2 628.0,226.1 630.6,226.6 632.7,227.1 634.7,227.6 637.7,228.0 639.8,227.9 641.8,227.6 643.8,227.6 645.8,227.2 648.3,226.1 650.9,225.6 652.9,225.2 655.0,224.8 657.0,224.0 659.0,223.7 661.1,223.2 663.1,222.6 665.5,222.3 667.9,222.0" fill="none" stroke="#000" stroke-width="1.4" stroke-linejoin="round"/>
<rect x="38.2" y="5.8" width="136.0" height="114.0" fill="none" stroke="#000" stroke-width="1.6"/>
<rect x="38.2" y="123.95" width="136.0" height="114.4" fill="none" stroke="#000" stroke-width="1.6"/>
<rect x="228.4" y="5.8" width="135.5" height="114.2" fill="none" stroke="#000" stroke-width="1.6"/>
<rect x="228.4" y="123.9" width="135.5" height="114.4" fill="none" stroke="#000" stroke-width="1.6"/>
<rect x="371.3" y="5.8" width="135.3" height="114.2" fill="none" stroke="#000" stroke-width="1.6"/>
<rect x="371.3" y="123.9" width="135.3" height="114.4" fill="none" stroke="#000" stroke-width="1.6"/>
<rect x="532.7" y="5.8" width="135.2" height="113.9" fill="none" stroke="#000" stroke-width="1.6"/>
<rect x="532.7" y="123.9" width="135.2" height="114.5" fill="none" stroke="#000" stroke-width="1.6"/>
<line x1="38.2" y1="117.2" x2="43.2" y2="117.2" stroke="#000" stroke-width="1.4"/>
<line x1="38.2" y1="89.1" x2="43.2" y2="89.1" stroke="#000" stroke-width="1.4"/>
<line x1="38.2" y1="61.0" x2="43.2" y2="61.0" stroke="#000" stroke-width="1.4"/>
<line x1="38.2" y1="32.89999999999999" x2="43.2" y2="32.89999999999999" stroke="#000" stroke-width="1.4"/>
<line x1="55.8" y1="119.8" x2="55.8" y2="114.8" stroke="#000" stroke-width="1.4"/>
<line x1="90.8" y1="119.8" x2="90.8" y2="114.8" stroke="#000" stroke-width="1.4"/>
<line x1="125.8" y1="119.8" x2="125.8" y2="114.8" stroke="#000" stroke-width="1.4"/>
<line x1="160.8" y1="119.8" x2="160.8" y2="114.8" stroke="#000" stroke-width="1.4"/>
<line x1="38.2" y1="235.7" x2="43.2" y2="235.7" stroke="#000" stroke-width="1.4"/>
<line x1="38.2" y1="207.6" x2="43.2" y2="207.6" stroke="#000" stroke-width="1.4"/>
<line x1="38.2" y1="179.5" x2="43.2" y2="179.5" stroke="#000" stroke-width="1.4"/>
<line x1="38.2" y1="151.39999999999998" x2="43.2" y2="151.39999999999998" stroke="#000" stroke-width="1.4"/>
<line x1="55.8" y1="238.3" x2="55.8" y2="233.3" stroke="#000" stroke-width="1.4"/>
<line x1="90.8" y1="238.3" x2="90.8" y2="233.3" stroke="#000" stroke-width="1.4"/>
<line x1="125.8" y1="238.3" x2="125.8" y2="233.3" stroke="#000" stroke-width="1.4"/>
<line x1="160.8" y1="238.3" x2="160.8" y2="233.3" stroke="#000" stroke-width="1.4"/>
<line x1="245.9" y1="120.0" x2="245.9" y2="115.0" stroke="#000" stroke-width="1.4"/>
<line x1="275.3" y1="120.0" x2="275.3" y2="115.0" stroke="#000" stroke-width="1.4"/>
<line x1="304.7" y1="120.0" x2="304.7" y2="115.0" stroke="#000" stroke-width="1.4"/>
<line x1="334.1" y1="120.0" x2="334.1" y2="115.0" stroke="#000" stroke-width="1.4"/>
<line x1="363.5" y1="120.0" x2="363.5" y2="115.0" stroke="#000" stroke-width="1.4"/>
<line x1="245.9" y1="238.3" x2="245.9" y2="233.3" stroke="#000" stroke-width="1.4"/>
<line x1="275.3" y1="238.3" x2="275.3" y2="233.3" stroke="#000" stroke-width="1.4"/>
<line x1="304.7" y1="238.3" x2="304.7" y2="233.3" stroke="#000" stroke-width="1.4"/>
<line x1="334.1" y1="238.3" x2="334.1" y2="233.3" stroke="#000" stroke-width="1.4"/>
<line x1="363.5" y1="238.3" x2="363.5" y2="233.3" stroke="#000" stroke-width="1.4"/>
<line x1="388.5" y1="120.0" x2="388.5" y2="115.0" stroke="#000" stroke-width="1.4"/>
<line x1="418.0" y1="120.0" x2="418.0" y2="115.0" stroke="#000" stroke-width="1.4"/>
<line x1="447.5" y1="120.0" x2="447.5" y2="115.0" stroke="#000" stroke-width="1.4"/>
<line x1="477.0" y1="120.0" x2="477.0" y2="115.0" stroke="#000" stroke-width="1.4"/>
<line x1="506.5" y1="120.0" x2="506.5" y2="115.0" stroke="#000" stroke-width="1.4"/>
<line x1="388.5" y1="238.3" x2="388.5" y2="233.3" stroke="#000" stroke-width="1.4"/>
<line x1="418.0" y1="238.3" x2="418.0" y2="233.3" stroke="#000" stroke-width="1.4"/>
<line x1="447.5" y1="238.3" x2="447.5" y2="233.3" stroke="#000" stroke-width="1.4"/>
<line x1="477.0" y1="238.3" x2="477.0" y2="233.3" stroke="#000" stroke-width="1.4"/>
<line x1="506.5" y1="238.3" x2="506.5" y2="233.3" stroke="#000" stroke-width="1.4"/>
<line x1="228.4" y1="62.6" x2="233.4" y2="62.6" stroke="#000" stroke-width="1.4"/>
<line x1="228.4" y1="181.1" x2="233.4" y2="181.1" stroke="#000" stroke-width="1.4"/>
<line x1="371.3" y1="62.6" x2="376.3" y2="62.6" stroke="#000" stroke-width="1.4"/>
<line x1="371.3" y1="181.1" x2="376.3" y2="181.1" stroke="#000" stroke-width="1.4"/>
<line x1="532.7" y1="79.5" x2="537.7" y2="79.5" stroke="#000" stroke-width="1.4"/>
<line x1="532.7" y1="39.7" x2="537.7" y2="39.7" stroke="#000" stroke-width="1.4"/>
<line x1="555.4" y1="119.7" x2="555.4" y2="114.7" stroke="#000" stroke-width="1.4"/>
<line x1="611.65" y1="119.7" x2="611.65" y2="114.7" stroke="#000" stroke-width="1.4"/>
<line x1="532.7" y1="198.10000000000002" x2="537.7" y2="198.10000000000002" stroke="#000" stroke-width="1.4"/>
<line x1="532.7" y1="158.3" x2="537.7" y2="158.3" stroke="#000" stroke-width="1.4"/>
<line x1="555.4" y1="238.4" x2="555.4" y2="233.4" stroke="#000" stroke-width="1.4"/>
<line x1="611.65" y1="238.4" x2="611.65" y2="233.4" stroke="#000" stroke-width="1.4"/>
<rect x="583.9" y="9.0" width="78.9" height="62.3" fill="#fff" stroke="#000" stroke-width="1.6"/>
<line x1="600.9" y1="13.0" x2="600.9" y2="70.3" stroke="#555" stroke-width="1.4" stroke-dasharray="3.4,3.2" stroke-dashoffset="2.2"/>
<polyline points="583.9,63.2 586.0,61.5 588.0,60.0 590.0,56.5 591.4,53.6 592.8,48.0 594.1,42.2 595.6,34.5 597.1,26.2 598.6,18.5 600.2,12.0 601.2,13.5 602.4,15.2 603.9,17.6 605.4,23.0 607.0,28.8 609.4,35.5 611.9,41.6 614.2,46.8 616.7,51.2 619.8,55.3 623.1,58.6 627.0,60.9 631.1,62.5 635.0,63.2 639.1,63.5 643.0,63.5 648.7,63.1 652.0,62.2 655.2,60.9 658.5,58.7 662.8,55.7" fill="none" stroke="#000" stroke-width="1.5" stroke-linejoin="round"/>
<text x="601.3" y="81.1" font-size="9.6" text-anchor="middle" font-weight="normal" font-style="normal" >0</text>
<text x="622.9" y="17.0" font-size="9.6" text-anchor="start" font-weight="normal" font-style="italic" letter-spacing="0.25">Sim.</text>
<rect x="583.9" y="127.3" width="78.9" height="62.3" fill="#fff" stroke="#000" stroke-width="1.6"/>
<line x1="600.9" y1="131.3" x2="600.9" y2="188.6" stroke="#555" stroke-width="1.4" stroke-dasharray="3.4,3.2" stroke-dashoffset="2.2"/>
<polyline points="583.9,181.3 586.0,179.6 588.0,178.1 590.0,174.6 591.4,171.7 592.8,166.1 594.1,160.3 595.6,152.6 597.1,144.3 598.6,136.6 600.2,130.1 601.2,131.6 602.4,134.6 604.2,140.1 608.5,152.9 612.8,162.9 617.0,170.0 622.7,175.7 629.8,179.4 637.0,181.4 645.5,182.8 650.6,181.4 656.3,177.1 662.8,170.8" fill="none" stroke="#000" stroke-width="1.5" stroke-linejoin="round"/>
<text x="601.3" y="199.4" font-size="9.6" text-anchor="middle" font-weight="normal" font-style="normal" >0</text>
<text x="622.9" y="135.3" font-size="9.6" text-anchor="start" font-weight="normal" font-style="italic" letter-spacing="0.25">Sim.</text>
<text transform="translate(33.20,123.50) scale(1.075,1)" font-size="15" text-anchor="end">0</text>
<text transform="translate(33.20,95.40) scale(1.075,1)" font-size="15" text-anchor="end">1</text>
<text transform="translate(33.20,67.30) scale(1.075,1)" font-size="15" text-anchor="end">2</text>
<text transform="translate(33.20,39.20) scale(1.075,1)" font-size="15" text-anchor="end">3</text>
<text transform="translate(33.20,242.00) scale(1.075,1)" font-size="15" text-anchor="end">0</text>
<text transform="translate(33.20,213.90) scale(1.075,1)" font-size="15" text-anchor="end">1</text>
<text transform="translate(33.20,185.80) scale(1.075,1)" font-size="15" text-anchor="end">2</text>
<text transform="translate(33.20,157.70) scale(1.075,1)" font-size="15" text-anchor="end">3</text>
<text transform="translate(55.80,256.50) scale(1.075,1)" font-size="15" text-anchor="middle">775</text>
<text transform="translate(90.80,256.50) scale(1.075,1)" font-size="15" text-anchor="middle">776</text>
<text transform="translate(125.80,256.50) scale(1.075,1)" font-size="15" text-anchor="middle">777</text>
<text transform="translate(160.80,256.50) scale(1.075,1)" font-size="15" text-anchor="middle">778</text>
<text transform="translate(221.40,12.10) scale(1.075,1)" font-size="15" text-anchor="end">2</text>
<text transform="translate(221.40,68.90) scale(1.075,1)" font-size="15" text-anchor="end">1</text>
<text transform="translate(221.40,125.70) scale(1.075,1)" font-size="15" text-anchor="end">0</text>
<text transform="translate(221.40,187.40) scale(1.075,1)" font-size="15" text-anchor="end">1</text>
<text transform="translate(221.40,244.10) scale(1.075,1)" font-size="15" text-anchor="end">0</text>
<text transform="translate(245.90,256.50) scale(1.075,1)" font-size="15" text-anchor="middle">0</text>
<text transform="translate(388.50,256.50) scale(1.075,1)" font-size="15" text-anchor="middle">0</text>
<text transform="translate(275.30,256.50) scale(1.075,1)" font-size="15" text-anchor="middle">1</text>
<text transform="translate(418.00,256.50) scale(1.075,1)" font-size="15" text-anchor="middle">1</text>
<text transform="translate(304.70,256.50) scale(1.075,1)" font-size="15" text-anchor="middle">2</text>
<text transform="translate(447.50,256.50) scale(1.075,1)" font-size="15" text-anchor="middle">2</text>
<text transform="translate(334.10,256.50) scale(1.075,1)" font-size="15" text-anchor="middle">3</text>
<text transform="translate(477.00,256.50) scale(1.075,1)" font-size="15" text-anchor="middle">3</text>
<text transform="translate(363.50,256.50) scale(1.075,1)" font-size="15" text-anchor="middle">4</text>
<text transform="translate(506.50,256.50) scale(1.075,1)" font-size="15" text-anchor="middle">4</text>
<text transform="translate(526.80,125.60) scale(1.075,1)" font-size="15" text-anchor="end">0</text>
<text transform="translate(526.80,85.80) scale(1.075,1)" font-size="15" text-anchor="end">2</text>
<text transform="translate(526.80,46.00) scale(1.075,1)" font-size="15" text-anchor="end">4</text>
<text transform="translate(526.80,244.20) scale(1.075,1)" font-size="15" text-anchor="end">0</text>
<text transform="translate(526.80,204.40) scale(1.075,1)" font-size="15" text-anchor="end">2</text>
<text transform="translate(526.80,164.60) scale(1.075,1)" font-size="15" text-anchor="end">4</text>
<text transform="translate(555.40,256.50) scale(1.075,1)" font-size="15" text-anchor="middle">0.00</text>
<text transform="translate(611.65,256.50) scale(1.075,1)" font-size="15" text-anchor="middle">0.25</text>
<text transform="translate(667.90,256.50) scale(1.075,1)" font-size="15" text-anchor="middle">0.50</text>
<text x="296.0" y="277.8" font-size="16" text-anchor="middle"><tspan font-style="italic">ω</tspan> (eV)</text>
<text x="438.5" y="277.8" font-size="16" text-anchor="middle"><tspan font-style="italic">ω</tspan> (eV)</text>
<text x="599.8" y="277.8" font-size="16" text-anchor="middle"><tspan font-style="italic">ω</tspan> (eV)</text>
<text x="105.8" y="277.7" font-size="16" text-anchor="middle" letter-spacing="0.15">Ω<tspan font-size="11" dy="3.8">i</tspan><tspan dy="-3.8"> (eV)</tspan></text>
<text transform="translate(13.6,62.5) rotate(-90)" font-size="16" text-anchor="middle"><tspan font-style="italic">ω</tspan> (eV)</text>
<text transform="translate(13.6,181.2) rotate(-90)" font-size="16" text-anchor="middle"><tspan font-style="italic">ω</tspan> (eV)</text>
<text transform="translate(202.8,62.5) rotate(-90)" font-size="16" text-anchor="middle">RIXS (a. u.)</text>
<text transform="translate(202.8,181.2) rotate(-90)" font-size="16" text-anchor="middle">RIXS (a. u.)</text>
<text transform="translate(41.10,20.10) scale(1.08,1)" font-size="15.2" font-weight="bold">a</text>
<text transform="translate(41.10,138.25) scale(1.08,1)" font-size="15.2" font-weight="bold">b</text>
<text transform="translate(231.30,20.10) scale(1.08,1)" font-size="15.2" font-weight="bold">c</text>
<text transform="translate(231.30,138.20) scale(1.08,1)" font-size="15.2" font-weight="bold">d</text>
<text transform="translate(374.20,20.10) scale(1.08,1)" font-size="15.2" font-weight="bold">e</text>
<text transform="translate(374.20,138.20) scale(1.08,1)" font-size="15.2" font-weight="bold">f</text>
<text transform="translate(535.60,20.10) scale(1.08,1)" font-size="15.2" font-weight="bold">g</text>
<text transform="translate(535.60,138.20) scale(1.08,1)" font-size="15.2" font-weight="bold">h</text>
<text x="166.5" y="19.9" font-size="13.0" text-anchor="end">exp. <tspan font-style="italic">σ</tspan></text>
<text x="166.5" y="138.0" font-size="13.0" text-anchor="end">exp. <tspan font-style="italic">π</tspan></text>
<text x="356.3" y="19.9" font-size="13.0" text-anchor="end">exp. <tspan font-style="italic">σ</tspan></text>
<text x="356.3" y="138.0" font-size="13.0" text-anchor="end">exp. <tspan font-style="italic">π</tspan></text>
<text x="498.5" y="19.9" font-size="13.0" text-anchor="end">sim. <tspan font-style="italic">σ</tspan></text>
<text x="498.5" y="138.0" font-size="13.0" text-anchor="end">sim. <tspan font-style="italic">π</tspan></text>
<text transform="translate(258.6,71.7) scale(1.09,1)" font-size="12.5" font-style="italic">dd</text>
<text transform="translate(295.1,77.8) scale(1.09,1)" font-size="12.5" font-style="italic">dd</text>
<text transform="translate(259.3,176.3) scale(1.09,1)" font-size="12.5" font-style="italic">dd</text>
<text transform="translate(295.6,190.5) scale(1.09,1)" font-size="12.5" font-style="italic">dd</text>
<defs><linearGradient id="cbg" x1="0" y1="1" x2="0" y2="0">
<stop offset="0.00" stop-color="#ffffff"/>
<stop offset="0.10" stop-color="#ffcc99"/>
<stop offset="0.20" stop-color="#ff9933"/>
<stop offset="0.30" stop-color="#ff6600"/>
<stop offset="0.40" stop-color="#e53300"/>
<stop offset="0.50" stop-color="#bf0000"/>
<stop offset="0.60" stop-color="#990000"/>
<stop offset="0.70" stop-color="#730000"/>
<stop offset="0.80" stop-color="#4c0000"/>
<stop offset="0.90" stop-color="#260000"/>
<stop offset="1.00" stop-color="#000000"/>
</linearGradient></defs>
<rect x="53.2" y="38.9" width="9.6" height="1.8" fill="#fffaf6"/>
<rect x="53.4" y="41.2" width="9.2" height="40.2" fill="url(#cbg)" stroke="#000" stroke-width="1.3"/>
<text x="65.2" y="47.2" font-size="9.6">2.5</text>
<text x="65.2" y="84.0" font-size="9.6">0.0</text>
<rect x="52.9" y="159.9" width="9.2" height="39.6" fill="url(#cbg)" stroke="#000" stroke-width="1.3"/>
<text x="65.2" y="163.0" font-size="9.6">2.5</text>
<text x="65.2" y="203.7" font-size="9.6">0.0</text></svg>
</body></html>
